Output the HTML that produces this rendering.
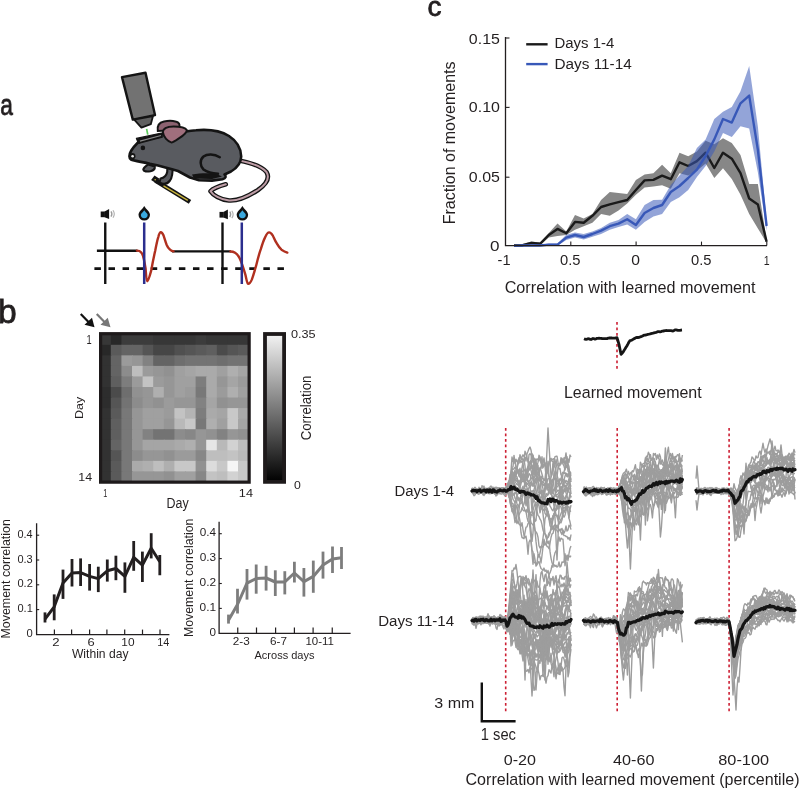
<!DOCTYPE html>
<html><head><meta charset="utf-8"><style>
html,body{margin:0;padding:0;background:#fff;}
svg{display:block;will-change:transform;}
text{font-family:"Liberation Sans",sans-serif;stroke:#231f20;stroke-width:0px;}
</style></head><body>
<svg width="800" height="789" viewBox="0 0 800 789">
<rect width="800" height="789" fill="#fff"/>
<text font-size="29.44" fill="#231f20" style="stroke-width:0.8px" transform="translate(0.29,114.90) scale(0.772,1)">a</text>
<text font-size="32.69" fill="#231f20" style="stroke-width:0.8px" transform="translate(-2.08,323.20) scale(1.026,1)">b</text>
<text font-size="28.52" fill="#231f20" style="stroke-width:0.8px" transform="translate(427.59,16.20) scale(0.975,1)">c</text>
<text font-size="11.88" fill="#231f20"  transform="translate(86.55,344.20) scale(0.783,1)">1</text>
<text font-size="11.74" fill="#231f20"  transform="translate(78.27,480.70) scale(1.060,1)">14</text>
<text font-size="11.22" fill="#231f20" transform="translate(82.84,419.00) rotate(-90) scale(1.111,1)">Day</text>
<text font-size="11.74" fill="#231f20"  transform="translate(103.25,497.00) scale(0.627,1)">1</text>
<text font-size="11.74" fill="#231f20"  transform="translate(238.84,497.00) scale(1.085,1)">14</text>
<text font-size="13.91" fill="#231f20"  transform="translate(166.60,507.60) scale(0.896,1)">Day</text>
<text font-size="10.57" fill="#231f20"  transform="translate(290.89,338.30) scale(1.202,1)">0.35</text>
<text font-size="10.00" fill="#231f20"  transform="translate(294.11,489.00) scale(1.229,1)">0</text>
<text font-size="14.34" fill="#231f20" transform="translate(310.90,440.36) rotate(-90) scale(0.924,1)">Correlation</text>
<text font-size="11.43" fill="#231f20"  transform="translate(17.46,537.75) scale(0.955,1)">0.4</text>
<text font-size="11.43" fill="#231f20"  transform="translate(17.46,562.60) scale(0.962,1)">0.3</text>
<text font-size="11.43" fill="#231f20"  transform="translate(17.46,587.45) scale(0.969,1)">0.2</text>
<text font-size="11.43" fill="#231f20"  transform="translate(17.46,612.30) scale(0.966,1)">0.1</text>
<text font-size="11.43" fill="#231f20"  transform="translate(26.45,637.15) scale(0.984,1)">0</text>
<text font-size="11.57" fill="#231f20"  transform="translate(52.14,645.90) scale(1.140,1)">2</text>
<text font-size="11.57" fill="#231f20"  transform="translate(87.45,645.90) scale(1.115,1)">6</text>
<text font-size="11.57" fill="#231f20"  transform="translate(121.31,645.90) scale(1.028,1)">10</text>
<text font-size="11.74" fill="#231f20"  transform="translate(157.19,645.90) scale(0.924,1)">14</text>
<text font-size="12.41" fill="#231f20"  transform="translate(71.94,658.00) scale(0.976,1)">Within day</text>
<text font-size="12.41" fill="#231f20" transform="translate(10.20,638.49) rotate(-90) scale(1.001,1)">Movement correlation</text>
<text font-size="11.43" fill="#231f20"  transform="translate(199.63,536.45) scale(1.027,1)">0.4</text>
<text font-size="11.43" fill="#231f20"  transform="translate(199.63,561.35) scale(1.035,1)">0.3</text>
<text font-size="11.43" fill="#231f20"  transform="translate(199.62,586.25) scale(1.043,1)">0.2</text>
<text font-size="11.43" fill="#231f20"  transform="translate(199.62,611.15) scale(1.039,1)">0.1</text>
<text font-size="11.43" fill="#231f20"  transform="translate(209.53,636.05) scale(1.021,1)">0</text>
<text font-size="10.86" fill="#231f20"  transform="translate(232.81,645.10) scale(1.081,1)">2-3</text>
<text font-size="10.86" fill="#231f20"  transform="translate(270.01,645.10) scale(1.082,1)">6-7</text>
<text font-size="10.86" fill="#231f20"  transform="translate(305.44,645.10) scale(1.058,1)">10-11</text>
<text font-size="11.31" fill="#231f20"  transform="translate(254.50,658.80) scale(0.976,1)">Across days</text>
<text font-size="12.41" fill="#231f20" transform="translate(193.00,637.09) rotate(-90) scale(0.995,1)">Movement correlation</text>
<text font-size="14.29" fill="#231f20"  transform="translate(468.86,43.70) scale(1.118,1)">0.15</text>
<text font-size="14.29" fill="#231f20"  transform="translate(468.86,112.40) scale(1.116,1)">0.10</text>
<text font-size="14.29" fill="#231f20"  transform="translate(468.86,182.20) scale(1.118,1)">0.05</text>
<text font-size="14.29" fill="#231f20"  transform="translate(490.12,251.00) scale(1.196,1)">0</text>
<text font-size="14.06" fill="#231f20"  transform="translate(497.54,264.90) scale(1.040,1)">-1</text>
<text font-size="13.86" fill="#231f20"  transform="translate(560.01,264.90) scale(1.063,1)">0.5</text>
<text font-size="13.86" fill="#231f20"  transform="translate(631.27,264.90) scale(1.128,1)">0</text>
<text font-size="13.86" fill="#231f20"  transform="translate(691.01,264.90) scale(1.063,1)">0.5</text>
<text font-size="13.62" fill="#231f20"  transform="translate(763.81,264.60) scale(0.776,1)">1</text>
<text font-size="16.14" fill="#231f20"  transform="translate(504.69,293.20) scale(1.003,1)">Correlation with learned movement</text>
<text font-size="15.59" fill="#231f20" transform="translate(455.00,224.28) rotate(-90) scale(1.027,1)">Fraction of movements</text>
<text font-size="14.93" fill="#231f20"  transform="translate(554.50,48.40) scale(1.002,1)">Days 1-4</text>
<text font-size="15.22" fill="#231f20"  transform="translate(554.47,68.50) scale(1.008,1)">Days 11-14</text>
<text font-size="15.59" fill="#231f20"  transform="translate(563.97,397.90) scale(1.026,1)">Learned movement</text>
<text font-size="15.07" fill="#231f20"  transform="translate(394.40,496.00) scale(0.992,1)">Days 1-4</text>
<text font-size="15.07" fill="#231f20"  transform="translate(378.19,626.00) scale(1.001,1)">Days 11-14</text>
<text font-size="13.71" fill="#231f20"  transform="translate(434.36,707.50) scale(1.172,1)">3 mm</text>
<text font-size="16.38" fill="#231f20"  transform="translate(480.80,739.80) scale(0.899,1)">1 sec</text>
<text font-size="15.43" fill="#231f20"  transform="translate(503.76,765.40) scale(1.044,1)">0-20</text>
<text font-size="15.43" fill="#231f20"  transform="translate(612.98,765.40) scale(1.050,1)">40-60</text>
<text font-size="15.43" fill="#231f20"  transform="translate(718.27,765.40) scale(1.057,1)">80-100</text>
<text font-size="16.41" fill="#231f20"  transform="translate(465.50,784.80) scale(0.980,1)">Correlation with learned movement (percentile)</text>
<rect x="100.20" y="334.25" width="11.60" height="11.55" fill="rgb(55,55,55)"/>
<rect x="110.80" y="334.25" width="11.60" height="11.55" fill="rgb(40,40,40)"/>
<rect x="121.40" y="334.25" width="11.60" height="11.55" fill="rgb(60,60,60)"/>
<rect x="132.00" y="334.25" width="11.60" height="11.55" fill="rgb(60,60,60)"/>
<rect x="142.60" y="334.25" width="11.60" height="11.55" fill="rgb(60,60,60)"/>
<rect x="153.20" y="334.25" width="11.60" height="11.55" fill="rgb(55,55,55)"/>
<rect x="163.80" y="334.25" width="11.60" height="11.55" fill="rgb(55,55,55)"/>
<rect x="174.40" y="334.25" width="11.60" height="11.55" fill="rgb(55,55,55)"/>
<rect x="185.00" y="334.25" width="11.60" height="11.55" fill="rgb(55,55,55)"/>
<rect x="195.60" y="334.25" width="11.60" height="11.55" fill="rgb(60,60,60)"/>
<rect x="206.20" y="334.25" width="11.60" height="11.55" fill="rgb(55,55,55)"/>
<rect x="216.80" y="334.25" width="11.60" height="11.55" fill="rgb(55,55,55)"/>
<rect x="227.40" y="334.25" width="11.60" height="11.55" fill="rgb(55,55,55)"/>
<rect x="238.00" y="334.25" width="11.60" height="11.55" fill="rgb(55,55,55)"/>
<rect x="100.20" y="344.80" width="11.60" height="11.55" fill="rgb(40,40,40)"/>
<rect x="110.80" y="344.80" width="11.60" height="11.55" fill="rgb(90,90,90)"/>
<rect x="121.40" y="344.80" width="11.60" height="11.55" fill="rgb(100,100,100)"/>
<rect x="132.00" y="344.80" width="11.60" height="11.55" fill="rgb(100,100,100)"/>
<rect x="142.60" y="344.80" width="11.60" height="11.55" fill="rgb(85,85,85)"/>
<rect x="153.20" y="344.80" width="11.60" height="11.55" fill="rgb(70,70,70)"/>
<rect x="163.80" y="344.80" width="11.60" height="11.55" fill="rgb(70,70,70)"/>
<rect x="174.40" y="344.80" width="11.60" height="11.55" fill="rgb(80,80,80)"/>
<rect x="185.00" y="344.80" width="11.60" height="11.55" fill="rgb(85,85,85)"/>
<rect x="195.60" y="344.80" width="11.60" height="11.55" fill="rgb(90,90,90)"/>
<rect x="206.20" y="344.80" width="11.60" height="11.55" fill="rgb(95,95,95)"/>
<rect x="216.80" y="344.80" width="11.60" height="11.55" fill="rgb(75,75,75)"/>
<rect x="227.40" y="344.80" width="11.60" height="11.55" fill="rgb(85,85,85)"/>
<rect x="238.00" y="344.80" width="11.60" height="11.55" fill="rgb(90,90,90)"/>
<rect x="100.20" y="355.35" width="11.60" height="11.55" fill="rgb(50,50,50)"/>
<rect x="110.80" y="355.35" width="11.60" height="11.55" fill="rgb(100,100,100)"/>
<rect x="121.40" y="355.35" width="11.60" height="11.55" fill="rgb(155,155,155)"/>
<rect x="132.00" y="355.35" width="11.60" height="11.55" fill="rgb(150,150,150)"/>
<rect x="142.60" y="355.35" width="11.60" height="11.55" fill="rgb(130,130,130)"/>
<rect x="153.20" y="355.35" width="11.60" height="11.55" fill="rgb(100,100,100)"/>
<rect x="163.80" y="355.35" width="11.60" height="11.55" fill="rgb(100,100,100)"/>
<rect x="174.40" y="355.35" width="11.60" height="11.55" fill="rgb(110,110,110)"/>
<rect x="185.00" y="355.35" width="11.60" height="11.55" fill="rgb(115,115,115)"/>
<rect x="195.60" y="355.35" width="11.60" height="11.55" fill="rgb(115,115,115)"/>
<rect x="206.20" y="355.35" width="11.60" height="11.55" fill="rgb(115,115,115)"/>
<rect x="216.80" y="355.35" width="11.60" height="11.55" fill="rgb(110,110,110)"/>
<rect x="227.40" y="355.35" width="11.60" height="11.55" fill="rgb(115,115,115)"/>
<rect x="238.00" y="355.35" width="11.60" height="11.55" fill="rgb(115,115,115)"/>
<rect x="100.20" y="365.90" width="11.60" height="11.55" fill="rgb(50,50,50)"/>
<rect x="110.80" y="365.90" width="11.60" height="11.55" fill="rgb(100,100,100)"/>
<rect x="121.40" y="365.90" width="11.60" height="11.55" fill="rgb(140,140,140)"/>
<rect x="132.00" y="365.90" width="11.60" height="11.55" fill="rgb(190,190,190)"/>
<rect x="142.60" y="365.90" width="11.60" height="11.55" fill="rgb(155,155,155)"/>
<rect x="153.20" y="365.90" width="11.60" height="11.55" fill="rgb(150,150,150)"/>
<rect x="163.80" y="365.90" width="11.60" height="11.55" fill="rgb(145,145,145)"/>
<rect x="174.40" y="365.90" width="11.60" height="11.55" fill="rgb(160,160,160)"/>
<rect x="185.00" y="365.90" width="11.60" height="11.55" fill="rgb(165,165,165)"/>
<rect x="195.60" y="365.90" width="11.60" height="11.55" fill="rgb(170,170,170)"/>
<rect x="206.20" y="365.90" width="11.60" height="11.55" fill="rgb(170,170,170)"/>
<rect x="216.80" y="365.90" width="11.60" height="11.55" fill="rgb(160,160,160)"/>
<rect x="227.40" y="365.90" width="11.60" height="11.55" fill="rgb(175,175,175)"/>
<rect x="238.00" y="365.90" width="11.60" height="11.55" fill="rgb(165,165,165)"/>
<rect x="100.20" y="376.45" width="11.60" height="11.55" fill="rgb(50,50,50)"/>
<rect x="110.80" y="376.45" width="11.60" height="11.55" fill="rgb(95,95,95)"/>
<rect x="121.40" y="376.45" width="11.60" height="11.55" fill="rgb(125,125,125)"/>
<rect x="132.00" y="376.45" width="11.60" height="11.55" fill="rgb(155,155,155)"/>
<rect x="142.60" y="376.45" width="11.60" height="11.55" fill="rgb(195,195,195)"/>
<rect x="153.20" y="376.45" width="11.60" height="11.55" fill="rgb(155,155,155)"/>
<rect x="163.80" y="376.45" width="11.60" height="11.55" fill="rgb(150,150,150)"/>
<rect x="174.40" y="376.45" width="11.60" height="11.55" fill="rgb(160,160,160)"/>
<rect x="185.00" y="376.45" width="11.60" height="11.55" fill="rgb(160,160,160)"/>
<rect x="195.60" y="376.45" width="11.60" height="11.55" fill="rgb(125,125,125)"/>
<rect x="206.20" y="376.45" width="11.60" height="11.55" fill="rgb(170,170,170)"/>
<rect x="216.80" y="376.45" width="11.60" height="11.55" fill="rgb(150,150,150)"/>
<rect x="227.40" y="376.45" width="11.60" height="11.55" fill="rgb(165,165,165)"/>
<rect x="238.00" y="376.45" width="11.60" height="11.55" fill="rgb(155,155,155)"/>
<rect x="100.20" y="387.00" width="11.60" height="11.55" fill="rgb(45,45,45)"/>
<rect x="110.80" y="387.00" width="11.60" height="11.55" fill="rgb(75,75,75)"/>
<rect x="121.40" y="387.00" width="11.60" height="11.55" fill="rgb(110,110,110)"/>
<rect x="132.00" y="387.00" width="11.60" height="11.55" fill="rgb(145,145,145)"/>
<rect x="142.60" y="387.00" width="11.60" height="11.55" fill="rgb(150,150,150)"/>
<rect x="153.20" y="387.00" width="11.60" height="11.55" fill="rgb(175,175,175)"/>
<rect x="163.80" y="387.00" width="11.60" height="11.55" fill="rgb(150,150,150)"/>
<rect x="174.40" y="387.00" width="11.60" height="11.55" fill="rgb(160,160,160)"/>
<rect x="185.00" y="387.00" width="11.60" height="11.55" fill="rgb(155,155,155)"/>
<rect x="195.60" y="387.00" width="11.60" height="11.55" fill="rgb(120,120,120)"/>
<rect x="206.20" y="387.00" width="11.60" height="11.55" fill="rgb(170,170,170)"/>
<rect x="216.80" y="387.00" width="11.60" height="11.55" fill="rgb(155,155,155)"/>
<rect x="227.40" y="387.00" width="11.60" height="11.55" fill="rgb(175,175,175)"/>
<rect x="238.00" y="387.00" width="11.60" height="11.55" fill="rgb(160,160,160)"/>
<rect x="100.20" y="397.55" width="11.60" height="11.55" fill="rgb(45,45,45)"/>
<rect x="110.80" y="397.55" width="11.60" height="11.55" fill="rgb(85,85,85)"/>
<rect x="121.40" y="397.55" width="11.60" height="11.55" fill="rgb(115,115,115)"/>
<rect x="132.00" y="397.55" width="11.60" height="11.55" fill="rgb(140,140,140)"/>
<rect x="142.60" y="397.55" width="11.60" height="11.55" fill="rgb(150,150,150)"/>
<rect x="153.20" y="397.55" width="11.60" height="11.55" fill="rgb(145,145,145)"/>
<rect x="163.80" y="397.55" width="11.60" height="11.55" fill="rgb(155,155,155)"/>
<rect x="174.40" y="397.55" width="11.60" height="11.55" fill="rgb(150,150,150)"/>
<rect x="185.00" y="397.55" width="11.60" height="11.55" fill="rgb(150,150,150)"/>
<rect x="195.60" y="397.55" width="11.60" height="11.55" fill="rgb(130,130,130)"/>
<rect x="206.20" y="397.55" width="11.60" height="11.55" fill="rgb(165,165,165)"/>
<rect x="216.80" y="397.55" width="11.60" height="11.55" fill="rgb(145,145,145)"/>
<rect x="227.40" y="397.55" width="11.60" height="11.55" fill="rgb(150,150,150)"/>
<rect x="238.00" y="397.55" width="11.60" height="11.55" fill="rgb(150,150,150)"/>
<rect x="100.20" y="408.10" width="11.60" height="11.55" fill="rgb(50,50,50)"/>
<rect x="110.80" y="408.10" width="11.60" height="11.55" fill="rgb(90,90,90)"/>
<rect x="121.40" y="408.10" width="11.60" height="11.55" fill="rgb(120,120,120)"/>
<rect x="132.00" y="408.10" width="11.60" height="11.55" fill="rgb(150,150,150)"/>
<rect x="142.60" y="408.10" width="11.60" height="11.55" fill="rgb(160,160,160)"/>
<rect x="153.20" y="408.10" width="11.60" height="11.55" fill="rgb(160,160,160)"/>
<rect x="163.80" y="408.10" width="11.60" height="11.55" fill="rgb(155,155,155)"/>
<rect x="174.40" y="408.10" width="11.60" height="11.55" fill="rgb(195,195,195)"/>
<rect x="185.00" y="408.10" width="11.60" height="11.55" fill="rgb(180,180,180)"/>
<rect x="195.60" y="408.10" width="11.60" height="11.55" fill="rgb(125,125,125)"/>
<rect x="206.20" y="408.10" width="11.60" height="11.55" fill="rgb(170,170,170)"/>
<rect x="216.80" y="408.10" width="11.60" height="11.55" fill="rgb(165,165,165)"/>
<rect x="227.40" y="408.10" width="11.60" height="11.55" fill="rgb(200,200,200)"/>
<rect x="238.00" y="408.10" width="11.60" height="11.55" fill="rgb(170,170,170)"/>
<rect x="100.20" y="418.65" width="11.60" height="11.55" fill="rgb(50,50,50)"/>
<rect x="110.80" y="418.65" width="11.60" height="11.55" fill="rgb(95,95,95)"/>
<rect x="121.40" y="418.65" width="11.60" height="11.55" fill="rgb(120,120,120)"/>
<rect x="132.00" y="418.65" width="11.60" height="11.55" fill="rgb(150,150,150)"/>
<rect x="142.60" y="418.65" width="11.60" height="11.55" fill="rgb(160,160,160)"/>
<rect x="153.20" y="418.65" width="11.60" height="11.55" fill="rgb(160,160,160)"/>
<rect x="163.80" y="418.65" width="11.60" height="11.55" fill="rgb(150,150,150)"/>
<rect x="174.40" y="418.65" width="11.60" height="11.55" fill="rgb(185,185,185)"/>
<rect x="185.00" y="418.65" width="11.60" height="11.55" fill="rgb(200,200,200)"/>
<rect x="195.60" y="418.65" width="11.60" height="11.55" fill="rgb(120,120,120)"/>
<rect x="206.20" y="418.65" width="11.60" height="11.55" fill="rgb(175,175,175)"/>
<rect x="216.80" y="418.65" width="11.60" height="11.55" fill="rgb(160,160,160)"/>
<rect x="227.40" y="418.65" width="11.60" height="11.55" fill="rgb(200,200,200)"/>
<rect x="238.00" y="418.65" width="11.60" height="11.55" fill="rgb(165,165,165)"/>
<rect x="100.20" y="429.20" width="11.60" height="11.55" fill="rgb(50,50,50)"/>
<rect x="110.80" y="429.20" width="11.60" height="11.55" fill="rgb(95,95,95)"/>
<rect x="121.40" y="429.20" width="11.60" height="11.55" fill="rgb(120,120,120)"/>
<rect x="132.00" y="429.20" width="11.60" height="11.55" fill="rgb(150,150,150)"/>
<rect x="142.60" y="429.20" width="11.60" height="11.55" fill="rgb(130,130,130)"/>
<rect x="153.20" y="429.20" width="11.60" height="11.55" fill="rgb(115,115,115)"/>
<rect x="163.80" y="429.20" width="11.60" height="11.55" fill="rgb(115,115,115)"/>
<rect x="174.40" y="429.20" width="11.60" height="11.55" fill="rgb(140,140,140)"/>
<rect x="185.00" y="429.20" width="11.60" height="11.55" fill="rgb(135,135,135)"/>
<rect x="195.60" y="429.20" width="11.60" height="11.55" fill="rgb(150,150,150)"/>
<rect x="206.20" y="429.20" width="11.60" height="11.55" fill="rgb(145,145,145)"/>
<rect x="216.80" y="429.20" width="11.60" height="11.55" fill="rgb(130,130,130)"/>
<rect x="227.40" y="429.20" width="11.60" height="11.55" fill="rgb(150,150,150)"/>
<rect x="238.00" y="429.20" width="11.60" height="11.55" fill="rgb(145,145,145)"/>
<rect x="100.20" y="439.75" width="11.60" height="11.55" fill="rgb(50,50,50)"/>
<rect x="110.80" y="439.75" width="11.60" height="11.55" fill="rgb(100,100,100)"/>
<rect x="121.40" y="439.75" width="11.60" height="11.55" fill="rgb(120,120,120)"/>
<rect x="132.00" y="439.75" width="11.60" height="11.55" fill="rgb(150,150,150)"/>
<rect x="142.60" y="439.75" width="11.60" height="11.55" fill="rgb(165,165,165)"/>
<rect x="153.20" y="439.75" width="11.60" height="11.55" fill="rgb(165,165,165)"/>
<rect x="163.80" y="439.75" width="11.60" height="11.55" fill="rgb(165,165,165)"/>
<rect x="174.40" y="439.75" width="11.60" height="11.55" fill="rgb(170,170,170)"/>
<rect x="185.00" y="439.75" width="11.60" height="11.55" fill="rgb(175,175,175)"/>
<rect x="195.60" y="439.75" width="11.60" height="11.55" fill="rgb(150,150,150)"/>
<rect x="206.20" y="439.75" width="11.60" height="11.55" fill="rgb(230,230,230)"/>
<rect x="216.80" y="439.75" width="11.60" height="11.55" fill="rgb(185,185,185)"/>
<rect x="227.40" y="439.75" width="11.60" height="11.55" fill="rgb(210,210,210)"/>
<rect x="238.00" y="439.75" width="11.60" height="11.55" fill="rgb(190,190,190)"/>
<rect x="100.20" y="450.30" width="11.60" height="11.55" fill="rgb(50,50,50)"/>
<rect x="110.80" y="450.30" width="11.60" height="11.55" fill="rgb(85,85,85)"/>
<rect x="121.40" y="450.30" width="11.60" height="11.55" fill="rgb(120,120,120)"/>
<rect x="132.00" y="450.30" width="11.60" height="11.55" fill="rgb(140,140,140)"/>
<rect x="142.60" y="450.30" width="11.60" height="11.55" fill="rgb(150,150,150)"/>
<rect x="153.20" y="450.30" width="11.60" height="11.55" fill="rgb(150,150,150)"/>
<rect x="163.80" y="450.30" width="11.60" height="11.55" fill="rgb(145,145,145)"/>
<rect x="174.40" y="450.30" width="11.60" height="11.55" fill="rgb(155,155,155)"/>
<rect x="185.00" y="450.30" width="11.60" height="11.55" fill="rgb(155,155,155)"/>
<rect x="195.60" y="450.30" width="11.60" height="11.55" fill="rgb(135,135,135)"/>
<rect x="206.20" y="450.30" width="11.60" height="11.55" fill="rgb(190,190,190)"/>
<rect x="216.80" y="450.30" width="11.60" height="11.55" fill="rgb(190,190,190)"/>
<rect x="227.40" y="450.30" width="11.60" height="11.55" fill="rgb(195,195,195)"/>
<rect x="238.00" y="450.30" width="11.60" height="11.55" fill="rgb(185,185,185)"/>
<rect x="100.20" y="460.85" width="11.60" height="11.55" fill="rgb(50,50,50)"/>
<rect x="110.80" y="460.85" width="11.60" height="11.55" fill="rgb(90,90,90)"/>
<rect x="121.40" y="460.85" width="11.60" height="11.55" fill="rgb(120,120,120)"/>
<rect x="132.00" y="460.85" width="11.60" height="11.55" fill="rgb(170,170,170)"/>
<rect x="142.60" y="460.85" width="11.60" height="11.55" fill="rgb(175,175,175)"/>
<rect x="153.20" y="460.85" width="11.60" height="11.55" fill="rgb(190,190,190)"/>
<rect x="163.80" y="460.85" width="11.60" height="11.55" fill="rgb(175,175,175)"/>
<rect x="174.40" y="460.85" width="11.60" height="11.55" fill="rgb(200,200,200)"/>
<rect x="185.00" y="460.85" width="11.60" height="11.55" fill="rgb(200,200,200)"/>
<rect x="195.60" y="460.85" width="11.60" height="11.55" fill="rgb(145,145,145)"/>
<rect x="206.20" y="460.85" width="11.60" height="11.55" fill="rgb(220,220,220)"/>
<rect x="216.80" y="460.85" width="11.60" height="11.55" fill="rgb(200,200,200)"/>
<rect x="227.40" y="460.85" width="11.60" height="11.55" fill="rgb(245,245,245)"/>
<rect x="238.00" y="460.85" width="11.60" height="11.55" fill="rgb(200,200,200)"/>
<rect x="100.20" y="471.40" width="11.60" height="11.55" fill="rgb(50,50,50)"/>
<rect x="110.80" y="471.40" width="11.60" height="11.55" fill="rgb(90,90,90)"/>
<rect x="121.40" y="471.40" width="11.60" height="11.55" fill="rgb(120,120,120)"/>
<rect x="132.00" y="471.40" width="11.60" height="11.55" fill="rgb(150,150,150)"/>
<rect x="142.60" y="471.40" width="11.60" height="11.55" fill="rgb(150,150,150)"/>
<rect x="153.20" y="471.40" width="11.60" height="11.55" fill="rgb(150,150,150)"/>
<rect x="163.80" y="471.40" width="11.60" height="11.55" fill="rgb(145,145,145)"/>
<rect x="174.40" y="471.40" width="11.60" height="11.55" fill="rgb(160,160,160)"/>
<rect x="185.00" y="471.40" width="11.60" height="11.55" fill="rgb(160,160,160)"/>
<rect x="195.60" y="471.40" width="11.60" height="11.55" fill="rgb(135,135,135)"/>
<rect x="206.20" y="471.40" width="11.60" height="11.55" fill="rgb(195,195,195)"/>
<rect x="216.80" y="471.40" width="11.60" height="11.55" fill="rgb(190,190,190)"/>
<rect x="227.40" y="471.40" width="11.60" height="11.55" fill="rgb(210,210,210)"/>
<rect x="238.00" y="471.40" width="11.60" height="11.55" fill="rgb(200,200,200)"/>
<rect x="100.6" y="333.7" width="148.55" height="148.45" fill="none" stroke="#1e1a1b" stroke-width="3.2"/>
<defs><linearGradient id="cb" x1="0" y1="0" x2="0" y2="1"><stop offset="0" stop-color="#f4f4f4"/><stop offset="1" stop-color="#000"/></linearGradient></defs>
<rect x="265" y="334" width="19.1" height="147.85" fill="url(#cb)" stroke="#1e1a1b" stroke-width="3.8"/>
<line x1="80.75" y1="314" x2="89" y2="322.5" stroke="#111" stroke-width="2.2"/>
<polygon points="94.5,327.25 84.5,324.75 92,317.75" fill="#111"/>
<line x1="96.75" y1="314" x2="105" y2="322.5" stroke="#777" stroke-width="2.2"/>
<polygon points="110.5,327.25 100.5,324.75 107.75,317.75" fill="#777"/>
<path d="M36.6,523.2 V634.6 H169.4" fill="none" stroke="#231f20" stroke-width="1.3"/>
<line x1="36.6" y1="535.2" x2="39.2" y2="535.2" stroke="#231f20" stroke-width="1.1"/>
<line x1="36.6" y1="560" x2="39.2" y2="560" stroke="#231f20" stroke-width="1.1"/>
<line x1="36.6" y1="584.8" x2="39.2" y2="584.8" stroke="#231f20" stroke-width="1.1"/>
<line x1="36.6" y1="609.6" x2="39.2" y2="609.6" stroke="#231f20" stroke-width="1.1"/>
<line x1="54.4" y1="634.6" x2="54.4" y2="629.6" stroke="#231f20" stroke-width="1.2"/>
<line x1="71.6" y1="634.6" x2="71.6" y2="629.6" stroke="#231f20" stroke-width="1.2"/>
<line x1="89.6" y1="634.6" x2="89.6" y2="629.6" stroke="#231f20" stroke-width="1.2"/>
<line x1="106.9" y1="634.6" x2="106.9" y2="629.6" stroke="#231f20" stroke-width="1.2"/>
<line x1="124.7" y1="634.6" x2="124.7" y2="629.6" stroke="#231f20" stroke-width="1.2"/>
<line x1="142.5" y1="634.6" x2="142.5" y2="629.6" stroke="#231f20" stroke-width="1.2"/>
<line x1="160" y1="634.6" x2="160" y2="629.6" stroke="#231f20" stroke-width="1.2"/>
<polyline points="45,619.1 54.2,606.8 63,583.1 72,573 80.6,572.6 89.6,576.4 98.3,578.6 107.3,570.8 115.9,568.5 124.9,576.4 133.7,557.3 142.4,565.1 151.2,548.3 159.8,561.75" fill="none" stroke="#231f20" stroke-width="3" stroke-linejoin="round"/>
<line x1="45" y1="622.5" x2="45" y2="612.4" stroke="#231f20" stroke-width="2.8"/>
<line x1="54.2" y1="620.3" x2="54.2" y2="594.4" stroke="#231f20" stroke-width="2.8"/>
<line x1="63" y1="598.9" x2="63" y2="569.6" stroke="#231f20" stroke-width="2.8"/>
<line x1="72" y1="586.5" x2="72" y2="559" stroke="#231f20" stroke-width="2.8"/>
<line x1="80.6" y1="586" x2="80.6" y2="558.4" stroke="#231f20" stroke-width="2.8"/>
<line x1="89.6" y1="590.6" x2="89.6" y2="564" stroke="#231f20" stroke-width="2.8"/>
<line x1="98.3" y1="592.1" x2="98.3" y2="566.7" stroke="#231f20" stroke-width="2.8"/>
<line x1="107.3" y1="581.6" x2="107.3" y2="559.5" stroke="#231f20" stroke-width="2.8"/>
<line x1="115.9" y1="580.2" x2="115.9" y2="555.7" stroke="#231f20" stroke-width="2.8"/>
<line x1="124.9" y1="592.8" x2="124.9" y2="562.4" stroke="#231f20" stroke-width="2.8"/>
<line x1="133.7" y1="570.8" x2="133.7" y2="541" stroke="#231f20" stroke-width="2.8"/>
<line x1="142.4" y1="582" x2="142.4" y2="551.6" stroke="#231f20" stroke-width="2.8"/>
<line x1="151.2" y1="558.4" x2="151.2" y2="533.2" stroke="#231f20" stroke-width="2.8"/>
<line x1="159.8" y1="575.25" x2="159.8" y2="555" stroke="#231f20" stroke-width="2.8"/>
<path d="M219.1,521.8 V633.4 H350.6" fill="none" stroke="#231f20" stroke-width="1.3"/>
<line x1="219.1" y1="533.7" x2="221.8" y2="533.7" stroke="#231f20" stroke-width="1.1"/>
<line x1="219.1" y1="558.6" x2="221.8" y2="558.6" stroke="#231f20" stroke-width="1.1"/>
<line x1="219.1" y1="583.5" x2="221.8" y2="583.5" stroke="#231f20" stroke-width="1.1"/>
<line x1="219.1" y1="608.4" x2="221.8" y2="608.4" stroke="#231f20" stroke-width="1.1"/>
<line x1="237.75" y1="633.4" x2="237.75" y2="627.5" stroke="#231f20" stroke-width="1.2"/>
<line x1="256.5" y1="633.4" x2="256.5" y2="627.5" stroke="#231f20" stroke-width="1.2"/>
<line x1="275.6" y1="633.4" x2="275.6" y2="627.5" stroke="#231f20" stroke-width="1.2"/>
<line x1="294.4" y1="633.4" x2="294.4" y2="627.5" stroke="#231f20" stroke-width="1.2"/>
<line x1="313.1" y1="633.4" x2="313.1" y2="627.5" stroke="#231f20" stroke-width="1.2"/>
<line x1="332.25" y1="633.4" x2="332.25" y2="627.5" stroke="#231f20" stroke-width="1.2"/>
<polyline points="228.5,620.3 237.5,604.5 247,583.1 256.2,578.6 266.1,578 275.3,582 284.8,582 294.4,573 303.9,581.6 313.3,576.4 323,565.1 332.5,559 341.5,557.7" fill="none" stroke="#7d7d7d" stroke-width="3" stroke-linejoin="round"/>
<line x1="228.5" y1="623.6" x2="228.5" y2="614.6" stroke="#7d7d7d" stroke-width="2.8"/>
<line x1="237.5" y1="613.5" x2="237.5" y2="588.75" stroke="#7d7d7d" stroke-width="2.8"/>
<line x1="247" y1="599.6" x2="247" y2="569" stroke="#7d7d7d" stroke-width="2.8"/>
<line x1="256.2" y1="593.7" x2="256.2" y2="564.5" stroke="#7d7d7d" stroke-width="2.8"/>
<line x1="266.1" y1="590.6" x2="266.1" y2="565.8" stroke="#7d7d7d" stroke-width="2.8"/>
<line x1="275.3" y1="596" x2="275.3" y2="570.3" stroke="#7d7d7d" stroke-width="2.8"/>
<line x1="284.8" y1="594.4" x2="284.8" y2="571.2" stroke="#7d7d7d" stroke-width="2.8"/>
<line x1="294.4" y1="582.5" x2="294.4" y2="561.75" stroke="#7d7d7d" stroke-width="2.8"/>
<line x1="303.9" y1="596.6" x2="303.9" y2="568" stroke="#7d7d7d" stroke-width="2.8"/>
<line x1="313.3" y1="592.8" x2="313.3" y2="560.6" stroke="#7d7d7d" stroke-width="2.8"/>
<line x1="323" y1="578.6" x2="323" y2="551.6" stroke="#7d7d7d" stroke-width="2.8"/>
<line x1="332.5" y1="573" x2="332.5" y2="546.5" stroke="#7d7d7d" stroke-width="2.8"/>
<line x1="341.5" y1="569" x2="341.5" y2="547" stroke="#7d7d7d" stroke-width="2.8"/>
<polygon points="514.0,244.5 522.7,244.0 531.4,241.5 540.1,242.5 548.8,233.0 557.5,223.6 566.3,231.5 575.0,214.9 583.7,218.4 592.4,214.0 601.1,200.0 609.8,192.0 618.5,193.0 627.2,193.9 635.9,180.0 644.6,174.4 653.4,173.2 662.1,164.7 670.8,173.2 679.5,152.7 688.2,156.3 696.9,151.5 705.6,140.7 714.3,144.3 723.0,138.2 731.8,143.0 740.5,155.0 749.2,183.9 757.9,183.9 766.6,240.5 766.6,242.9 757.9,228.4 749.2,214.0 740.5,194.7 731.8,179.1 723.0,168.3 714.3,177.9 705.6,163.5 696.9,170.8 688.2,175.6 679.5,173.2 670.8,188.8 662.1,185.2 653.4,186.4 644.6,187.6 635.9,194.8 627.2,203.5 618.5,210.5 609.8,215.8 601.1,214.0 592.4,222.8 583.7,226.2 575.0,229.8 566.3,235.0 557.5,235.9 548.8,237.6 540.1,245.0 531.4,244.5 522.7,246.2 514.0,246.2" fill="#878787"/>
<polyline points="514.0,245.5 522.7,245.2 531.4,242.9 540.1,243.8 548.8,235.0 557.5,228.9 566.3,233.3 575.0,221.9 583.7,222.8 592.4,215.8 601.1,207.0 609.8,204.4 618.5,202.1 627.2,200.0 635.9,190.0 644.6,180.4 653.4,179.9 662.1,175.6 670.8,179.2 679.5,162.3 688.2,166.0 696.9,161.1 705.6,152.7 714.3,168.0 723.0,152.7 731.8,158.7 740.5,173.2 749.2,198.5 757.9,204.5 766.6,241.8" fill="none" stroke="#1a1a1a" stroke-width="2.4" stroke-linejoin="round"/>
<polygon points="514.0,245.0 522.7,244.8 531.4,244.8 540.1,244.8 548.8,243.5 557.5,243.5 566.3,234.7 575.0,232.4 583.7,234.0 592.4,231.5 601.1,228.0 609.8,222.8 618.5,220.0 627.2,214.0 635.9,219.2 644.6,205.0 653.4,200.0 662.1,199.7 670.8,185.0 679.5,175.6 688.2,166.0 696.9,148.0 705.6,139.4 714.3,119.0 723.0,111.7 731.8,107.0 740.5,91.3 749.2,66.0 757.9,126.7 766.6,221.0 766.6,231.0 757.9,172.4 749.2,128.6 740.5,126.2 731.8,137.0 723.0,133.0 714.3,151.4 705.6,165.9 696.9,177.0 688.2,190.0 679.5,197.2 670.8,202.0 662.1,214.0 653.4,216.5 644.6,222.0 635.9,229.8 627.2,224.5 618.5,227.0 609.8,229.8 601.1,234.1 592.4,236.8 583.7,239.4 575.0,237.6 566.3,239.9 557.5,245.8 548.8,245.8 540.1,246.3 531.4,246.3 522.7,246.3 514.0,246.5" fill="#3a5ab8" fill-opacity="0.55"/>
<polyline points="514.0,245.9 522.7,245.5 531.4,245.5 540.1,245.5 548.8,244.6 557.5,244.6 566.3,237.6 575.0,235.0 583.7,237.0 592.4,234.0 601.1,230.6 609.8,226.2 618.5,223.6 627.2,219.2 635.9,225.0 644.6,213.0 653.4,208.0 662.1,205.0 670.8,192.0 679.5,186.0 688.2,178.0 696.9,169.6 705.6,156.0 714.3,139.4 723.0,119.0 731.8,122.6 740.5,103.3 749.2,95.6 757.9,150.0 766.6,226.0" fill="none" stroke="#3858b8" stroke-width="2.4" stroke-linejoin="round"/>
<path d="M505.5,37 V245.6 H767" fill="none" stroke="#231f20" stroke-width="1.3"/>
<line x1="505.5" y1="38" x2="509.5" y2="38" stroke="#231f20" stroke-width="1.1"/>
<line x1="505.5" y1="107.4" x2="509.5" y2="107.4" stroke="#231f20" stroke-width="1.1"/>
<line x1="505.5" y1="177.2" x2="509.5" y2="177.2" stroke="#231f20" stroke-width="1.1"/>
<line x1="570.8" y1="245.6" x2="570.8" y2="241.6" stroke="#231f20" stroke-width="1.1"/>
<line x1="636.1" y1="245.6" x2="636.1" y2="241.6" stroke="#231f20" stroke-width="1.1"/>
<line x1="701.5" y1="245.6" x2="701.5" y2="241.6" stroke="#231f20" stroke-width="1.1"/>
<line x1="766.8" y1="245.6" x2="766.8" y2="241.6" stroke="#231f20" stroke-width="1.1"/>
<line x1="526.2" y1="44.3" x2="547.6" y2="44.3" stroke="#1a1a1a" stroke-width="2.4"/>
<line x1="526.2" y1="64.1" x2="547.6" y2="64.1" stroke="#3858b8" stroke-width="2.4"/>
<line x1="94.4" y1="268.6" x2="284.5" y2="268.6" stroke="#111" stroke-width="2.8" stroke-dasharray="6.5 7.58"/>
<line x1="105.25" y1="222.5" x2="105.25" y2="284" stroke="#111" stroke-width="2.4"/>
<line x1="222.5" y1="222.5" x2="222.5" y2="284" stroke="#111" stroke-width="2.4"/>
<line x1="96.9" y1="250.7" x2="137.5" y2="250.7" stroke="#111" stroke-width="2.4"/>
<line x1="172" y1="251.4" x2="231" y2="251.4" stroke="#111" stroke-width="2.4"/>
<path d="M136.9,250.6 C139,250.6 140.5,251.5 141.25,252.5 C142.8,254.5 143.5,257 143.75,258.75 C144.5,262 145,265 145.6,268.75 C146,273 146.3,281.2 147.2,281.2 C148.5,281.2 150,275 151.4,269.8 C152.5,263 154,256 155.2,250.8 C156.3,245 157.3,240 158.3,237.1 C159,234 160,232.2 160.9,232.2 C162,232.2 162.8,233.8 163.6,235.6 C164.6,238.5 165.5,242 166.6,244.7 C167.6,247 168.6,248.5 169.7,249.3 C171,250.4 172.2,251.2 173.5,251.2" fill="none" stroke="#b0301f" stroke-width="2.4" stroke-linecap="round"/>
<path d="M230.5,251.5 C234,251.5 237.5,254 239.5,258 C242,263 244,270 245.3,274.4 C246.3,278 247,283.9 248.2,283.9 C249.5,283.9 251,281.5 251.9,279.4 C253.5,275 254.5,271 256,266.2 C257.5,260 259,254 260.9,248.9 C262.5,243.5 264,239.5 265.1,237.4 C266.5,234 267.5,232.4 269.2,232.4 C270.8,232.4 271.8,234 272.9,235.7 C274,238 275,241 276.6,243.1 C278,245.5 279.5,248 281.5,249.7 C283.5,251 285.5,252 287.3,252.6" fill="none" stroke="#b0301f" stroke-width="2.4" stroke-linecap="round"/>
<line x1="144.2" y1="222.5" x2="144.2" y2="284" stroke="#2b2e8e" stroke-width="2.5"/>
<line x1="241.8" y1="222.5" x2="241.8" y2="284" stroke="#2b2e8e" stroke-width="2.5"/>
<rect x="100.7" y="211.5" width="4.2" height="5.7" fill="#111"/>
<polygon points="104.60000000000001,211.5 109.10000000000001,209.1 109.10000000000001,218.9 104.60000000000001,217.2" fill="#111"/>
<path d="M111.0,211.29999999999998 Q112.8,214.0 111.0,216.7" fill="none" stroke="#9a9a9a" stroke-width="1.3"/>
<path d="M113.0,210.29999999999998 Q115.60000000000001,214.0 113.0,217.7" fill="none" stroke="#b0b0b0" stroke-width="1.1"/>
<rect x="219.5" y="211.9" width="4.2" height="5.7" fill="#111"/>
<polygon points="223.4,211.9 227.9,209.5 227.9,219.3 223.4,217.6" fill="#111"/>
<path d="M229.8,211.7 Q231.6,214.4 229.8,217.1" fill="none" stroke="#9a9a9a" stroke-width="1.3"/>
<path d="M231.8,210.7 Q234.4,214.4 231.8,218.1" fill="none" stroke="#b0b0b0" stroke-width="1.1"/>
<path d="M144.25,206.0 C145.75,209.0 150.0,211.5 150.0,214.85 A5.75,5.75 0 0 1 138.5,214.85 C138.5,211.5 142.75,209.0 144.25,206.0 Z" fill="#111"/>
<path d="M144.25,210.3 C145.25,212.2 147.65,213.4 147.65,214.85 A3.4,3.4 0 0 1 140.85,214.85 C140.85,213.4 143.25,212.2 144.25,210.3 Z" fill="#3aa9df"/>
<path d="M242.4,206.0 C243.9,209.0 248.15,211.5 248.15,214.85 A5.75,5.75 0 0 1 236.65,214.85 C236.65,211.5 240.9,209.0 242.4,206.0 Z" fill="#111"/>
<path d="M242.4,210.3 C243.4,212.2 245.8,213.4 245.8,214.85 A3.4,3.4 0 0 1 239.0,214.85 C239.0,213.4 241.4,212.2 242.4,210.3 Z" fill="#3aa9df"/>
<polygon points="122,77.1 145.5,72.7 155,115.1 132.8,119.6" fill="#727272" stroke="#141414" stroke-width="2.4" stroke-linejoin="round"/>
<polygon points="134.2,119.6 153,116.1 150.8,124.2 141.4,127.6" fill="#606060" stroke="#141414" stroke-width="1.8" stroke-linejoin="round"/>
<line x1="146.6" y1="128.8" x2="147.8" y2="134.6" stroke="#5ccc5c" stroke-width="1.7"/>
<path d="M239,160.4 C250,162.5 261,166 266.5,172 C270,178 266,184.5 258,190 C248,196.5 238,201.2 229,200.5 C220,199.5 213,195 210.5,191.2 C213,188.5 219,186.2 225.8,184.3" fill="none" stroke="#141414" stroke-width="4.6" stroke-linecap="round" stroke-linejoin="round"/>
<path d="M239,160.4 C250,162.5 261,166 266.5,172 C270,178 266,184.5 258,190 C248,196.5 238,201.2 229,200.5 C220,199.5 213,195 210.5,191.2 C213,188.5 219,186.2 225.8,184.3" fill="none" stroke="#bd9ca5" stroke-width="2.0" stroke-linecap="round" stroke-linejoin="round"/>
<path d="M157.8,131 C157,126 159,122.5 164,121.5 C170,120.3 177,120.8 179,123.5 C180.5,126 179,129 176,130 Z" fill="#8c6270" stroke="#141414" stroke-width="2"/>
<line x1="155.5" y1="180.6" x2="190" y2="201.9" stroke="#141414" stroke-width="4.6"/>
<line x1="163.5" y1="185.9" x2="187.8" y2="200.4" stroke="#c9b53c" stroke-width="1.3"/>
<polygon points="151.1,179.9 154.5,175.4 159.5,178.8 156.5,183.5" fill="#141414"/>
<circle cx="155.2" cy="179.7" r="0.8" fill="#c9b53c"/>
<path d="M167.6,163.5 L167.2,172 C166.5,175.5 164,177.8 160.5,178.6 L159.5,182.5 C163.5,184.8 167.5,183.8 170,180.5 C172.5,177 172.8,172 172.6,166.5 Z" fill="#595b60" stroke="#141414" stroke-width="2.1" stroke-linejoin="round"/>
<path d="M148,164.5 C146,166 143.5,167.5 143.3,169.6 C143.5,171.6 147,171.8 150.5,171.2 C153.5,170.5 155,168.5 154.8,166.5 Z" fill="#595b60" stroke="#141414" stroke-width="2.1" stroke-linejoin="round"/>
<path d="M129.4,156.2 C129.3,152.5 133,147.5 137.5,143 L150,137.5 L163,134 C175,133.4 188,130.8 196,130.3 C208,129.2 220,130.5 229,136 C236,140.5 241,148 241.2,156.5 C241,163.5 237,168 231,171.5 L224.5,174.5 C226.5,176 226,178.5 222.5,179.3 L212,180.6 L199,180.2 L190,177.5 L178,171 C170,168.5 160,166 150,163.8 C143,162 134,161 131,159.5 C129.8,158.5 129.4,157.4 129.4,156.2 Z" fill="#595b60" stroke="#141414" stroke-width="2.6" stroke-linejoin="round"/>
<path d="M192,174.5 C200,173 210,173 216,173.8 L222,176.5 L212,179 L194,178.5 Z" fill="#141414"/>
<path d="M219.8,157.2 C214,153.5 207,153.8 203.5,156.5 C199.5,160 200,166 203.5,169.5 C207.5,172.5 213,173.5 218,173.7" fill="none" stroke="#141414" stroke-width="2.5" stroke-linecap="round"/>
<path d="M162.8,132 C163,128 167,126.5 173.7,126.4 C179,126.4 185,127 186.8,130 C187,133 182,136.5 178.5,138.6 C175,141 172,142.8 171.2,142.4 C168,141.5 163.5,137.5 162.8,132 Z" fill="#a06f7d" stroke="#141414" stroke-width="2"/>
<polygon points="136.4,138.4 161.5,133 162.3,137.2 138.3,143.3" fill="#141414" stroke="#141414" stroke-width="1.2" stroke-linejoin="round"/>
<line x1="140" y1="141.2" x2="161" y2="135.5" stroke="#8a8a8a" stroke-width="1.2"/>
<circle cx="142.9" cy="147.9" r="2.3" fill="#141414"/>
<circle cx="132.4" cy="156.2" r="3.1" fill="#141414"/>
<circle cx="132.6" cy="156.3" r="1.3" fill="#eee"/>
<line x1="505.7" y1="428" x2="505.7" y2="711.5" stroke="#cc1f33" stroke-width="1.6" stroke-dasharray="2.7 2.8"/>
<line x1="617.2" y1="428" x2="617.2" y2="711.5" stroke="#cc1f33" stroke-width="1.6" stroke-dasharray="2.7 2.8"/>
<line x1="729.1" y1="428" x2="729.1" y2="711.5" stroke="#cc1f33" stroke-width="1.6" stroke-dasharray="2.7 2.8"/>
<line x1="617" y1="322" x2="617" y2="370" stroke="#cc1f33" stroke-width="1.6" stroke-dasharray="2.7 2.8"/>
<polyline points="584.0,338.8 585.0,339.2 586.0,339.4 587.0,339.1 588.0,338.7 589.0,338.8 590.0,339.3 591.0,339.5 592.0,339.0 593.0,338.5 594.0,338.7 595.0,339.1 596.0,338.8 597.0,338.4 598.0,338.3 599.0,338.2 600.0,338.3 601.0,338.4 602.0,338.5 603.0,338.7 604.0,338.6 605.0,338.6 606.0,338.7 607.0,338.6 608.0,338.2 609.0,338.0 610.0,338.0 611.0,338.0 612.0,338.0 613.0,338.2 614.0,338.2 615.0,338.1 616.0,337.8 617.0,337.7 618.0,341.0 619.0,344.4 620.0,349.3 621.0,354.3 622.0,353.5 623.0,352.2 624.0,350.6 625.0,348.9 626.0,347.3 627.0,345.7 628.0,343.9 629.0,342.0 630.0,340.6 631.0,340.4 632.0,340.0 633.0,339.4 634.0,338.8 635.0,338.2 636.0,337.6 637.0,337.4 638.0,337.5 639.0,337.4 640.0,337.0 641.0,336.6 642.0,336.2 643.0,335.7 644.0,335.2 645.0,335.1 646.0,335.0 647.0,334.7 648.0,334.3 649.0,334.2 650.0,334.0 651.0,333.6 652.0,333.4 653.0,333.2 654.0,332.9 655.0,332.7 656.0,332.5 657.0,332.0 658.0,331.6 659.0,331.7 660.0,331.9 661.0,331.6 662.0,331.2 663.0,331.0 664.0,331.0 665.0,330.7 666.0,330.5 667.0,330.6 668.0,330.6 669.0,330.6 670.0,330.7 671.0,330.7 672.0,330.9 673.0,331.0 674.0,330.5 675.0,329.9 676.0,329.8 677.0,330.1 678.0,330.4 679.0,330.4 680.0,330.3 681.0,330.1 682.0,330.0" fill="none" stroke="#151515" stroke-width="2.8" stroke-linejoin="round"/>
<g fill="none" stroke="#9d9d9d" stroke-width="1.4" stroke-linejoin="round"><polyline points="472.0,487.9 473.0,491.1 474.0,493.9 475.0,490.3 476.0,491.7 477.0,490.5 478.0,491.1 479.0,491.1 480.0,491.8 481.0,492.0 482.0,490.5 483.0,489.8 484.0,490.3 485.0,491.5 486.0,493.0 487.0,491.8 488.0,492.5 489.0,493.4 490.0,492.2 491.0,492.8 492.0,491.9 493.0,491.3 494.0,493.0 495.0,492.9 496.0,492.3 497.0,490.3 498.0,489.6 499.0,490.3 500.0,490.9 501.0,491.8 502.0,489.7 503.0,487.7 504.0,489.7 505.0,490.0 506.0,490.5 507.0,486.4 508.0,483.5 509.0,484.6 510.0,483.5 511.0,472.4 512.0,467.4 513.0,466.9 514.0,455.4 515.0,463.3 516.0,459.2 517.0,461.8 518.0,462.6 519.0,457.8 520.0,462.8 521.0,460.1 522.0,458.1 523.0,460.2 524.0,459.0 525.0,466.1 526.0,478.2 527.0,480.0 528.0,471.8 529.0,464.4 530.0,462.7 531.0,459.7 532.0,453.8 533.0,455.7 534.0,459.8 535.0,458.8 536.0,461.3 537.0,467.0 538.0,470.7 539.0,470.9 540.0,478.2 541.0,490.0 542.0,492.4 543.0,501.5 544.0,497.2 545.0,499.4 546.0,493.4 547.0,494.5 548.0,494.9 549.0,488.1 550.0,492.8 551.0,490.2 552.0,480.3 553.0,481.3 554.0,478.6 555.0,477.9 556.0,491.3 557.0,478.3 558.0,467.4 559.0,465.3 560.0,465.5 561.0,457.7 562.0,460.0 563.0,463.0 564.0,459.4 565.0,465.0 566.0,460.9 567.0,456.6 568.0,463.8 569.0,466.8 570.0,477.5 571.0,479.7"/><polyline points="472.0,491.5 473.0,490.7 474.0,490.8 475.0,491.4 476.0,491.9 477.0,491.5 478.0,492.0 479.0,491.2 480.0,490.5 481.0,489.9 482.0,490.9 483.0,494.8 484.0,494.6 485.0,493.6 486.0,492.0 487.0,492.6 488.0,493.5 489.0,492.9 490.0,491.8 491.0,490.0 492.0,491.7 493.0,489.4 494.0,490.0 495.0,490.1 496.0,488.4 497.0,487.5 498.0,488.3 499.0,489.8 500.0,490.1 501.0,492.7 502.0,491.3 503.0,492.6 504.0,491.8 505.0,490.4 506.0,490.4 507.0,491.7 508.0,490.9 509.0,493.8 510.0,500.3 511.0,503.8 512.0,508.1 513.0,508.7 514.0,512.4 515.0,517.1 516.0,519.0 517.0,515.5 518.0,507.6 519.0,505.3 520.0,503.8 521.0,503.1 522.0,502.0 523.0,506.6 524.0,507.3 525.0,510.6 526.0,511.5 527.0,517.4 528.0,521.3 529.0,522.9 530.0,521.1 531.0,515.4 532.0,514.7 533.0,515.4 534.0,519.7 535.0,530.5 536.0,541.4 537.0,549.6 538.0,553.7 539.0,557.3 540.0,553.0 541.0,548.3 542.0,544.6 543.0,538.0 544.0,530.6 545.0,518.7 546.0,516.3 547.0,514.0 548.0,511.6 549.0,518.4 550.0,521.7 551.0,522.3 552.0,521.9 553.0,519.1 554.0,516.9 555.0,511.8 556.0,509.0 557.0,507.0 558.0,500.6 559.0,502.9 560.0,496.3 561.0,487.2 562.0,494.5 563.0,504.9 564.0,505.2 565.0,504.5 566.0,502.4 567.0,500.2 568.0,511.1 569.0,518.4 570.0,521.8 571.0,526.7"/><polyline points="472.0,491.2 473.0,493.3 474.0,491.3 475.0,488.6 476.0,488.6 477.0,490.0 478.0,489.4 479.0,489.9 480.0,490.2 481.0,490.0 482.0,491.2 483.0,492.6 484.0,494.0 485.0,493.9 486.0,493.2 487.0,492.0 488.0,488.5 489.0,488.4 490.0,488.9 491.0,490.5 492.0,487.9 493.0,487.1 494.0,489.4 495.0,491.3 496.0,495.1 497.0,495.2 498.0,493.3 499.0,489.6 500.0,489.1 501.0,491.9 502.0,491.9 503.0,490.7 504.0,487.9 505.0,490.3 506.0,490.2 507.0,488.0 508.0,488.5 509.0,486.1 510.0,486.0 511.0,486.5 512.0,477.0 513.0,481.1 514.0,480.2 515.0,474.1 516.0,472.4 517.0,468.6 518.0,464.4 519.0,462.7 520.0,454.7 521.0,458.2 522.0,456.9 523.0,454.8 524.0,456.5 525.0,457.3 526.0,461.0 527.0,453.7 528.0,451.3 529.0,448.7 530.0,447.0 531.0,449.9 532.0,456.0 533.0,457.6 534.0,466.5 535.0,471.6 536.0,475.9 537.0,477.3 538.0,481.7 539.0,490.3 540.0,498.9 541.0,497.5 542.0,496.8 543.0,500.6 544.0,494.4 545.0,492.0 546.0,469.5 547.0,449.8 548.0,428.0 549.0,445.4 550.0,461.3 551.0,476.6 552.0,474.3 553.0,464.0 554.0,467.3 555.0,465.3 556.0,459.5 557.0,463.9 558.0,465.5 559.0,469.0 560.0,468.5 561.0,474.9 562.0,476.1 563.0,483.4 564.0,484.6 565.0,487.4 566.0,485.3 567.0,490.2 568.0,487.2 569.0,485.6 570.0,477.3 571.0,474.9"/><polyline points="472.0,489.5 473.0,488.6 474.0,490.4 475.0,493.1 476.0,493.0 477.0,491.8 478.0,488.9 479.0,488.5 480.0,490.0 481.0,490.6 482.0,493.0 483.0,492.1 484.0,491.6 485.0,490.5 486.0,490.3 487.0,490.8 488.0,491.9 489.0,493.5 490.0,493.7 491.0,491.9 492.0,490.9 493.0,490.3 494.0,493.3 495.0,493.6 496.0,491.7 497.0,488.3 498.0,488.3 499.0,488.0 500.0,489.3 501.0,489.5 502.0,488.8 503.0,488.4 504.0,488.3 505.0,489.7 506.0,490.2 507.0,491.5 508.0,487.1 509.0,484.9 510.0,481.4 511.0,475.3 512.0,472.9 513.0,481.9 514.0,478.7 515.0,475.7 516.0,472.3 517.0,471.7 518.0,471.6 519.0,471.8 520.0,470.6 521.0,474.8 522.0,467.3 523.0,461.8 524.0,475.0 525.0,478.2 526.0,476.6 527.0,471.7 528.0,470.1 529.0,462.3 530.0,465.1 531.0,461.2 532.0,462.6 533.0,455.3 534.0,459.4 535.0,464.1 536.0,465.2 537.0,468.3 538.0,465.1 539.0,475.6 540.0,479.9 541.0,476.1 542.0,478.1 543.0,479.0 544.0,480.7 545.0,478.5 546.0,469.6 547.0,473.4 548.0,467.9 549.0,462.1 550.0,462.0 551.0,459.0 552.0,460.2 553.0,458.8 554.0,459.0 555.0,466.2 556.0,471.1 557.0,475.2 558.0,478.6 559.0,485.9 560.0,490.5 561.0,486.6 562.0,487.9 563.0,483.5 564.0,484.9 565.0,486.2 566.0,485.3 567.0,485.7 568.0,482.9 569.0,481.0 570.0,484.7 571.0,494.0"/><polyline points="472.0,489.0 473.0,490.6 474.0,492.2 475.0,491.3 476.0,491.1 477.0,490.2 478.0,489.6 479.0,490.2 480.0,489.6 481.0,490.0 482.0,490.5 483.0,491.2 484.0,492.5 485.0,491.8 486.0,491.3 487.0,489.8 488.0,490.1 489.0,492.6 490.0,491.9 491.0,491.3 492.0,490.7 493.0,489.9 494.0,488.2 495.0,487.4 496.0,489.3 497.0,490.7 498.0,490.7 499.0,487.8 500.0,488.3 501.0,491.4 502.0,492.2 503.0,489.9 504.0,490.1 505.0,490.9 506.0,490.1 507.0,488.5 508.0,490.1 509.0,492.5 510.0,496.0 511.0,492.3 512.0,496.7 513.0,495.0 514.0,495.1 515.0,492.3 516.0,493.4 517.0,495.7 518.0,493.9 519.0,492.4 520.0,487.8 521.0,483.3 522.0,481.3 523.0,481.6 524.0,480.9 525.0,475.4 526.0,474.6 527.0,478.0 528.0,481.7 529.0,482.9 530.0,486.0 531.0,485.8 532.0,480.4 533.0,473.0 534.0,465.8 535.0,470.8 536.0,474.1 537.0,478.0 538.0,482.2 539.0,484.0 540.0,490.7 541.0,492.6 542.0,496.4 543.0,494.9 544.0,499.1 545.0,497.9 546.0,496.6 547.0,495.8 548.0,494.6 549.0,491.5 550.0,492.0 551.0,490.3 552.0,489.8 553.0,490.8 554.0,488.9 555.0,488.9 556.0,492.8 557.0,491.6 558.0,489.9 559.0,491.1 560.0,496.1 561.0,500.2 562.0,504.0 563.0,509.4 564.0,507.2 565.0,508.4 566.0,505.3 567.0,506.8 568.0,507.1 569.0,506.7 570.0,511.3 571.0,510.8"/><polyline points="472.0,491.0 473.0,491.2 474.0,490.4 475.0,489.5 476.0,490.3 477.0,490.4 478.0,490.2 479.0,492.6 480.0,491.8 481.0,492.8 482.0,490.9 483.0,489.0 484.0,490.8 485.0,492.7 486.0,493.1 487.0,492.2 488.0,491.6 489.0,492.1 490.0,491.0 491.0,491.9 492.0,491.5 493.0,490.2 494.0,490.8 495.0,491.1 496.0,493.0 497.0,491.2 498.0,491.1 499.0,493.9 500.0,493.4 501.0,494.1 502.0,494.0 503.0,493.4 504.0,493.1 505.0,491.2 506.0,490.0 507.0,490.4 508.0,491.2 509.0,491.6 510.0,497.4 511.0,504.1 512.0,511.6 513.0,511.7 514.0,514.2 515.0,502.3 516.0,516.3 517.0,522.2 518.0,521.4 519.0,524.0 520.0,524.9 521.0,526.1 522.0,522.6 523.0,529.5 524.0,535.3 525.0,537.7 526.0,536.1 527.0,542.5 528.0,554.2 529.0,542.2 530.0,540.0 531.0,541.5 532.0,549.9 533.0,552.1 534.0,562.5 535.0,562.7 536.0,563.1 537.0,563.7 538.0,554.6 539.0,555.7 540.0,557.0 541.0,563.0 542.0,555.5 543.0,547.0 544.0,539.2 545.0,544.0 546.0,543.7 547.0,546.5 548.0,546.8 549.0,548.7 550.0,543.5 551.0,537.5 552.0,533.9 553.0,533.3 554.0,529.5 555.0,527.6 556.0,525.2 557.0,526.5 558.0,528.3 559.0,530.5 560.0,529.5 561.0,532.7 562.0,534.6 563.0,530.0 564.0,533.2 565.0,531.0 566.0,526.0 567.0,531.1 568.0,530.1 569.0,525.2 570.0,526.2 571.0,529.6"/><polyline points="472.0,490.0 473.0,489.7 474.0,490.8 475.0,492.0 476.0,492.4 477.0,491.7 478.0,494.1 479.0,494.2 480.0,492.7 481.0,491.2 482.0,491.5 483.0,492.2 484.0,491.3 485.0,488.6 486.0,488.5 487.0,489.1 488.0,488.6 489.0,490.6 490.0,491.4 491.0,490.2 492.0,492.2 493.0,493.0 494.0,492.9 495.0,492.8 496.0,496.1 497.0,492.7 498.0,490.6 499.0,489.7 500.0,489.5 501.0,490.8 502.0,489.9 503.0,490.6 504.0,490.9 505.0,490.6 506.0,491.2 507.0,490.5 508.0,486.6 509.0,484.1 510.0,480.1 511.0,481.8 512.0,477.0 513.0,480.7 514.0,478.8 515.0,476.0 516.0,476.9 517.0,469.2 518.0,471.3 519.0,473.1 520.0,473.1 521.0,475.8 522.0,472.2 523.0,470.6 524.0,469.5 525.0,471.2 526.0,472.8 527.0,474.9 528.0,471.3 529.0,470.2 530.0,469.3 531.0,467.4 532.0,466.3 533.0,476.0 534.0,484.1 535.0,483.4 536.0,480.6 537.0,485.1 538.0,492.3 539.0,492.7 540.0,491.4 541.0,493.8 542.0,493.0 543.0,492.9 544.0,492.3 545.0,488.6 546.0,484.6 547.0,489.8 548.0,485.5 549.0,484.2 550.0,482.7 551.0,477.6 552.0,473.9 553.0,464.9 554.0,460.8 555.0,456.6 556.0,456.3 557.0,456.1 558.0,462.2 559.0,464.5 560.0,463.9 561.0,460.3 562.0,458.3 563.0,462.1 564.0,457.8 565.0,459.0 566.0,452.9 567.0,462.4 568.0,467.1 569.0,470.5 570.0,472.0 571.0,473.5"/><polyline points="472.0,489.1 473.0,489.2 474.0,489.8 475.0,489.7 476.0,489.5 477.0,490.9 478.0,491.1 479.0,491.6 480.0,492.3 481.0,491.1 482.0,485.7 483.0,486.4 484.0,487.9 485.0,489.1 486.0,490.7 487.0,490.6 488.0,491.5 489.0,493.4 490.0,491.2 491.0,490.8 492.0,491.4 493.0,492.3 494.0,492.4 495.0,493.9 496.0,493.6 497.0,492.0 498.0,489.6 499.0,488.6 500.0,489.0 501.0,491.0 502.0,492.2 503.0,492.3 504.0,492.9 505.0,493.7 506.0,493.6 507.0,491.5 508.0,489.7 509.0,487.4 510.0,488.6 511.0,489.9 512.0,488.9 513.0,487.2 514.0,487.8 515.0,488.4 516.0,486.8 517.0,488.1 518.0,490.5 519.0,492.6 520.0,492.5 521.0,492.3 522.0,490.2 523.0,489.4 524.0,493.9 525.0,500.7 526.0,496.6 527.0,492.3 528.0,491.5 529.0,491.8 530.0,491.1 531.0,490.7 532.0,492.5 533.0,490.4 534.0,490.4 535.0,493.2 536.0,496.3 537.0,498.7 538.0,501.5 539.0,500.2 540.0,500.8 541.0,502.7 542.0,502.4 543.0,505.3 544.0,506.7 545.0,513.4 546.0,514.7 547.0,515.9 548.0,515.6 549.0,518.7 550.0,518.6 551.0,518.9 552.0,518.7 553.0,516.3 554.0,514.5 555.0,515.2 556.0,515.3 557.0,514.9 558.0,517.8 559.0,519.9 560.0,516.0 561.0,513.4 562.0,511.5 563.0,505.1 564.0,505.3 565.0,503.9 566.0,500.0 567.0,501.0 568.0,500.8 569.0,501.0 570.0,502.3 571.0,502.1"/><polyline points="472.0,491.3 473.0,491.8 474.0,492.0 475.0,490.0 476.0,490.4 477.0,489.9 478.0,491.4 479.0,490.3 480.0,489.0 481.0,487.9 482.0,489.1 483.0,489.6 484.0,490.6 485.0,491.4 486.0,490.9 487.0,490.4 488.0,489.8 489.0,489.2 490.0,488.2 491.0,489.4 492.0,489.2 493.0,488.2 494.0,488.7 495.0,490.1 496.0,490.2 497.0,490.1 498.0,490.5 499.0,493.1 500.0,492.8 501.0,491.5 502.0,490.9 503.0,491.4 504.0,491.6 505.0,492.0 506.0,492.4 507.0,493.4 508.0,493.6 509.0,497.3 510.0,496.8 511.0,503.7 512.0,503.2 513.0,503.6 514.0,508.8 515.0,505.4 516.0,506.3 517.0,506.3 518.0,512.4 519.0,516.2 520.0,521.5 521.0,532.7 522.0,537.5 523.0,538.0 524.0,538.7 525.0,532.4 526.0,527.2 527.0,526.9 528.0,523.5 529.0,522.9 530.0,521.6 531.0,530.4 532.0,541.4 533.0,532.8 534.0,515.7 535.0,521.5 536.0,520.5 537.0,508.3 538.0,502.8 539.0,495.1 540.0,498.8 541.0,498.6 542.0,504.6 543.0,513.8 544.0,522.7 545.0,533.9 546.0,537.6 547.0,540.9 548.0,543.5 549.0,541.0 550.0,551.4 551.0,558.1 552.0,562.7 553.0,564.6 554.0,564.7 555.0,566.5 556.0,565.3 557.0,567.1 558.0,566.2 559.0,561.9 560.0,567.0 561.0,566.2 562.0,562.0 563.0,562.3 564.0,561.7 565.0,553.8 566.0,559.7 567.0,555.9 568.0,560.5 569.0,553.5 570.0,548.4 571.0,546.0"/><polyline points="472.0,489.6 473.0,491.3 474.0,491.5 475.0,490.4 476.0,492.7 477.0,492.2 478.0,492.1 479.0,490.8 480.0,490.3 481.0,491.2 482.0,489.8 483.0,489.2 484.0,490.2 485.0,489.8 486.0,488.3 487.0,489.8 488.0,490.6 489.0,488.9 490.0,490.8 491.0,490.9 492.0,488.8 493.0,491.4 494.0,491.9 495.0,491.6 496.0,487.1 497.0,490.5 498.0,491.1 499.0,493.1 500.0,493.2 501.0,488.9 502.0,490.0 503.0,491.6 504.0,491.8 505.0,489.3 506.0,487.6 507.0,488.4 508.0,493.4 509.0,494.9 510.0,502.8 511.0,506.0 512.0,508.9 513.0,512.5 514.0,515.5 515.0,522.6 516.0,519.8 517.0,523.5 518.0,521.5 519.0,510.5 520.0,500.7 521.0,496.7 522.0,488.3 523.0,486.2 524.0,495.0 525.0,490.6 526.0,492.2 527.0,497.4 528.0,506.4 529.0,520.1 530.0,528.5 531.0,538.6 532.0,553.3 533.0,564.3 534.0,553.8 535.0,559.3 536.0,566.1 537.0,564.8 538.0,562.8 539.0,561.4 540.0,565.5 541.0,568.5 542.0,569.2 543.0,570.5 544.0,568.1 545.0,571.3 546.0,570.1 547.0,573.0 548.0,570.4 549.0,574.8 550.0,572.7 551.0,570.0 552.0,565.3 553.0,567.1 554.0,556.9 555.0,552.9 556.0,551.0 557.0,549.7 558.0,541.2 559.0,537.0 560.0,541.2 561.0,538.1 562.0,539.0 563.0,539.2 564.0,552.1 565.0,565.7 566.0,560.2 567.0,555.3 568.0,555.5 569.0,556.1 570.0,557.1 571.0,555.7"/><polyline points="472.0,490.8 473.0,491.5 474.0,488.5 475.0,487.3 476.0,488.8 477.0,489.2 478.0,489.2 479.0,488.8 480.0,489.6 481.0,489.1 482.0,490.3 483.0,493.1 484.0,495.6 485.0,492.1 486.0,489.0 487.0,489.0 488.0,489.1 489.0,489.9 490.0,492.1 491.0,491.2 492.0,490.4 493.0,490.6 494.0,489.4 495.0,490.0 496.0,489.6 497.0,489.8 498.0,491.2 499.0,492.4 500.0,492.3 501.0,490.4 502.0,489.8 503.0,490.5 504.0,491.8 505.0,492.5 506.0,491.3 507.0,487.6 508.0,484.6 509.0,482.2 510.0,479.3 511.0,477.2 512.0,476.8 513.0,477.5 514.0,477.3 515.0,478.8 516.0,481.3 517.0,480.0 518.0,483.4 519.0,485.0 520.0,482.6 521.0,477.7 522.0,476.5 523.0,479.8 524.0,481.3 525.0,483.1 526.0,482.2 527.0,483.7 528.0,484.1 529.0,480.5 530.0,481.1 531.0,475.6 532.0,472.9 533.0,472.9 534.0,473.7 535.0,468.8 536.0,469.3 537.0,473.1 538.0,475.7 539.0,474.6 540.0,477.6 541.0,477.8 542.0,482.7 543.0,481.2 544.0,483.3 545.0,484.3 546.0,484.6 547.0,485.4 548.0,487.2 549.0,487.0 550.0,493.7 551.0,493.8 552.0,493.5 553.0,492.3 554.0,494.4 555.0,496.5 556.0,494.7 557.0,495.0 558.0,494.0 559.0,492.4 560.0,496.3 561.0,496.7 562.0,500.3 563.0,495.5 564.0,497.3 565.0,498.9 566.0,498.4 567.0,493.6 568.0,492.3 569.0,489.8 570.0,487.5 571.0,488.8"/><polyline points="472.0,488.5 473.0,488.6 474.0,489.8 475.0,491.9 476.0,493.4 477.0,492.9 478.0,491.9 479.0,490.9 480.0,491.3 481.0,492.8 482.0,492.3 483.0,490.9 484.0,490.7 485.0,491.6 486.0,490.7 487.0,490.1 488.0,488.9 489.0,489.6 490.0,489.3 491.0,489.2 492.0,491.1 493.0,492.2 494.0,491.7 495.0,491.3 496.0,491.2 497.0,491.1 498.0,489.5 499.0,489.2 500.0,489.8 501.0,490.5 502.0,491.3 503.0,492.8 504.0,492.0 505.0,490.0 506.0,489.0 507.0,490.0 508.0,489.5 509.0,487.6 510.0,484.6 511.0,487.2 512.0,488.2 513.0,487.8 514.0,490.6 515.0,489.9 516.0,490.3 517.0,488.0 518.0,488.5 519.0,488.8 520.0,490.5 521.0,491.9 522.0,489.8 523.0,492.9 524.0,493.1 525.0,496.8 526.0,497.8 527.0,497.1 528.0,500.0 529.0,497.9 530.0,496.1 531.0,496.2 532.0,498.4 533.0,502.2 534.0,500.3 535.0,502.2 536.0,506.8 537.0,511.1 538.0,515.5 539.0,516.5 540.0,519.2 541.0,520.7 542.0,524.6 543.0,530.1 544.0,533.1 545.0,533.7 546.0,535.0 547.0,538.0 548.0,537.7 549.0,535.6 550.0,533.5 551.0,527.4 552.0,519.9 553.0,516.3 554.0,514.1 555.0,510.7 556.0,510.2 557.0,508.1 558.0,508.7 559.0,505.8 560.0,499.7 561.0,497.6 562.0,493.3 563.0,488.2 564.0,479.8 565.0,476.2 566.0,473.4 567.0,473.4 568.0,477.0 569.0,473.4 570.0,477.6 571.0,477.3"/><polyline points="472.0,491.1 473.0,490.3 474.0,490.9 475.0,488.0 476.0,488.3 477.0,490.8 478.0,492.8 479.0,491.8 480.0,490.8 481.0,490.5 482.0,489.8 483.0,490.2 484.0,491.3 485.0,491.1 486.0,491.1 487.0,490.7 488.0,491.6 489.0,490.8 490.0,492.5 491.0,492.6 492.0,490.6 493.0,490.0 494.0,491.1 495.0,491.1 496.0,491.1 497.0,491.4 498.0,490.8 499.0,491.5 500.0,491.7 501.0,492.3 502.0,493.0 503.0,492.1 504.0,492.2 505.0,491.9 506.0,491.5 507.0,489.7 508.0,486.5 509.0,481.9 510.0,480.3 511.0,477.4 512.0,468.2 513.0,469.6 514.0,468.5 515.0,467.3 516.0,469.2 517.0,466.2 518.0,473.4 519.0,473.2 520.0,476.0 521.0,476.2 522.0,474.4 523.0,475.9 524.0,479.0 525.0,481.6 526.0,484.2 527.0,487.5 528.0,490.3 529.0,487.4 530.0,487.6 531.0,484.6 532.0,484.4 533.0,485.7 534.0,482.5 535.0,478.7 536.0,478.3 537.0,477.2 538.0,478.2 539.0,481.1 540.0,480.3 541.0,480.1 542.0,485.5 543.0,488.5 544.0,495.3 545.0,499.6 546.0,504.2 547.0,514.0 548.0,515.4 549.0,519.1 550.0,525.7 551.0,527.5 552.0,526.0 553.0,518.6 554.0,514.4 555.0,512.6 556.0,510.1 557.0,509.1 558.0,507.0 559.0,508.7 560.0,502.5 561.0,504.5 562.0,497.1 563.0,493.7 564.0,489.7 565.0,492.1 566.0,487.9 567.0,491.5 568.0,489.3 569.0,491.6 570.0,493.2 571.0,493.6"/><polyline points="472.0,490.8 473.0,491.5 474.0,492.2 475.0,492.6 476.0,491.7 477.0,490.7 478.0,491.7 479.0,491.2 480.0,490.3 481.0,489.1 482.0,489.0 483.0,488.0 484.0,486.2 485.0,490.3 486.0,492.0 487.0,490.8 488.0,489.7 489.0,490.1 490.0,490.9 491.0,493.7 492.0,493.4 493.0,492.3 494.0,492.1 495.0,490.9 496.0,490.5 497.0,490.9 498.0,491.3 499.0,490.1 500.0,489.3 501.0,488.0 502.0,488.0 503.0,489.5 504.0,489.3 505.0,488.8 506.0,489.7 507.0,491.0 508.0,489.9 509.0,487.7 510.0,487.7 511.0,483.1 512.0,481.0 513.0,482.9 514.0,482.2 515.0,487.0 516.0,490.2 517.0,495.1 518.0,497.6 519.0,498.3 520.0,500.6 521.0,494.7 522.0,496.0 523.0,493.8 524.0,491.4 525.0,490.7 526.0,488.6 527.0,490.7 528.0,490.0 529.0,493.0 530.0,491.9 531.0,496.0 532.0,496.5 533.0,495.1 534.0,495.8 535.0,493.9 536.0,492.9 537.0,495.7 538.0,496.3 539.0,494.3 540.0,493.3 541.0,493.0 542.0,490.1 543.0,492.4 544.0,491.9 545.0,488.2 546.0,486.0 547.0,481.9 548.0,478.7 549.0,478.1 550.0,478.4 551.0,480.8 552.0,480.6 553.0,479.1 554.0,486.6 555.0,491.4 556.0,495.8 557.0,497.1 558.0,496.8 559.0,495.1 560.0,495.0 561.0,491.7 562.0,488.8 563.0,484.3 564.0,483.3 565.0,482.7 566.0,480.3 567.0,481.7 568.0,481.7 569.0,478.8 570.0,473.7 571.0,482.0"/><polyline points="472.0,488.5 473.0,490.6 474.0,490.5 475.0,491.2 476.0,491.4 477.0,491.3 478.0,492.0 479.0,491.9 480.0,489.0 481.0,489.3 482.0,488.9 483.0,489.3 484.0,490.2 485.0,492.6 486.0,492.4 487.0,491.3 488.0,492.5 489.0,490.7 490.0,491.6 491.0,491.2 492.0,492.2 493.0,491.9 494.0,492.5 495.0,494.2 496.0,493.1 497.0,492.0 498.0,491.1 499.0,491.7 500.0,493.3 501.0,490.3 502.0,489.2 503.0,489.6 504.0,488.4 505.0,490.8 506.0,490.4 507.0,487.8 508.0,487.1 509.0,488.6 510.0,481.1 511.0,470.8 512.0,457.0 513.0,461.6 514.0,461.2 515.0,461.3 516.0,467.8 517.0,472.4 518.0,469.5 519.0,472.0 520.0,468.3 521.0,475.9 522.0,480.5 523.0,475.7 524.0,480.7 525.0,485.6 526.0,472.4 527.0,468.8 528.0,466.4 529.0,466.4 530.0,461.4 531.0,461.5 532.0,466.5 533.0,472.0 534.0,472.7 535.0,476.1 536.0,475.7 537.0,477.6 538.0,476.3 539.0,474.3 540.0,469.1 541.0,466.9 542.0,463.0 543.0,464.1 544.0,466.2 545.0,462.7 546.0,466.7 547.0,467.4 548.0,468.8 549.0,465.1 550.0,459.0 551.0,458.3 552.0,461.4 553.0,461.8 554.0,472.9 555.0,476.6 556.0,480.9 557.0,483.2 558.0,484.4 559.0,485.0 560.0,480.2 561.0,479.5 562.0,473.7 563.0,472.2 564.0,473.6 565.0,472.6 566.0,475.3 567.0,476.5 568.0,475.6 569.0,473.4 570.0,472.3 571.0,474.7"/><polyline points="472.0,493.5 473.0,492.1 474.0,489.9 475.0,490.4 476.0,488.8 477.0,490.4 478.0,491.3 479.0,487.3 480.0,489.3 481.0,491.2 482.0,492.5 483.0,493.4 484.0,492.6 485.0,492.6 486.0,490.7 487.0,488.5 488.0,488.6 489.0,488.2 490.0,489.0 491.0,490.7 492.0,489.7 493.0,490.8 494.0,489.2 495.0,488.8 496.0,487.4 497.0,487.8 498.0,488.1 499.0,489.5 500.0,489.1 501.0,490.1 502.0,489.5 503.0,490.6 504.0,491.2 505.0,491.8 506.0,490.6 507.0,488.2 508.0,484.4 509.0,482.4 510.0,474.5 511.0,480.0 512.0,495.9 513.0,486.0 514.0,473.4 515.0,470.0 516.0,476.8 517.0,476.8 518.0,481.7 519.0,487.3 520.0,492.2 521.0,491.9 522.0,493.9 523.0,490.9 524.0,488.2 525.0,481.8 526.0,471.6 527.0,475.7 528.0,466.0 529.0,454.8 530.0,453.6 531.0,455.2 532.0,460.2 533.0,459.8 534.0,464.0 535.0,462.0 536.0,472.2 537.0,466.2 538.0,462.2 539.0,455.3 540.0,456.8 541.0,463.0 542.0,456.8 543.0,467.8 544.0,464.7 545.0,465.0 546.0,466.6 547.0,472.6 548.0,472.7 549.0,476.6 550.0,477.5 551.0,485.6 552.0,490.3 553.0,482.8 554.0,473.6 555.0,473.3 556.0,467.8 557.0,463.7 558.0,464.9 559.0,466.0 560.0,463.7 561.0,464.0 562.0,460.7 563.0,464.1 564.0,466.0 565.0,470.1 566.0,465.1 567.0,467.7 568.0,459.0 569.0,462.4 570.0,455.0 571.0,457.0"/><polyline points="472.0,489.6 473.0,488.7 474.0,489.8 475.0,491.1 476.0,491.2 477.0,489.5 478.0,489.6 479.0,490.6 480.0,490.9 481.0,489.9 482.0,491.1 483.0,491.9 484.0,490.0 485.0,488.4 486.0,489.2 487.0,489.6 488.0,489.5 489.0,488.2 490.0,488.3 491.0,489.2 492.0,490.6 493.0,490.3 494.0,491.7 495.0,493.4 496.0,493.2 497.0,492.7 498.0,493.2 499.0,492.0 500.0,490.4 501.0,489.4 502.0,488.0 503.0,488.1 504.0,489.6 505.0,490.2 506.0,489.8 507.0,491.1 508.0,490.1 509.0,491.0 510.0,489.8 511.0,489.8 512.0,490.5 513.0,493.7 514.0,494.2 515.0,498.1 516.0,500.0 517.0,503.8 518.0,505.8 519.0,505.5 520.0,501.3 521.0,498.6 522.0,499.4 523.0,491.8 524.0,488.9 525.0,486.5 526.0,485.4 527.0,483.5 528.0,484.6 529.0,486.0 530.0,487.0 531.0,496.5 532.0,511.8 533.0,501.1 534.0,490.3 535.0,484.5 536.0,490.9 537.0,494.6 538.0,494.5 539.0,497.2 540.0,499.2 541.0,496.9 542.0,496.6 543.0,495.3 544.0,494.5 545.0,487.6 546.0,486.2 547.0,486.2 548.0,484.9 549.0,484.0 550.0,487.7 551.0,488.0 552.0,493.0 553.0,491.8 554.0,489.6 555.0,488.3 556.0,489.4 557.0,486.9 558.0,485.6 559.0,485.3 560.0,487.0 561.0,487.7 562.0,491.3 563.0,493.6 564.0,489.9 565.0,488.0 566.0,492.7 567.0,496.1 568.0,498.2 569.0,500.7 570.0,503.0 571.0,503.2"/><polyline points="472.0,488.5 473.0,489.2 474.0,489.7 475.0,489.1 476.0,489.6 477.0,490.3 478.0,490.5 479.0,491.0 480.0,491.5 481.0,491.2 482.0,490.3 483.0,489.4 484.0,489.9 485.0,490.7 486.0,492.1 487.0,492.0 488.0,492.1 489.0,492.2 490.0,490.5 491.0,488.8 492.0,487.5 493.0,487.8 494.0,489.4 495.0,490.2 496.0,490.7 497.0,490.0 498.0,491.3 499.0,491.2 500.0,489.8 501.0,490.1 502.0,491.0 503.0,492.6 504.0,494.6 505.0,495.9 506.0,494.4 507.0,491.4 508.0,489.9 509.0,487.4 510.0,485.7 511.0,484.0 512.0,482.4 513.0,483.5 514.0,485.2 515.0,484.7 516.0,488.2 517.0,491.1 518.0,490.3 519.0,490.0 520.0,491.6 521.0,491.1 522.0,491.7 523.0,489.5 524.0,493.2 525.0,491.9 526.0,500.0 527.0,504.0 528.0,509.2 529.0,511.3 530.0,512.7 531.0,512.2 532.0,512.1 533.0,510.6 534.0,506.7 535.0,504.0 536.0,502.3 537.0,502.6 538.0,501.5 539.0,502.3 540.0,501.0 541.0,504.3 542.0,507.3 543.0,510.5 544.0,509.4 545.0,510.2 546.0,508.7 547.0,510.5 548.0,511.7 549.0,515.1 550.0,519.5 551.0,524.2 552.0,527.9 553.0,526.1 554.0,529.0 555.0,529.8 556.0,527.9 557.0,526.6 558.0,525.3 559.0,522.5 560.0,521.6 561.0,519.1 562.0,518.4 563.0,509.9 564.0,512.1 565.0,510.1 566.0,507.5 567.0,506.4 568.0,511.5 569.0,518.0 570.0,509.5 571.0,505.1"/><polyline points="472.0,488.2 473.0,490.9 474.0,491.5 475.0,491.8 476.0,492.2 477.0,493.2 478.0,492.7 479.0,493.5 480.0,491.3 481.0,490.8 482.0,489.7 483.0,490.4 484.0,490.1 485.0,491.3 486.0,490.9 487.0,491.5 488.0,491.9 489.0,491.5 490.0,491.8 491.0,491.1 492.0,491.8 493.0,491.5 494.0,491.6 495.0,492.1 496.0,490.6 497.0,490.1 498.0,491.5 499.0,490.1 500.0,489.8 501.0,489.9 502.0,490.0 503.0,488.9 504.0,488.4 505.0,489.6 506.0,490.1 507.0,489.8 508.0,486.4 509.0,485.7 510.0,482.2 511.0,482.8 512.0,470.6 513.0,472.5 514.0,473.5 515.0,473.4 516.0,472.1 517.0,472.0 518.0,472.7 519.0,476.3 520.0,477.1 521.0,478.6 522.0,474.4 523.0,475.5 524.0,477.7 525.0,477.0 526.0,476.9 527.0,473.2 528.0,470.4 529.0,467.0 530.0,469.7 531.0,470.1 532.0,475.1 533.0,474.7 534.0,472.5 535.0,471.1 536.0,472.9 537.0,474.8 538.0,471.0 539.0,471.3 540.0,467.4 541.0,470.6 542.0,474.3 543.0,477.9 544.0,480.3 545.0,479.1 546.0,483.6 547.0,469.5 548.0,461.1 549.0,475.7 550.0,486.6 551.0,494.4 552.0,495.6 553.0,501.1 554.0,505.9 555.0,509.3 556.0,514.7 557.0,516.7 558.0,520.0 559.0,524.1 560.0,522.2 561.0,522.8 562.0,519.8 563.0,513.8 564.0,512.2 565.0,509.8 566.0,510.1 567.0,505.5 568.0,504.5 569.0,503.7 570.0,495.3 571.0,497.2"/><polyline points="472.0,491.9 473.0,491.1 474.0,491.8 475.0,491.2 476.0,490.7 477.0,491.0 478.0,492.5 479.0,492.0 480.0,490.7 481.0,488.8 482.0,488.2 483.0,488.7 484.0,491.4 485.0,490.7 486.0,490.5 487.0,488.4 488.0,489.1 489.0,488.5 490.0,487.0 491.0,486.0 492.0,488.4 493.0,489.9 494.0,491.2 495.0,492.4 496.0,492.8 497.0,490.8 498.0,489.3 499.0,489.7 500.0,490.2 501.0,488.4 502.0,487.9 503.0,489.6 504.0,489.6 505.0,488.6 506.0,488.6 507.0,490.4 508.0,490.5 509.0,490.0 510.0,490.4 511.0,492.6 512.0,494.5 513.0,499.4 514.0,500.6 515.0,502.7 516.0,499.9 517.0,495.1 518.0,500.9 519.0,498.2 520.0,498.5 521.0,501.2 522.0,499.3 523.0,506.7 524.0,504.0 525.0,499.2 526.0,505.7 527.0,500.0 528.0,488.7 529.0,507.9 530.0,517.4 531.0,522.7 532.0,523.9 533.0,525.0 534.0,525.2 535.0,530.3 536.0,532.0 537.0,533.5 538.0,537.2 539.0,545.8 540.0,548.0 541.0,546.5 542.0,546.7 543.0,547.1 544.0,544.1 545.0,545.1 546.0,543.3 547.0,538.8 548.0,536.3 549.0,533.0 550.0,532.4 551.0,529.9 552.0,528.0 553.0,529.6 554.0,525.7 555.0,524.7 556.0,529.4 557.0,530.5 558.0,532.1 559.0,530.4 560.0,529.1 561.0,530.1 562.0,528.4 563.0,533.3 564.0,535.6 565.0,535.6 566.0,536.5 567.0,536.4 568.0,539.0 569.0,537.5 570.0,540.3 571.0,534.5"/><polyline points="472.0,490.1 473.0,491.3 474.0,492.6 475.0,492.5 476.0,492.9 477.0,491.4 478.0,490.9 479.0,489.5 480.0,489.9 481.0,491.1 482.0,492.3 483.0,491.6 484.0,489.8 485.0,490.6 486.0,491.5 487.0,492.7 488.0,491.7 489.0,491.8 490.0,492.1 491.0,492.6 492.0,492.5 493.0,492.5 494.0,492.4 495.0,490.5 496.0,489.7 497.0,489.6 498.0,491.6 499.0,492.4 500.0,491.6 501.0,490.1 502.0,490.3 503.0,491.2 504.0,489.8 505.0,488.5 506.0,486.6 507.0,487.8 508.0,489.2 509.0,488.3 510.0,485.1 511.0,479.5 512.0,476.3 513.0,473.7 514.0,473.9 515.0,477.7 516.0,478.4 517.0,479.0 518.0,482.1 519.0,480.3 520.0,483.2 521.0,479.4 522.0,475.8 523.0,480.0 524.0,478.4 525.0,476.2 526.0,478.0 527.0,480.9 528.0,481.3 529.0,482.5 530.0,484.2 531.0,481.9 532.0,482.7 533.0,486.3 534.0,484.8 535.0,486.4 536.0,490.4 537.0,495.2 538.0,495.4 539.0,500.0 540.0,502.3 541.0,509.3 542.0,507.7 543.0,504.6 544.0,506.4 545.0,501.3 546.0,501.2 547.0,502.3 548.0,505.1 549.0,501.3 550.0,506.1 551.0,507.7 552.0,509.8 553.0,510.9 554.0,507.6 555.0,506.1 556.0,500.1 557.0,500.0 558.0,497.4 559.0,496.9 560.0,497.4 561.0,504.5 562.0,505.6 563.0,499.9 564.0,498.0 565.0,499.4 566.0,495.4 567.0,494.7 568.0,489.4 569.0,487.0 570.0,481.6 571.0,481.4"/><polyline points="472.0,489.5 473.0,488.8 474.0,489.2 475.0,490.1 476.0,491.7 477.0,492.1 478.0,492.9 479.0,491.8 480.0,491.5 481.0,491.9 482.0,492.4 483.0,490.4 484.0,489.9 485.0,488.8 486.0,489.4 487.0,491.0 488.0,491.6 489.0,491.9 490.0,491.8 491.0,491.7 492.0,489.5 493.0,490.3 494.0,492.2 495.0,494.0 496.0,491.2 497.0,490.7 498.0,491.0 499.0,490.6 500.0,489.3 501.0,490.9 502.0,491.8 503.0,491.5 504.0,491.0 505.0,489.6 506.0,488.4 507.0,489.2 508.0,491.8 509.0,494.0 510.0,493.4 511.0,497.2 512.0,506.4 513.0,506.4 514.0,505.5 515.0,508.1 516.0,504.9 517.0,508.3 518.0,512.5 519.0,515.2 520.0,512.4 521.0,511.5 522.0,507.4 523.0,510.3 524.0,511.0 525.0,510.2 526.0,511.9 527.0,509.3 528.0,512.4 529.0,513.0 530.0,512.8 531.0,515.4 532.0,513.9 533.0,511.7 534.0,515.8 535.0,510.3 536.0,506.9 537.0,503.4 538.0,503.5 539.0,505.9 540.0,512.8 541.0,508.4 542.0,503.4 543.0,504.4 544.0,503.9 545.0,506.4 546.0,508.0 547.0,508.0 548.0,511.5 549.0,516.8 550.0,521.6 551.0,519.8 552.0,519.1 553.0,516.1 554.0,514.1 555.0,512.3 556.0,508.7 557.0,505.2 558.0,506.7 559.0,505.8 560.0,506.3 561.0,507.0 562.0,511.2 563.0,514.4 564.0,517.2 565.0,515.2 566.0,511.1 567.0,506.5 568.0,498.5 569.0,498.1 570.0,493.1 571.0,497.7"/><polyline points="472.0,487.7 473.0,490.3 474.0,488.5 475.0,489.9 476.0,492.2 477.0,492.5 478.0,492.5 479.0,493.4 480.0,493.2 481.0,490.6 482.0,490.4 483.0,491.1 484.0,491.0 485.0,488.6 486.0,489.0 487.0,489.8 488.0,489.5 489.0,490.4 490.0,491.5 491.0,490.9 492.0,492.0 493.0,493.4 494.0,491.6 495.0,489.5 496.0,490.6 497.0,492.1 498.0,491.3 499.0,488.5 500.0,488.3 501.0,489.5 502.0,489.4 503.0,489.8 504.0,491.1 505.0,491.6 506.0,490.5 507.0,486.3 508.0,482.9 509.0,480.8 510.0,482.1 511.0,478.7 512.0,484.1 513.0,477.7 514.0,473.5 515.0,473.8 516.0,472.6 517.0,466.5 518.0,460.1 519.0,459.4 520.0,460.0 521.0,461.1 522.0,462.6 523.0,460.6 524.0,460.9 525.0,451.3 526.0,453.8 527.0,457.3 528.0,462.0 529.0,463.2 530.0,465.3 531.0,468.6 532.0,465.2 533.0,469.7 534.0,462.2 535.0,467.0 536.0,460.5 537.0,458.8 538.0,459.6 539.0,460.9 540.0,457.8 541.0,461.8 542.0,468.4 543.0,463.4 544.0,457.9 545.0,465.7 546.0,476.2 547.0,483.8 548.0,490.3 549.0,490.0 550.0,489.4 551.0,487.1 552.0,497.3 553.0,497.0 554.0,496.0 555.0,518.0 556.0,538.3 557.0,560.0 558.0,537.7 559.0,506.0 560.0,483.6 561.0,484.0 562.0,480.5 563.0,473.9 564.0,472.2 565.0,467.6 566.0,460.8 567.0,462.8 568.0,471.0 569.0,472.5 570.0,479.5 571.0,478.4"/><polyline points="472.0,491.7 473.0,493.6 474.0,495.8 475.0,495.0 476.0,492.8 477.0,491.6 478.0,490.3 479.0,489.4 480.0,489.7 481.0,491.1 482.0,490.9 483.0,490.9 484.0,492.5 485.0,493.3 486.0,492.2 487.0,490.1 488.0,490.4 489.0,490.7 490.0,491.0 491.0,491.7 492.0,491.2 493.0,491.1 494.0,490.7 495.0,491.0 496.0,490.7 497.0,489.0 498.0,490.4 499.0,490.3 500.0,490.2 501.0,491.3 502.0,491.9 503.0,493.4 504.0,493.2 505.0,493.8 506.0,491.9 507.0,490.4 508.0,488.5 509.0,485.7 510.0,483.1 511.0,479.8 512.0,474.0 513.0,477.4 514.0,478.3 515.0,482.1 516.0,483.1 517.0,484.5 518.0,485.0 519.0,484.3 520.0,488.6 521.0,480.1 522.0,479.4 523.0,473.3 524.0,475.6 525.0,474.2 526.0,474.8 527.0,474.2 528.0,477.8 529.0,473.6 530.0,474.6 531.0,477.9 532.0,478.6 533.0,478.1 534.0,476.1 535.0,478.1 536.0,481.0 537.0,478.4 538.0,479.8 539.0,477.0 540.0,480.0 541.0,482.0 542.0,482.9 543.0,485.8 544.0,484.0 545.0,486.4 546.0,485.5 547.0,486.9 548.0,483.8 549.0,486.3 550.0,482.7 551.0,482.0 552.0,479.7 553.0,482.7 554.0,477.4 555.0,471.9 556.0,477.4 557.0,481.9 558.0,480.2 559.0,481.0 560.0,478.5 561.0,480.3 562.0,479.4 563.0,479.3 564.0,479.9 565.0,481.9 566.0,483.0 567.0,484.1 568.0,484.3 569.0,480.0 570.0,483.4 571.0,486.8"/></g>
<polyline points="472.0,491.0 473.0,490.3 474.0,490.6 475.0,490.6 476.0,490.5 477.0,491.8 478.0,490.6 479.0,490.5 480.0,489.9 481.0,491.8 482.0,491.0 483.0,490.7 484.0,490.1 485.0,490.5 486.0,491.9 487.0,490.1 488.0,490.0 489.0,491.7 490.0,490.0 491.0,491.2 492.0,492.1 493.0,489.8 494.0,490.0 495.0,491.6 496.0,491.6 497.0,492.1 498.0,490.9 499.0,490.8 500.0,489.9 501.0,490.5 502.0,490.7 503.0,490.9 504.0,490.1 505.0,490.5 506.0,491.3 507.0,491.1 508.0,489.9 509.0,489.6 510.0,489.5 511.0,486.6 512.0,488.8 513.0,487.8 514.0,487.1 515.0,488.9 516.0,489.6 517.0,489.1 518.0,490.8 519.0,491.0 520.0,492.4 521.0,491.2 522.0,491.6 523.0,491.7 524.0,491.6 525.0,492.9 526.0,494.5 527.0,492.9 528.0,493.1 529.0,494.1 530.0,493.8 531.0,495.0 532.0,494.8 533.0,494.9 534.0,495.2 535.0,496.5 536.0,498.4 537.0,496.8 538.0,500.4 539.0,500.2 540.0,501.8 541.0,502.3 542.0,503.0 543.0,502.8 544.0,503.1 545.0,503.8 546.0,503.1 547.0,503.7 548.0,499.5 549.0,500.8 550.0,498.9 551.0,501.7 552.0,499.3 553.0,499.1 554.0,500.9 555.0,501.3 556.0,500.3 557.0,501.0 558.0,501.7 559.0,503.2 560.0,501.9 561.0,502.4 562.0,503.1 563.0,502.5 564.0,502.1 565.0,502.3 566.0,503.2 567.0,502.2 568.0,502.9 569.0,501.4 570.0,501.9 571.0,501.6" fill="none" stroke="#151515" stroke-width="3.2" stroke-linejoin="round" stroke-linecap="round"/>
<g fill="none" stroke="#9d9d9d" stroke-width="1.4" stroke-linejoin="round"><polyline points="583.4,491.0 584.4,492.6 585.4,492.5 586.4,491.7 587.4,490.2 588.4,490.6 589.4,492.0 590.4,491.5 591.4,491.6 592.4,491.3 593.4,492.6 594.4,492.4 595.4,491.7 596.4,491.6 597.4,492.8 598.4,491.8 599.4,491.6 600.4,491.4 601.4,491.7 602.4,490.6 603.4,490.9 604.4,489.4 605.4,490.6 606.4,489.1 607.4,488.4 608.4,489.2 609.4,488.7 610.4,488.9 611.4,488.1 612.4,488.8 613.4,491.3 614.4,492.3 615.4,492.0 616.4,491.4 617.4,491.0 618.4,488.7 619.4,488.0 620.4,483.1 621.4,483.0 622.4,483.8 623.4,481.6 624.4,485.2 625.4,482.1 626.4,486.7 627.4,488.6 628.4,486.0 629.4,487.6 630.4,489.6 631.4,496.0 632.4,493.3 633.4,493.1 634.4,496.1 635.4,492.2 636.4,491.6 637.4,489.5 638.4,483.7 639.4,474.5 640.4,462.1 641.4,464.6 642.4,467.1 643.4,465.4 644.4,468.8 645.4,469.6 646.4,469.3 647.4,466.5 648.4,467.4 649.4,471.7 650.4,470.8 651.4,470.4 652.4,471.0 653.4,472.5 654.4,474.3 655.4,476.2 656.4,476.4 657.4,476.3 658.4,471.8 659.4,474.2 660.4,474.8 661.4,474.1 662.4,476.2 663.4,470.4 664.4,470.8 665.4,471.2 666.4,473.0 667.4,473.0 668.4,472.0 669.4,474.0 670.4,468.4 671.4,464.4 672.4,461.8 673.4,461.3 674.4,459.2 675.4,461.9 676.4,462.2 677.4,463.9 678.4,466.8 679.4,468.2 680.4,473.6 681.4,482.2 682.4,476.6"/><polyline points="583.4,489.0 584.4,491.6 585.4,492.7 586.4,492.0 587.4,491.5 588.4,490.7 589.4,492.8 590.4,492.3 591.4,490.9 592.4,490.6 593.4,490.5 594.4,490.9 595.4,493.0 596.4,493.7 597.4,493.2 598.4,492.0 599.4,491.0 600.4,491.8 601.4,491.8 602.4,491.8 603.4,490.4 604.4,490.4 605.4,492.1 606.4,492.6 607.4,491.1 608.4,490.8 609.4,490.6 610.4,492.0 611.4,490.5 612.4,490.4 613.4,491.8 614.4,491.5 615.4,490.5 616.4,491.0 617.4,491.3 618.4,489.2 619.4,488.7 620.4,489.7 621.4,486.9 622.4,488.8 623.4,493.6 624.4,493.0 625.4,495.3 626.4,496.0 627.4,495.9 628.4,495.7 629.4,498.1 630.4,497.9 631.4,497.1 632.4,494.1 633.4,492.5 634.4,489.3 635.4,486.0 636.4,484.2 637.4,482.2 638.4,481.2 639.4,480.2 640.4,479.2 641.4,482.0 642.4,480.0 643.4,481.0 644.4,478.6 645.4,480.2 646.4,481.0 647.4,481.3 648.4,481.5 649.4,485.0 650.4,484.8 651.4,484.5 652.4,482.7 653.4,483.4 654.4,483.2 655.4,485.0 656.4,485.4 657.4,485.7 658.4,485.0 659.4,486.5 660.4,488.1 661.4,492.1 662.4,497.1 663.4,490.5 664.4,487.4 665.4,485.2 666.4,484.7 667.4,485.4 668.4,481.7 669.4,481.8 670.4,478.7 671.4,476.6 672.4,473.8 673.4,474.8 674.4,477.6 675.4,474.5 676.4,475.1 677.4,474.8 678.4,473.8 679.4,471.5 680.4,473.4 681.4,470.9 682.4,470.9"/><polyline points="583.4,492.7 584.4,494.7 585.4,494.5 586.4,492.9 587.4,490.8 588.4,489.0 589.4,490.0 590.4,494.8 591.4,494.9 592.4,490.5 593.4,488.9 594.4,487.5 595.4,488.8 596.4,488.8 597.4,488.9 598.4,489.3 599.4,490.2 600.4,489.9 601.4,487.3 602.4,488.9 603.4,490.1 604.4,490.5 605.4,489.1 606.4,488.6 607.4,489.0 608.4,489.2 609.4,491.0 610.4,492.4 611.4,491.4 612.4,492.5 613.4,493.1 614.4,493.8 615.4,494.5 616.4,493.7 617.4,491.0 618.4,488.3 619.4,486.4 620.4,484.4 621.4,480.6 622.4,482.3 623.4,480.2 624.4,474.7 625.4,473.1 626.4,478.6 627.4,477.2 628.4,476.7 629.4,481.7 630.4,483.0 631.4,477.2 632.4,476.7 633.4,476.0 634.4,475.8 635.4,478.0 636.4,474.5 637.4,473.7 638.4,470.8 639.4,473.1 640.4,471.6 641.4,474.4 642.4,478.0 643.4,477.9 644.4,476.1 645.4,471.0 646.4,472.7 647.4,479.1 648.4,476.3 649.4,471.7 650.4,469.3 651.4,467.2 652.4,465.1 653.4,453.5 654.4,455.0 655.4,453.5 656.4,459.5 657.4,454.9 658.4,458.7 659.4,454.0 660.4,456.8 661.4,463.9 662.4,464.3 663.4,465.8 664.4,465.2 665.4,460.8 666.4,462.2 667.4,463.3 668.4,459.3 669.4,456.0 670.4,453.5 671.4,458.4 672.4,453.4 673.4,458.6 674.4,459.2 675.4,462.7 676.4,461.5 677.4,466.6 678.4,477.4 679.4,494.5 680.4,483.2 681.4,471.9 682.4,470.6"/><polyline points="583.4,491.8 584.4,491.7 585.4,491.9 586.4,491.4 587.4,489.4 588.4,488.0 589.4,487.9 590.4,487.6 591.4,489.8 592.4,491.7 593.4,492.2 594.4,490.2 595.4,489.6 596.4,487.5 597.4,488.1 598.4,488.6 599.4,490.8 600.4,490.6 601.4,490.9 602.4,492.5 603.4,490.9 604.4,489.3 605.4,489.3 606.4,491.1 607.4,489.4 608.4,490.4 609.4,490.9 610.4,493.3 611.4,492.5 612.4,491.0 613.4,490.3 614.4,488.9 615.4,490.1 616.4,491.1 617.4,491.8 618.4,491.0 619.4,492.1 620.4,494.0 621.4,496.6 622.4,502.2 623.4,506.8 624.4,510.1 625.4,514.2 626.4,515.0 627.4,512.1 628.4,514.8 629.4,519.7 630.4,519.5 631.4,515.6 632.4,515.3 633.4,509.9 634.4,510.4 635.4,510.3 636.4,507.2 637.4,503.1 638.4,498.2 639.4,496.9 640.4,499.8 641.4,499.5 642.4,502.8 643.4,501.2 644.4,499.8 645.4,498.4 646.4,494.1 647.4,493.6 648.4,490.9 649.4,488.5 650.4,491.7 651.4,493.2 652.4,490.7 653.4,491.5 654.4,496.5 655.4,497.7 656.4,493.9 657.4,493.2 658.4,492.8 659.4,492.6 660.4,492.3 661.4,489.4 662.4,490.1 663.4,488.7 664.4,485.3 665.4,486.8 666.4,486.3 667.4,489.0 668.4,487.1 669.4,490.8 670.4,498.1 671.4,502.9 672.4,494.8 673.4,488.3 674.4,490.5 675.4,488.8 676.4,489.9 677.4,487.0 678.4,489.5 679.4,486.0 680.4,488.5 681.4,485.1 682.4,485.8"/><polyline points="583.4,493.0 584.4,493.0 585.4,492.1 586.4,491.7 587.4,491.4 588.4,491.2 589.4,491.9 590.4,492.5 591.4,493.4 592.4,492.2 593.4,491.0 594.4,491.0 595.4,492.8 596.4,493.3 597.4,492.4 598.4,491.2 599.4,489.9 600.4,490.7 601.4,491.3 602.4,492.0 603.4,492.1 604.4,491.8 605.4,491.4 606.4,492.0 607.4,491.3 608.4,490.5 609.4,489.5 610.4,489.9 611.4,490.4 612.4,492.1 613.4,492.8 614.4,491.4 615.4,488.8 616.4,488.6 617.4,490.3 618.4,490.8 619.4,491.2 620.4,487.6 621.4,486.0 622.4,488.2 623.4,491.0 624.4,491.9 625.4,496.8 626.4,495.8 627.4,499.8 628.4,523.1 629.4,546.5 630.4,569.0 631.4,547.3 632.4,525.6 633.4,504.6 634.4,505.4 635.4,504.8 636.4,506.7 637.4,505.5 638.4,504.4 639.4,501.3 640.4,502.5 641.4,497.7 642.4,494.3 643.4,493.4 644.4,491.7 645.4,492.9 646.4,491.2 647.4,491.7 648.4,494.9 649.4,484.1 650.4,468.1 651.4,484.0 652.4,491.1 653.4,493.3 654.4,491.3 655.4,490.6 656.4,489.2 657.4,495.7 658.4,505.4 659.4,495.9 660.4,497.0 661.4,509.4 662.4,494.5 663.4,488.0 664.4,496.4 665.4,510.5 666.4,495.3 667.4,484.7 668.4,484.9 669.4,483.5 670.4,484.5 671.4,491.0 672.4,485.7 673.4,483.1 674.4,480.9 675.4,479.8 676.4,476.8 677.4,475.7 678.4,477.2 679.4,477.2 680.4,476.9 681.4,476.1 682.4,475.1"/><polyline points="583.4,491.2 584.4,491.6 585.4,491.1 586.4,489.6 587.4,489.5 588.4,488.9 589.4,488.5 590.4,489.3 591.4,488.7 592.4,486.9 593.4,486.4 594.4,488.4 595.4,489.0 596.4,489.8 597.4,491.5 598.4,492.2 599.4,491.6 600.4,489.5 601.4,489.9 602.4,490.3 603.4,490.7 604.4,491.1 605.4,493.0 606.4,492.0 607.4,490.2 608.4,489.2 609.4,488.3 610.4,487.5 611.4,489.0 612.4,490.3 613.4,491.2 614.4,490.9 615.4,491.5 616.4,491.3 617.4,490.2 618.4,487.9 619.4,487.0 620.4,484.0 621.4,479.8 622.4,481.5 623.4,480.9 624.4,478.2 625.4,487.1 626.4,485.2 627.4,486.6 628.4,489.3 629.4,490.9 630.4,492.8 631.4,491.6 632.4,493.5 633.4,490.4 634.4,489.3 635.4,490.2 636.4,484.5 637.4,481.9 638.4,481.7 639.4,480.4 640.4,477.3 641.4,479.2 642.4,476.6 643.4,478.8 644.4,476.9 645.4,470.2 646.4,476.8 647.4,471.7 648.4,473.6 649.4,472.2 650.4,469.7 651.4,469.4 652.4,470.5 653.4,469.0 654.4,468.6 655.4,477.5 656.4,490.0 657.4,482.3 658.4,478.0 659.4,480.9 660.4,483.9 661.4,486.1 662.4,489.1 663.4,478.4 664.4,467.6 665.4,467.9 666.4,465.2 667.4,464.0 668.4,465.1 669.4,467.4 670.4,464.2 671.4,467.0 672.4,468.2 673.4,474.7 674.4,475.8 675.4,479.4 676.4,473.9 677.4,478.2 678.4,477.2 679.4,475.9 680.4,474.1 681.4,475.8 682.4,477.0"/><polyline points="583.4,492.8 584.4,494.1 585.4,495.9 586.4,492.3 587.4,491.8 588.4,492.2 589.4,491.8 590.4,492.6 591.4,493.8 592.4,493.3 593.4,493.4 594.4,492.5 595.4,491.8 596.4,489.8 597.4,489.4 598.4,490.8 599.4,491.6 600.4,491.8 601.4,490.0 602.4,488.3 603.4,489.6 604.4,490.8 605.4,489.8 606.4,488.9 607.4,490.5 608.4,491.7 609.4,491.6 610.4,489.4 611.4,488.0 612.4,489.4 613.4,489.8 614.4,489.6 615.4,490.3 616.4,491.7 617.4,492.7 618.4,491.6 619.4,493.0 620.4,493.1 621.4,491.6 622.4,496.6 623.4,501.6 624.4,505.5 625.4,508.3 626.4,520.7 627.4,527.1 628.4,519.6 629.4,516.0 630.4,518.1 631.4,513.5 632.4,514.9 633.4,511.9 634.4,511.1 635.4,509.7 636.4,506.3 637.4,504.1 638.4,501.4 639.4,504.2 640.4,498.8 641.4,496.3 642.4,498.1 643.4,497.4 644.4,495.2 645.4,497.6 646.4,497.0 647.4,499.4 648.4,498.3 649.4,498.1 650.4,496.4 651.4,494.8 652.4,493.9 653.4,491.9 654.4,488.7 655.4,487.3 656.4,487.4 657.4,486.8 658.4,485.7 659.4,483.4 660.4,482.3 661.4,482.9 662.4,483.0 663.4,482.4 664.4,479.8 665.4,481.5 666.4,481.0 667.4,481.2 668.4,480.6 669.4,479.0 670.4,478.0 671.4,479.3 672.4,479.6 673.4,477.6 674.4,480.6 675.4,482.5 676.4,481.2 677.4,481.6 678.4,480.7 679.4,484.8 680.4,484.7 681.4,484.9 682.4,482.4"/><polyline points="583.4,491.5 584.4,491.5 585.4,491.6 586.4,490.7 587.4,490.5 588.4,490.4 589.4,491.8 590.4,490.6 591.4,490.7 592.4,491.2 593.4,492.1 594.4,491.7 595.4,492.2 596.4,491.7 597.4,491.8 598.4,492.0 599.4,490.7 600.4,492.0 601.4,494.5 602.4,494.2 603.4,492.8 604.4,492.8 605.4,492.4 606.4,491.1 607.4,491.0 608.4,491.6 609.4,492.9 610.4,493.5 611.4,492.2 612.4,491.3 613.4,491.1 614.4,491.9 615.4,491.9 616.4,492.7 617.4,492.0 618.4,491.5 619.4,492.7 620.4,492.5 621.4,490.6 622.4,495.2 623.4,503.7 624.4,508.5 625.4,513.9 626.4,519.3 627.4,519.6 628.4,529.9 629.4,547.1 630.4,532.6 631.4,524.8 632.4,522.5 633.4,526.0 634.4,522.8 635.4,523.4 636.4,519.5 637.4,516.9 638.4,517.3 639.4,515.0 640.4,511.3 641.4,507.5 642.4,502.4 643.4,503.8 644.4,496.5 645.4,498.9 646.4,496.7 647.4,495.7 648.4,505.9 649.4,492.7 650.4,489.4 651.4,489.8 652.4,487.9 653.4,488.0 654.4,491.0 655.4,492.7 656.4,495.2 657.4,496.2 658.4,498.6 659.4,493.9 660.4,492.8 661.4,494.0 662.4,493.5 663.4,491.8 664.4,492.5 665.4,492.8 666.4,493.4 667.4,494.4 668.4,490.1 669.4,489.1 670.4,488.4 671.4,487.9 672.4,486.3 673.4,488.7 674.4,488.7 675.4,490.5 676.4,490.8 677.4,492.0 678.4,493.1 679.4,492.0 680.4,494.0 681.4,489.6 682.4,486.8"/><polyline points="583.4,491.7 584.4,491.9 585.4,491.4 586.4,492.7 587.4,491.2 588.4,489.4 589.4,491.0 590.4,491.5 591.4,490.7 592.4,489.9 593.4,490.4 594.4,491.6 595.4,493.6 596.4,494.3 597.4,494.8 598.4,492.0 599.4,489.8 600.4,490.2 601.4,490.9 602.4,490.3 603.4,490.0 604.4,490.0 605.4,490.0 606.4,490.9 607.4,491.0 608.4,492.3 609.4,491.3 610.4,495.1 611.4,490.7 612.4,489.3 613.4,490.3 614.4,489.8 615.4,488.7 616.4,488.2 617.4,489.0 618.4,487.8 619.4,487.1 620.4,484.3 621.4,479.6 622.4,478.2 623.4,475.5 624.4,478.6 625.4,483.7 626.4,488.7 627.4,485.6 628.4,488.9 629.4,489.7 630.4,489.0 631.4,492.8 632.4,494.4 633.4,492.4 634.4,485.2 635.4,483.7 636.4,477.6 637.4,477.5 638.4,471.8 639.4,471.9 640.4,470.2 641.4,468.3 642.4,474.3 643.4,480.3 644.4,466.3 645.4,462.1 646.4,456.2 647.4,456.8 648.4,452.2 649.4,454.5 650.4,458.7 651.4,460.2 652.4,458.0 653.4,459.7 654.4,460.8 655.4,461.9 656.4,469.5 657.4,465.8 658.4,465.6 659.4,459.0 660.4,464.0 661.4,461.3 662.4,460.0 663.4,464.8 664.4,462.0 665.4,468.6 666.4,464.9 667.4,472.7 668.4,474.4 669.4,474.8 670.4,479.0 671.4,481.3 672.4,480.5 673.4,474.5 674.4,475.4 675.4,475.1 676.4,474.2 677.4,470.4 678.4,469.0 679.4,462.9 680.4,463.8 681.4,465.6 682.4,472.7"/><polyline points="583.4,489.9 584.4,490.6 585.4,491.9 586.4,491.5 587.4,490.1 588.4,488.7 589.4,487.8 590.4,489.7 591.4,490.8 592.4,490.4 593.4,489.7 594.4,490.9 595.4,491.1 596.4,490.4 597.4,491.0 598.4,490.6 599.4,490.6 600.4,490.4 601.4,491.8 602.4,493.1 603.4,491.5 604.4,490.1 605.4,490.2 606.4,489.7 607.4,488.3 608.4,489.3 609.4,489.7 610.4,489.7 611.4,491.4 612.4,491.2 613.4,491.5 614.4,491.8 615.4,492.9 616.4,492.9 617.4,491.8 618.4,490.6 619.4,489.5 620.4,488.2 621.4,485.8 622.4,486.2 623.4,488.6 624.4,490.3 625.4,490.0 626.4,492.7 627.4,491.8 628.4,492.0 629.4,497.5 630.4,499.1 631.4,497.6 632.4,495.4 633.4,494.4 634.4,494.0 635.4,497.7 636.4,505.1 637.4,518.1 638.4,505.4 639.4,496.3 640.4,497.8 641.4,498.4 642.4,493.0 643.4,493.0 644.4,493.5 645.4,491.2 646.4,489.7 647.4,487.6 648.4,487.2 649.4,484.4 650.4,482.1 651.4,481.6 652.4,482.5 653.4,482.7 654.4,486.2 655.4,484.1 656.4,483.5 657.4,483.1 658.4,481.0 659.4,479.0 660.4,476.5 661.4,476.4 662.4,472.3 663.4,468.8 664.4,470.8 665.4,472.3 666.4,475.4 667.4,476.6 668.4,475.7 669.4,474.2 670.4,472.7 671.4,469.9 672.4,470.2 673.4,469.3 674.4,467.7 675.4,465.8 676.4,468.6 677.4,466.2 678.4,468.8 679.4,469.7 680.4,472.0 681.4,469.4 682.4,468.9"/><polyline points="583.4,487.4 584.4,487.0 585.4,488.2 586.4,489.7 587.4,491.6 588.4,490.6 589.4,489.1 590.4,489.0 591.4,489.4 592.4,490.4 593.4,492.4 594.4,492.6 595.4,491.1 596.4,492.1 597.4,492.1 598.4,490.8 599.4,490.0 600.4,489.6 601.4,488.6 602.4,488.1 603.4,489.2 604.4,490.1 605.4,493.6 606.4,495.1 607.4,493.5 608.4,489.5 609.4,489.0 610.4,489.6 611.4,491.1 612.4,492.4 613.4,492.9 614.4,493.2 615.4,492.1 616.4,491.9 617.4,491.3 618.4,491.1 619.4,491.6 620.4,485.6 621.4,482.1 622.4,477.0 623.4,479.4 624.4,478.8 625.4,480.2 626.4,486.8 627.4,483.2 628.4,489.0 629.4,489.5 630.4,490.0 631.4,491.8 632.4,493.8 633.4,491.8 634.4,492.7 635.4,494.1 636.4,492.5 637.4,489.9 638.4,488.5 639.4,486.1 640.4,485.8 641.4,480.5 642.4,479.2 643.4,481.1 644.4,482.8 645.4,485.2 646.4,485.6 647.4,482.9 648.4,481.1 649.4,479.7 650.4,477.6 651.4,483.6 652.4,493.8 653.4,479.7 654.4,476.7 655.4,472.6 656.4,474.3 657.4,474.6 658.4,473.2 659.4,471.5 660.4,471.4 661.4,471.0 662.4,471.3 663.4,471.1 664.4,465.3 665.4,447.9 666.4,465.5 667.4,477.3 668.4,480.3 669.4,479.7 670.4,476.8 671.4,478.1 672.4,476.3 673.4,470.8 674.4,469.5 675.4,465.7 676.4,466.2 677.4,464.9 678.4,470.2 679.4,474.7 680.4,479.2 681.4,481.2 682.4,475.2"/><polyline points="583.4,491.8 584.4,491.8 585.4,490.7 586.4,491.2 587.4,491.1 588.4,490.6 589.4,489.5 590.4,489.3 591.4,490.0 592.4,490.3 593.4,489.6 594.4,489.8 595.4,489.5 596.4,491.1 597.4,492.4 598.4,490.4 599.4,489.8 600.4,489.7 601.4,489.5 602.4,490.7 603.4,492.7 604.4,493.3 605.4,491.3 606.4,490.3 607.4,489.9 608.4,489.4 609.4,490.4 610.4,493.8 611.4,494.1 612.4,493.1 613.4,491.4 614.4,489.7 615.4,491.0 616.4,491.2 617.4,491.7 618.4,492.3 619.4,493.5 620.4,490.8 621.4,488.7 622.4,493.0 623.4,506.3 624.4,522.6 625.4,506.7 626.4,497.5 627.4,499.3 628.4,499.7 629.4,501.5 630.4,504.8 631.4,507.8 632.4,507.5 633.4,507.1 634.4,507.7 635.4,507.9 636.4,507.2 637.4,519.2 638.4,524.8 639.4,515.7 640.4,503.6 641.4,501.3 642.4,503.5 643.4,501.1 644.4,497.7 645.4,496.6 646.4,494.4 647.4,495.5 648.4,492.3 649.4,496.3 650.4,493.4 651.4,491.2 652.4,488.3 653.4,486.6 654.4,485.8 655.4,487.4 656.4,489.8 657.4,490.6 658.4,490.7 659.4,488.1 660.4,486.8 661.4,488.5 662.4,487.9 663.4,497.0 664.4,512.9 665.4,498.6 666.4,488.7 667.4,489.8 668.4,489.9 669.4,490.2 670.4,495.2 671.4,496.4 672.4,493.6 673.4,493.4 674.4,502.6 675.4,517.8 676.4,498.4 677.4,484.5 678.4,487.5 679.4,490.9 680.4,488.0 681.4,489.4 682.4,487.3"/><polyline points="583.4,491.1 584.4,492.3 585.4,494.3 586.4,495.7 587.4,494.4 588.4,493.0 589.4,490.9 590.4,490.3 591.4,490.2 592.4,490.0 593.4,491.0 594.4,490.5 595.4,490.0 596.4,489.4 597.4,489.2 598.4,491.0 599.4,491.5 600.4,491.4 601.4,491.8 602.4,487.9 603.4,488.1 604.4,488.3 605.4,491.1 606.4,492.0 607.4,491.3 608.4,492.1 609.4,492.3 610.4,491.6 611.4,491.1 612.4,492.0 613.4,490.6 614.4,488.5 615.4,488.7 616.4,491.2 617.4,491.4 618.4,492.5 619.4,494.7 620.4,495.5 621.4,500.0 622.4,504.2 623.4,510.7 624.4,516.3 625.4,516.4 626.4,516.5 627.4,524.1 628.4,520.0 629.4,524.8 630.4,522.6 631.4,527.1 632.4,522.8 633.4,524.2 634.4,521.8 635.4,523.3 636.4,524.8 637.4,522.1 638.4,519.8 639.4,516.4 640.4,516.4 641.4,511.7 642.4,514.1 643.4,514.6 644.4,514.8 645.4,512.1 646.4,512.7 647.4,507.9 648.4,509.9 649.4,505.3 650.4,504.5 651.4,509.2 652.4,517.9 653.4,506.3 654.4,504.9 655.4,501.4 656.4,502.2 657.4,504.6 658.4,498.2 659.4,503.2 660.4,496.4 661.4,494.1 662.4,493.7 663.4,493.3 664.4,497.7 665.4,498.8 666.4,493.1 667.4,496.5 668.4,498.7 669.4,492.1 670.4,492.8 671.4,498.5 672.4,496.1 673.4,492.3 674.4,493.6 675.4,491.4 676.4,489.7 677.4,488.9 678.4,488.1 679.4,487.3 680.4,484.9 681.4,489.1 682.4,485.7"/><polyline points="583.4,493.4 584.4,492.5 585.4,490.3 586.4,490.1 587.4,490.4 588.4,491.1 589.4,491.3 590.4,489.8 591.4,490.0 592.4,490.0 593.4,490.7 594.4,491.0 595.4,490.0 596.4,490.5 597.4,491.0 598.4,491.0 599.4,491.7 600.4,490.9 601.4,492.0 602.4,489.8 603.4,488.0 604.4,487.4 605.4,491.2 606.4,493.5 607.4,494.7 608.4,493.4 609.4,491.1 610.4,488.7 611.4,489.0 612.4,491.8 613.4,490.6 614.4,490.3 615.4,489.0 616.4,488.9 617.4,490.2 618.4,489.0 619.4,486.1 620.4,483.9 621.4,481.9 622.4,483.0 623.4,484.1 624.4,485.4 625.4,484.7 626.4,485.9 627.4,494.3 628.4,493.7 629.4,492.0 630.4,488.6 631.4,488.1 632.4,486.0 633.4,476.8 634.4,478.9 635.4,483.9 636.4,480.9 637.4,481.5 638.4,485.9 639.4,482.2 640.4,477.3 641.4,477.2 642.4,474.3 643.4,473.8 644.4,498.0 645.4,525.0 646.4,496.2 647.4,469.2 648.4,467.9 649.4,472.9 650.4,476.1 651.4,471.9 652.4,473.0 653.4,470.2 654.4,469.2 655.4,465.5 656.4,465.1 657.4,465.2 658.4,469.3 659.4,469.3 660.4,470.2 661.4,471.2 662.4,469.3 663.4,471.3 664.4,473.7 665.4,470.9 666.4,471.6 667.4,477.4 668.4,476.3 669.4,476.8 670.4,470.4 671.4,471.8 672.4,463.6 673.4,470.5 674.4,467.0 675.4,465.4 676.4,466.4 677.4,471.1 678.4,469.7 679.4,467.8 680.4,458.1 681.4,460.9 682.4,455.0"/><polyline points="583.4,491.3 584.4,489.6 585.4,488.0 586.4,487.1 587.4,488.5 588.4,490.9 589.4,491.8 590.4,491.0 591.4,492.4 592.4,493.7 593.4,494.6 594.4,495.4 595.4,494.0 596.4,492.7 597.4,491.9 598.4,493.0 599.4,492.9 600.4,492.8 601.4,492.7 602.4,493.0 603.4,490.6 604.4,490.2 605.4,489.6 606.4,490.8 607.4,490.6 608.4,491.1 609.4,490.8 610.4,491.2 611.4,490.4 612.4,494.2 613.4,493.3 614.4,493.0 615.4,489.5 616.4,488.5 617.4,489.9 618.4,491.0 619.4,493.3 620.4,494.1 621.4,499.3 622.4,509.2 623.4,516.2 624.4,519.1 625.4,523.9 626.4,522.5 627.4,524.8 628.4,526.6 629.4,526.3 630.4,523.8 631.4,524.5 632.4,524.1 633.4,524.6 634.4,522.7 635.4,521.1 636.4,519.9 637.4,521.8 638.4,519.5 639.4,518.8 640.4,515.3 641.4,514.4 642.4,507.6 643.4,515.0 644.4,514.2 645.4,505.1 646.4,502.8 647.4,500.5 648.4,501.5 649.4,500.9 650.4,499.1 651.4,497.4 652.4,495.0 653.4,493.7 654.4,493.5 655.4,500.5 656.4,501.2 657.4,505.4 658.4,507.8 659.4,503.2 660.4,504.0 661.4,499.5 662.4,501.8 663.4,499.9 664.4,497.6 665.4,498.6 666.4,503.3 667.4,500.5 668.4,496.4 669.4,498.0 670.4,497.0 671.4,498.3 672.4,495.2 673.4,495.8 674.4,498.7 675.4,496.9 676.4,497.0 677.4,497.4 678.4,496.6 679.4,491.7 680.4,495.4 681.4,493.1 682.4,494.8"/><polyline points="583.4,488.9 584.4,488.4 585.4,490.4 586.4,492.2 587.4,489.7 588.4,488.7 589.4,488.7 590.4,488.8 591.4,490.2 592.4,491.4 593.4,490.1 594.4,489.4 595.4,489.8 596.4,490.4 597.4,488.6 598.4,487.9 599.4,491.0 600.4,492.0 601.4,493.5 602.4,492.4 603.4,491.8 604.4,491.7 605.4,490.5 606.4,490.6 607.4,490.8 608.4,493.3 609.4,490.8 610.4,490.5 611.4,488.9 612.4,488.8 613.4,488.9 614.4,489.2 615.4,491.5 616.4,491.2 617.4,493.4 618.4,489.3 619.4,487.5 620.4,487.5 621.4,486.5 622.4,485.3 623.4,483.9 624.4,484.4 625.4,480.9 626.4,474.8 627.4,474.8 628.4,471.3 629.4,475.1 630.4,473.0 631.4,472.1 632.4,476.4 633.4,476.0 634.4,474.3 635.4,479.9 636.4,486.3 637.4,493.6 638.4,502.0 639.4,519.4 640.4,540.0 641.4,517.4 642.4,494.0 643.4,471.8 644.4,467.1 645.4,466.2 646.4,464.0 647.4,460.9 648.4,461.0 649.4,456.9 650.4,454.7 651.4,459.7 652.4,459.1 653.4,458.0 654.4,458.7 655.4,464.9 656.4,469.3 657.4,477.7 658.4,480.7 659.4,487.1 660.4,482.2 661.4,476.9 662.4,481.7 663.4,486.0 664.4,483.0 665.4,482.2 666.4,483.4 667.4,481.7 668.4,485.9 669.4,489.1 670.4,484.6 671.4,476.1 672.4,467.6 673.4,468.4 674.4,460.6 675.4,456.4 676.4,456.9 677.4,454.7 678.4,455.0 679.4,456.5 680.4,463.3 681.4,465.7 682.4,465.4"/><polyline points="583.4,488.6 584.4,487.6 585.4,489.2 586.4,491.8 587.4,491.0 588.4,489.5 589.4,489.2 590.4,491.2 591.4,493.9 592.4,496.5 593.4,495.5 594.4,495.5 595.4,494.3 596.4,494.0 597.4,493.3 598.4,494.4 599.4,493.6 600.4,492.2 601.4,490.8 602.4,490.9 603.4,491.2 604.4,489.8 605.4,488.9 606.4,488.9 607.4,490.4 608.4,493.0 609.4,491.7 610.4,492.2 611.4,493.3 612.4,494.3 613.4,493.6 614.4,491.1 615.4,488.8 616.4,489.0 617.4,489.4 618.4,490.2 619.4,486.1 620.4,483.5 621.4,479.7 622.4,475.5 623.4,473.3 624.4,472.4 625.4,471.7 626.4,469.1 627.4,473.9 628.4,478.5 629.4,478.8 630.4,481.4 631.4,473.8 632.4,470.6 633.4,471.8 634.4,468.4 635.4,464.7 636.4,472.2 637.4,479.3 638.4,478.1 639.4,485.1 640.4,476.7 641.4,482.1 642.4,485.0 643.4,501.0 644.4,512.1 645.4,484.6 646.4,471.2 647.4,463.5 648.4,463.5 649.4,464.1 650.4,474.3 651.4,467.5 652.4,467.6 653.4,461.6 654.4,464.7 655.4,471.0 656.4,471.7 657.4,472.0 658.4,473.3 659.4,474.7 660.4,479.6 661.4,471.2 662.4,469.9 663.4,467.0 664.4,467.3 665.4,464.5 666.4,459.3 667.4,452.1 668.4,447.2 669.4,456.9 670.4,459.5 671.4,458.6 672.4,455.7 673.4,458.9 674.4,458.1 675.4,458.0 676.4,460.9 677.4,461.5 678.4,461.7 679.4,453.8 680.4,463.5 681.4,459.0 682.4,461.6"/><polyline points="583.4,490.6 584.4,489.8 585.4,489.9 586.4,489.2 587.4,491.1 588.4,489.6 589.4,490.5 590.4,489.4 591.4,489.7 592.4,491.8 593.4,492.0 594.4,491.2 595.4,491.2 596.4,492.3 597.4,491.3 598.4,491.1 599.4,489.1 600.4,487.4 601.4,487.7 602.4,488.8 603.4,491.1 604.4,491.8 605.4,490.2 606.4,488.8 607.4,490.0 608.4,492.5 609.4,492.2 610.4,491.6 611.4,492.7 612.4,492.4 613.4,492.1 614.4,491.4 615.4,491.3 616.4,489.8 617.4,489.1 618.4,489.7 619.4,494.4 620.4,493.2 621.4,495.7 622.4,500.2 623.4,506.0 624.4,506.3 625.4,523.1 626.4,536.2 627.4,548.0 628.4,537.5 629.4,527.2 630.4,517.8 631.4,514.7 632.4,510.5 633.4,510.8 634.4,511.0 635.4,505.2 636.4,503.8 637.4,497.0 638.4,490.7 639.4,490.0 640.4,487.5 641.4,486.2 642.4,485.4 643.4,487.3 644.4,491.1 645.4,493.4 646.4,503.3 647.4,520.8 648.4,514.2 649.4,496.6 650.4,497.8 651.4,496.9 652.4,502.6 653.4,509.0 654.4,502.8 655.4,498.5 656.4,499.0 657.4,497.4 658.4,493.3 659.4,493.1 660.4,491.0 661.4,491.6 662.4,487.6 663.4,484.2 664.4,482.7 665.4,478.1 666.4,480.2 667.4,481.0 668.4,481.0 669.4,483.8 670.4,486.5 671.4,488.6 672.4,485.7 673.4,487.5 674.4,488.2 675.4,490.8 676.4,489.9 677.4,494.0 678.4,495.7 679.4,493.8 680.4,489.8 681.4,493.4 682.4,491.8"/><polyline points="583.4,488.0 584.4,490.1 585.4,493.0 586.4,493.3 587.4,491.4 588.4,492.9 589.4,492.1 590.4,491.0 591.4,491.1 592.4,490.5 593.4,490.1 594.4,492.1 595.4,491.7 596.4,491.0 597.4,490.7 598.4,491.4 599.4,490.0 600.4,490.7 601.4,490.5 602.4,489.1 603.4,491.3 604.4,491.4 605.4,491.8 606.4,489.5 607.4,490.1 608.4,490.5 609.4,490.7 610.4,490.5 611.4,492.0 612.4,492.1 613.4,491.6 614.4,490.5 615.4,488.5 616.4,490.3 617.4,492.5 618.4,492.8 619.4,487.4 620.4,483.3 621.4,481.2 622.4,480.8 623.4,484.1 624.4,481.9 625.4,478.7 626.4,481.7 627.4,483.1 628.4,481.1 629.4,482.1 630.4,484.2 631.4,481.6 632.4,484.8 633.4,482.6 634.4,483.2 635.4,482.3 636.4,475.6 637.4,469.0 638.4,470.4 639.4,469.6 640.4,472.8 641.4,468.1 642.4,464.5 643.4,463.4 644.4,463.8 645.4,457.8 646.4,460.6 647.4,458.1 648.4,461.4 649.4,462.8 650.4,460.5 651.4,469.5 652.4,490.9 653.4,477.1 654.4,469.7 655.4,474.5 656.4,475.7 657.4,471.7 658.4,466.4 659.4,472.3 660.4,479.4 661.4,478.0 662.4,474.1 663.4,472.4 664.4,473.0 665.4,473.6 666.4,470.1 667.4,465.4 668.4,469.4 669.4,475.5 670.4,472.7 671.4,473.4 672.4,476.6 673.4,477.2 674.4,480.3 675.4,481.4 676.4,481.8 677.4,481.3 678.4,480.8 679.4,477.6 680.4,475.3 681.4,476.1 682.4,478.6"/><polyline points="583.4,491.8 584.4,491.1 585.4,489.6 586.4,489.5 587.4,489.5 588.4,490.0 589.4,489.8 590.4,490.8 591.4,490.6 592.4,490.2 593.4,489.7 594.4,489.9 595.4,489.4 596.4,491.0 597.4,490.5 598.4,489.5 599.4,492.2 600.4,492.7 601.4,491.8 602.4,491.1 603.4,491.4 604.4,489.9 605.4,489.8 606.4,490.9 607.4,493.2 608.4,494.3 609.4,494.0 610.4,491.4 611.4,489.9 612.4,490.5 613.4,490.5 614.4,490.9 615.4,491.3 616.4,491.9 617.4,494.1 618.4,492.7 619.4,492.5 620.4,490.6 621.4,490.0 622.4,491.8 623.4,497.3 624.4,498.3 625.4,500.3 626.4,501.1 627.4,500.6 628.4,501.0 629.4,501.0 630.4,501.7 631.4,505.2 632.4,504.6 633.4,504.4 634.4,502.6 635.4,503.1 636.4,498.0 637.4,496.8 638.4,495.3 639.4,492.2 640.4,488.7 641.4,486.5 642.4,483.8 643.4,485.3 644.4,485.8 645.4,486.7 646.4,488.6 647.4,494.6 648.4,506.0 649.4,496.1 650.4,490.1 651.4,490.2 652.4,491.6 653.4,487.5 654.4,487.4 655.4,483.3 656.4,483.2 657.4,481.5 658.4,498.9 659.4,517.1 660.4,537.0 661.4,527.7 662.4,512.0 663.4,480.5 664.4,474.6 665.4,474.3 666.4,472.8 667.4,472.3 668.4,473.2 669.4,474.3 670.4,474.7 671.4,474.1 672.4,474.4 673.4,475.7 674.4,477.5 675.4,472.9 676.4,464.5 677.4,472.1 678.4,478.8 679.4,482.4 680.4,488.7 681.4,485.2 682.4,484.0"/><polyline points="583.4,494.1 584.4,491.6 585.4,491.5 586.4,491.7 587.4,491.8 588.4,494.2 589.4,493.5 590.4,491.5 591.4,490.5 592.4,490.4 593.4,491.6 594.4,491.1 595.4,491.3 596.4,491.4 597.4,493.2 598.4,492.5 599.4,491.9 600.4,491.2 601.4,489.9 602.4,491.1 603.4,490.2 604.4,490.4 605.4,490.3 606.4,491.1 607.4,490.3 608.4,490.1 609.4,490.8 610.4,490.4 611.4,489.8 612.4,490.6 613.4,491.2 614.4,490.2 615.4,490.1 616.4,488.9 617.4,490.1 618.4,488.2 619.4,486.7 620.4,484.2 621.4,481.0 622.4,483.3 623.4,482.7 624.4,487.2 625.4,490.1 626.4,490.0 627.4,489.5 628.4,492.3 629.4,495.7 630.4,496.0 631.4,497.0 632.4,499.1 633.4,515.6 634.4,530.0 635.4,513.5 636.4,496.1 637.4,498.8 638.4,486.0 639.4,472.7 640.4,471.0 641.4,471.6 642.4,472.1 643.4,470.8 644.4,475.5 645.4,482.4 646.4,487.1 647.4,486.1 648.4,487.9 649.4,492.0 650.4,493.8 651.4,490.6 652.4,489.7 653.4,488.1 654.4,480.7 655.4,483.7 656.4,481.5 657.4,479.2 658.4,475.7 659.4,478.3 660.4,480.9 661.4,480.3 662.4,477.8 663.4,477.7 664.4,476.2 665.4,476.7 666.4,473.5 667.4,470.5 668.4,467.8 669.4,466.4 670.4,463.1 671.4,463.3 672.4,465.2 673.4,470.2 674.4,476.8 675.4,476.5 676.4,473.6 677.4,475.3 678.4,476.6 679.4,475.5 680.4,474.9 681.4,478.8 682.4,481.6"/><polyline points="583.4,489.4 584.4,491.6 585.4,492.5 586.4,491.6 587.4,492.0 588.4,492.1 589.4,492.5 590.4,491.1 591.4,489.3 592.4,490.0 593.4,491.6 594.4,492.8 595.4,493.6 596.4,493.2 597.4,493.7 598.4,492.8 599.4,491.8 600.4,491.3 601.4,491.5 602.4,491.7 603.4,492.7 604.4,492.5 605.4,490.2 606.4,490.6 607.4,490.4 608.4,490.5 609.4,490.0 610.4,489.0 611.4,488.8 612.4,488.5 613.4,487.8 614.4,488.1 615.4,489.7 616.4,490.5 617.4,490.9 618.4,491.1 619.4,490.5 620.4,490.2 621.4,490.4 622.4,494.8 623.4,497.9 624.4,502.3 625.4,505.0 626.4,504.2 627.4,505.1 628.4,508.4 629.4,508.3 630.4,509.2 631.4,514.7 632.4,506.1 633.4,501.5 634.4,502.7 635.4,502.6 636.4,501.3 637.4,500.6 638.4,496.4 639.4,495.6 640.4,493.2 641.4,493.7 642.4,496.5 643.4,502.7 644.4,493.1 645.4,486.1 646.4,483.1 647.4,481.9 648.4,480.0 649.4,480.1 650.4,477.8 651.4,480.3 652.4,478.8 653.4,478.7 654.4,475.8 655.4,476.2 656.4,476.7 657.4,474.9 658.4,475.5 659.4,477.5 660.4,477.0 661.4,475.0 662.4,476.0 663.4,477.9 664.4,478.6 665.4,477.8 666.4,480.0 667.4,480.7 668.4,482.2 669.4,480.3 670.4,481.5 671.4,481.5 672.4,482.3 673.4,484.4 674.4,483.2 675.4,483.0 676.4,484.3 677.4,483.3 678.4,481.9 679.4,481.8 680.4,480.0 681.4,479.2 682.4,478.7"/><polyline points="583.4,489.1 584.4,490.8 585.4,491.6 586.4,492.7 587.4,492.6 588.4,491.3 589.4,491.5 590.4,490.8 591.4,489.9 592.4,489.2 593.4,489.2 594.4,489.0 595.4,489.6 596.4,490.8 597.4,490.0 598.4,491.7 599.4,491.3 600.4,492.4 601.4,492.2 602.4,492.5 603.4,490.9 604.4,492.2 605.4,492.9 606.4,491.7 607.4,489.7 608.4,489.0 609.4,488.1 610.4,489.5 611.4,490.3 612.4,490.0 613.4,489.8 614.4,490.3 615.4,489.9 616.4,490.3 617.4,491.2 618.4,489.6 619.4,485.0 620.4,485.4 621.4,485.8 622.4,488.0 623.4,488.1 624.4,492.8 625.4,494.2 626.4,491.9 627.4,489.6 628.4,487.4 629.4,483.9 630.4,485.9 631.4,487.1 632.4,492.0 633.4,488.1 634.4,489.2 635.4,491.5 636.4,493.3 637.4,492.6 638.4,488.2 639.4,485.9 640.4,485.6 641.4,485.6 642.4,481.5 643.4,477.8 644.4,475.0 645.4,474.3 646.4,470.0 647.4,473.5 648.4,469.2 649.4,465.1 650.4,464.4 651.4,466.8 652.4,467.6 653.4,470.4 654.4,476.4 655.4,478.4 656.4,482.8 657.4,483.5 658.4,483.1 659.4,484.1 660.4,485.3 661.4,487.4 662.4,484.3 663.4,483.5 664.4,485.9 665.4,483.5 666.4,479.8 667.4,483.0 668.4,481.2 669.4,481.8 670.4,481.8 671.4,478.0 672.4,479.6 673.4,477.6 674.4,480.7 675.4,482.3 676.4,478.6 677.4,480.0 678.4,474.1 679.4,468.5 680.4,465.8 681.4,466.3 682.4,466.5"/><polyline points="583.4,489.7 584.4,490.6 585.4,490.7 586.4,490.3 587.4,491.3 588.4,491.9 589.4,491.2 590.4,490.4 591.4,490.8 592.4,490.7 593.4,492.9 594.4,492.5 595.4,492.1 596.4,491.7 597.4,492.2 598.4,493.1 599.4,491.1 600.4,491.5 601.4,492.9 602.4,493.9 603.4,493.9 604.4,491.8 605.4,490.2 606.4,489.3 607.4,488.3 608.4,487.9 609.4,489.2 610.4,491.3 611.4,491.7 612.4,491.5 613.4,492.5 614.4,493.3 615.4,492.9 616.4,490.7 617.4,490.7 618.4,489.0 619.4,488.6 620.4,487.5 621.4,488.3 622.4,489.4 623.4,489.7 624.4,491.1 625.4,487.8 626.4,486.6 627.4,485.9 628.4,486.0 629.4,484.5 630.4,486.6 631.4,490.8 632.4,489.7 633.4,492.7 634.4,490.4 635.4,488.7 636.4,489.2 637.4,492.5 638.4,493.9 639.4,491.9 640.4,493.3 641.4,496.1 642.4,490.7 643.4,489.2 644.4,484.3 645.4,483.9 646.4,479.0 647.4,477.6 648.4,473.9 649.4,475.8 650.4,476.7 651.4,474.5 652.4,472.9 653.4,476.4 654.4,479.0 655.4,479.9 656.4,476.9 657.4,475.0 658.4,475.6 659.4,475.2 660.4,474.0 661.4,469.8 662.4,470.8 663.4,472.2 664.4,469.4 665.4,468.7 666.4,472.5 667.4,469.0 668.4,468.2 669.4,463.3 670.4,459.5 671.4,462.0 672.4,458.5 673.4,457.3 674.4,456.9 675.4,459.4 676.4,460.6 677.4,465.8 678.4,465.3 679.4,467.9 680.4,470.9 681.4,472.1 682.4,474.6"/></g>
<polyline points="583.4,491.8 584.4,490.9 585.4,489.6 586.4,490.0 587.4,491.0 588.4,491.8 589.4,492.1 590.4,491.0 591.4,491.0 592.4,490.7 593.4,490.2 594.4,489.4 595.4,490.9 596.4,489.9 597.4,491.4 598.4,491.5 599.4,490.5 600.4,490.1 601.4,490.8 602.4,491.6 603.4,491.0 604.4,490.8 605.4,491.1 606.4,489.9 607.4,491.0 608.4,491.4 609.4,489.7 610.4,490.7 611.4,490.8 612.4,491.3 613.4,491.4 614.4,490.7 615.4,491.0 616.4,491.8 617.4,490.4 618.4,491.1 619.4,489.2 620.4,489.0 621.4,487.6 622.4,491.0 623.4,491.2 624.4,493.6 625.4,497.8 626.4,496.9 627.4,499.8 628.4,498.6 629.4,499.9 630.4,502.5 631.4,504.3 632.4,501.3 633.4,501.5 634.4,501.3 635.4,500.3 636.4,499.9 637.4,498.2 638.4,496.3 639.4,494.0 640.4,494.5 641.4,493.2 642.4,490.6 643.4,492.3 644.4,491.3 645.4,489.8 646.4,488.2 647.4,487.9 648.4,487.1 649.4,486.1 650.4,486.5 651.4,486.7 652.4,485.3 653.4,483.7 654.4,485.1 655.4,483.6 656.4,482.5 657.4,484.5 658.4,483.5 659.4,481.9 660.4,483.4 661.4,482.0 662.4,482.6 663.4,482.7 664.4,481.9 665.4,483.7 666.4,481.5 667.4,482.9 668.4,481.6 669.4,482.1 670.4,481.1 671.4,481.1 672.4,481.1 673.4,481.3 674.4,481.8 675.4,481.1 676.4,480.2 677.4,481.2 678.4,482.0 679.4,482.3 680.4,478.8 681.4,481.6 682.4,479.5" fill="none" stroke="#151515" stroke-width="3.2" stroke-linejoin="round" stroke-linecap="round"/>
<g fill="none" stroke="#9d9d9d" stroke-width="1.4" stroke-linejoin="round"><polyline points="696.0,491.6 697.0,493.9 698.0,493.3 699.0,494.3 700.0,492.6 701.0,492.4 702.0,490.6 703.0,490.2 704.0,489.5 705.0,491.7 706.0,492.5 707.0,492.0 708.0,491.7 709.0,490.7 710.0,492.8 711.0,491.4 712.0,490.1 713.0,490.2 714.0,490.5 715.0,488.2 716.0,488.8 717.0,489.0 718.0,490.5 719.0,491.3 720.0,490.8 721.0,491.3 722.0,492.3 723.0,493.7 724.0,493.1 725.0,491.6 726.0,490.6 727.0,490.1 728.0,492.4 729.0,490.8 730.0,490.2 731.0,489.5 732.0,489.6 733.0,490.3 734.0,483.6 735.0,488.2 736.0,489.9 737.0,491.7 738.0,492.8 739.0,488.1 740.0,481.9 741.0,481.1 742.0,487.1 743.0,486.3 744.0,483.0 745.0,478.7 746.0,478.5 747.0,473.4 748.0,467.0 749.0,464.6 750.0,467.4 751.0,467.6 752.0,468.8 753.0,464.7 754.0,468.8 755.0,464.9 756.0,466.8 757.0,464.4 758.0,461.9 759.0,461.8 760.0,462.5 761.0,460.2 762.0,462.0 763.0,458.6 764.0,455.8 765.0,457.0 766.0,460.8 767.0,462.5 768.0,460.6 769.0,461.9 770.0,463.5 771.0,453.3 772.0,441.0 773.0,450.2 774.0,454.3 775.0,453.8 776.0,453.5 777.0,454.9 778.0,450.9 779.0,452.5 780.0,451.0 781.0,453.6 782.0,454.9 783.0,464.0 784.0,456.9 785.0,457.8 786.0,460.6 787.0,462.0 788.0,466.0 789.0,469.6 790.0,462.9 791.0,458.4 792.0,460.9 793.0,453.7 794.0,458.0 795.0,458.7"/><polyline points="696.0,491.6 697.0,492.9 698.0,493.0 699.0,492.4 700.0,492.0 701.0,492.8 702.0,491.7 703.0,492.1 704.0,491.0 705.0,491.1 706.0,491.3 707.0,490.4 708.0,489.5 709.0,489.7 710.0,489.9 711.0,488.6 712.0,489.6 713.0,489.9 714.0,492.0 715.0,492.7 716.0,492.7 717.0,491.0 718.0,492.5 719.0,492.4 720.0,491.4 721.0,490.4 722.0,492.0 723.0,493.0 724.0,491.8 725.0,490.3 726.0,490.2 727.0,489.8 728.0,489.9 729.0,490.5 730.0,494.4 731.0,492.8 732.0,491.9 733.0,492.7 734.0,493.9 735.0,494.2 736.0,494.9 737.0,492.0 738.0,488.7 739.0,486.8 740.0,486.3 741.0,488.8 742.0,487.2 743.0,487.7 744.0,487.0 745.0,484.5 746.0,482.2 747.0,477.4 748.0,475.3 749.0,472.3 750.0,470.3 751.0,470.3 752.0,471.2 753.0,468.8 754.0,468.3 755.0,466.6 756.0,465.9 757.0,468.6 758.0,469.8 759.0,469.4 760.0,470.7 761.0,468.8 762.0,470.3 763.0,471.0 764.0,470.4 765.0,468.9 766.0,475.8 767.0,475.0 768.0,469.7 769.0,470.7 770.0,467.9 771.0,466.0 772.0,468.0 773.0,466.8 774.0,462.1 775.0,462.6 776.0,463.9 777.0,460.5 778.0,459.1 779.0,459.3 780.0,464.9 781.0,474.9 782.0,463.8 783.0,458.2 784.0,460.7 785.0,461.6 786.0,462.5 787.0,463.1 788.0,460.6 789.0,458.3 790.0,457.1 791.0,455.9 792.0,452.9 793.0,456.2 794.0,460.3 795.0,461.5"/><polyline points="696.0,489.2 697.0,489.7 698.0,490.1 699.0,491.0 700.0,491.3 701.0,491.7 702.0,491.3 703.0,490.0 704.0,490.8 705.0,492.3 706.0,492.0 707.0,492.1 708.0,490.4 709.0,489.3 710.0,489.3 711.0,491.2 712.0,491.5 713.0,491.0 714.0,489.9 715.0,489.0 716.0,489.3 717.0,489.0 718.0,491.0 719.0,490.4 720.0,490.5 721.0,489.0 722.0,488.6 723.0,489.9 724.0,492.1 725.0,492.0 726.0,490.6 727.0,492.0 728.0,493.2 729.0,495.3 730.0,492.8 731.0,491.3 732.0,491.5 733.0,491.8 734.0,494.6 735.0,494.5 736.0,494.8 737.0,493.3 738.0,493.4 739.0,489.3 740.0,479.2 741.0,475.7 742.0,478.7 743.0,483.0 744.0,482.5 745.0,481.0 746.0,481.7 747.0,482.8 748.0,476.3 749.0,478.0 750.0,477.7 751.0,478.2 752.0,477.2 753.0,476.8 754.0,471.8 755.0,468.6 756.0,463.3 757.0,465.7 758.0,462.0 759.0,462.5 760.0,462.0 761.0,458.7 762.0,459.5 763.0,459.9 764.0,461.9 765.0,463.0 766.0,465.6 767.0,463.1 768.0,462.5 769.0,459.9 770.0,465.7 771.0,460.4 772.0,461.5 773.0,458.9 774.0,457.4 775.0,453.1 776.0,454.5 777.0,455.6 778.0,457.8 779.0,457.5 780.0,453.6 781.0,444.9 782.0,454.6 783.0,457.2 784.0,464.0 785.0,457.4 786.0,455.9 787.0,457.6 788.0,458.0 789.0,459.7 790.0,460.3 791.0,457.6 792.0,457.8 793.0,458.5 794.0,460.4 795.0,460.5"/><polyline points="696.0,490.0 697.0,489.8 698.0,490.4 699.0,489.4 700.0,489.0 701.0,488.5 702.0,489.7 703.0,490.4 704.0,490.2 705.0,488.9 706.0,489.2 707.0,490.2 708.0,491.9 709.0,492.5 710.0,491.8 711.0,490.6 712.0,490.5 713.0,489.2 714.0,489.9 715.0,491.5 716.0,490.3 717.0,490.6 718.0,491.5 719.0,490.3 720.0,490.9 721.0,490.1 722.0,488.2 723.0,489.4 724.0,489.7 725.0,489.3 726.0,488.2 727.0,488.1 728.0,489.1 729.0,489.1 730.0,490.3 731.0,494.7 732.0,496.6 733.0,501.7 734.0,504.6 735.0,510.7 736.0,515.3 737.0,518.8 738.0,519.0 739.0,520.9 740.0,515.3 741.0,509.1 742.0,508.2 743.0,503.7 744.0,494.9 745.0,488.1 746.0,483.6 747.0,480.3 748.0,479.5 749.0,481.1 750.0,482.9 751.0,486.1 752.0,492.4 753.0,494.2 754.0,493.8 755.0,488.9 756.0,484.9 757.0,484.6 758.0,484.0 759.0,481.8 760.0,484.0 761.0,478.7 762.0,474.7 763.0,468.3 764.0,463.8 765.0,460.2 766.0,454.8 767.0,449.9 768.0,445.8 769.0,442.5 770.0,439.0 771.0,442.7 772.0,446.5 773.0,450.7 774.0,454.2 775.0,459.3 776.0,462.9 777.0,463.1 778.0,469.2 779.0,472.9 780.0,479.8 781.0,485.1 782.0,481.5 783.0,482.1 784.0,480.7 785.0,479.3 786.0,480.2 787.0,480.5 788.0,484.7 789.0,483.9 790.0,486.7 791.0,489.9 792.0,493.1 793.0,493.7 794.0,494.8 795.0,492.1"/><polyline points="696.0,492.3 697.0,490.8 698.0,489.6 699.0,489.7 700.0,490.5 701.0,490.4 702.0,491.0 703.0,490.0 704.0,491.4 705.0,492.4 706.0,491.8 707.0,491.2 708.0,492.9 709.0,493.8 710.0,491.9 711.0,490.3 712.0,491.2 713.0,491.7 714.0,492.7 715.0,493.3 716.0,493.3 717.0,492.7 718.0,492.8 719.0,493.1 720.0,492.5 721.0,490.3 722.0,488.6 723.0,490.5 724.0,491.3 725.0,491.7 726.0,491.8 727.0,492.4 728.0,493.7 729.0,492.9 730.0,491.6 731.0,492.2 732.0,494.0 733.0,495.7 734.0,496.1 735.0,499.5 736.0,501.6 737.0,511.7 738.0,525.0 739.0,518.2 740.0,502.4 741.0,491.3 742.0,492.0 743.0,492.6 744.0,487.4 745.0,484.3 746.0,485.7 747.0,483.5 748.0,482.7 749.0,480.7 750.0,480.8 751.0,482.7 752.0,480.5 753.0,479.5 754.0,478.0 755.0,476.7 756.0,476.4 757.0,474.1 758.0,473.0 759.0,470.8 760.0,471.0 761.0,468.0 762.0,471.1 763.0,469.2 764.0,470.0 765.0,472.3 766.0,471.1 767.0,470.3 768.0,471.5 769.0,472.2 770.0,473.4 771.0,475.9 772.0,471.3 773.0,474.9 774.0,474.8 775.0,472.3 776.0,473.8 777.0,473.3 778.0,470.5 779.0,470.3 780.0,472.9 781.0,473.4 782.0,473.5 783.0,473.9 784.0,475.7 785.0,478.1 786.0,480.7 787.0,481.9 788.0,480.7 789.0,479.3 790.0,480.5 791.0,480.7 792.0,480.6 793.0,481.1 794.0,478.5 795.0,477.7"/><polyline points="696.0,494.7 697.0,494.1 698.0,492.8 699.0,493.1 700.0,493.3 701.0,492.4 702.0,492.8 703.0,494.9 704.0,492.9 705.0,489.8 706.0,488.0 707.0,489.7 708.0,490.6 709.0,491.8 710.0,490.9 711.0,491.6 712.0,492.2 713.0,493.3 714.0,491.9 715.0,491.1 716.0,492.2 717.0,493.1 718.0,493.2 719.0,492.1 720.0,491.0 721.0,490.7 722.0,489.8 723.0,489.3 724.0,489.9 725.0,490.9 726.0,490.7 727.0,491.3 728.0,491.3 729.0,491.7 730.0,492.5 731.0,492.7 732.0,493.1 733.0,495.4 734.0,495.8 735.0,494.4 736.0,498.3 737.0,495.1 738.0,491.9 739.0,485.3 740.0,483.6 741.0,481.9 742.0,477.8 743.0,473.0 744.0,475.1 745.0,475.5 746.0,471.7 747.0,471.4 748.0,473.8 749.0,467.8 750.0,466.1 751.0,465.4 752.0,467.1 753.0,466.9 754.0,469.1 755.0,465.6 756.0,467.5 757.0,468.9 758.0,467.5 759.0,465.0 760.0,465.1 761.0,464.9 762.0,466.0 763.0,464.5 764.0,468.0 765.0,465.3 766.0,465.4 767.0,461.9 768.0,464.2 769.0,462.7 770.0,460.6 771.0,456.2 772.0,458.5 773.0,457.0 774.0,455.1 775.0,460.6 776.0,457.4 777.0,460.7 778.0,463.0 779.0,465.3 780.0,464.3 781.0,465.5 782.0,469.9 783.0,472.8 784.0,470.1 785.0,470.3 786.0,466.5 787.0,467.6 788.0,468.2 789.0,465.2 790.0,466.4 791.0,460.6 792.0,463.7 793.0,467.2 794.0,460.4 795.0,461.2"/><polyline points="696.0,490.6 697.0,492.7 698.0,491.7 699.0,490.6 700.0,489.4 701.0,490.3 702.0,492.0 703.0,492.0 704.0,491.1 705.0,490.0 706.0,491.1 707.0,492.1 708.0,491.1 709.0,490.8 710.0,492.0 711.0,492.2 712.0,492.0 713.0,491.7 714.0,491.0 715.0,489.2 716.0,489.1 717.0,490.5 718.0,491.4 719.0,492.2 720.0,492.3 721.0,490.9 722.0,490.3 723.0,491.6 724.0,491.8 725.0,490.4 726.0,489.8 727.0,491.1 728.0,491.5 729.0,491.1 730.0,492.3 731.0,494.0 732.0,493.0 733.0,492.5 734.0,494.3 735.0,493.0 736.0,495.4 737.0,497.5 738.0,493.5 739.0,490.2 740.0,489.0 741.0,490.3 742.0,489.9 743.0,489.2 744.0,487.7 745.0,487.4 746.0,483.4 747.0,482.0 748.0,477.1 749.0,478.1 750.0,471.9 751.0,472.9 752.0,475.4 753.0,477.6 754.0,481.1 755.0,482.4 756.0,484.0 757.0,486.4 758.0,483.7 759.0,484.5 760.0,484.4 761.0,485.2 762.0,484.3 763.0,482.0 764.0,480.9 765.0,480.9 766.0,480.7 767.0,478.4 768.0,477.5 769.0,476.1 770.0,474.5 771.0,477.9 772.0,475.7 773.0,476.1 774.0,472.8 775.0,472.4 776.0,468.8 777.0,466.2 778.0,458.1 779.0,460.8 780.0,463.8 781.0,462.6 782.0,467.0 783.0,463.7 784.0,465.6 785.0,461.7 786.0,464.1 787.0,462.3 788.0,463.8 789.0,463.2 790.0,464.6 791.0,462.7 792.0,462.8 793.0,462.8 794.0,462.7 795.0,462.1"/><polyline points="696.0,478.6 697.0,466.0 698.0,478.5 699.0,489.7 700.0,489.7 701.0,489.2 702.0,488.9 703.0,489.7 704.0,492.6 705.0,490.4 706.0,489.5 707.0,490.6 708.0,490.6 709.0,490.4 710.0,491.9 711.0,491.3 712.0,492.5 713.0,493.5 714.0,492.6 715.0,490.2 716.0,490.7 717.0,490.9 718.0,491.8 719.0,491.3 720.0,491.3 721.0,489.8 722.0,489.4 723.0,489.5 724.0,492.8 725.0,492.2 726.0,492.9 727.0,490.7 728.0,489.3 729.0,488.5 730.0,494.7 731.0,497.9 732.0,500.2 733.0,504.2 734.0,515.5 735.0,530.8 736.0,527.1 737.0,524.7 738.0,534.4 739.0,537.3 740.0,537.2 741.0,530.3 742.0,525.0 743.0,521.5 744.0,519.4 745.0,513.2 746.0,514.0 747.0,516.7 748.0,515.3 749.0,513.5 750.0,506.0 751.0,507.4 752.0,505.9 753.0,502.6 754.0,505.8 755.0,520.5 756.0,509.2 757.0,504.1 758.0,497.7 759.0,497.5 760.0,506.7 761.0,513.0 762.0,505.6 763.0,500.0 764.0,501.0 765.0,504.7 766.0,497.9 767.0,503.2 768.0,501.9 769.0,503.7 770.0,498.4 771.0,498.2 772.0,498.1 773.0,495.2 774.0,496.5 775.0,493.5 776.0,493.7 777.0,493.9 778.0,495.3 779.0,495.0 780.0,493.9 781.0,494.6 782.0,497.2 783.0,494.0 784.0,492.4 785.0,496.2 786.0,491.1 787.0,479.1 788.0,479.4 789.0,478.7 790.0,477.7 791.0,481.7 792.0,481.4 793.0,485.0 794.0,487.5 795.0,499.5"/><polyline points="696.0,490.1 697.0,491.2 698.0,491.4 699.0,491.6 700.0,490.9 701.0,490.7 702.0,490.4 703.0,491.0 704.0,490.7 705.0,490.7 706.0,490.5 707.0,489.4 708.0,490.3 709.0,490.6 710.0,490.5 711.0,489.8 712.0,489.8 713.0,489.3 714.0,491.4 715.0,493.2 716.0,492.8 717.0,493.2 718.0,490.5 719.0,490.2 720.0,492.0 721.0,492.9 722.0,492.1 723.0,490.6 724.0,488.9 725.0,488.9 726.0,490.2 727.0,491.4 728.0,492.2 729.0,491.8 730.0,491.3 731.0,490.4 732.0,492.4 733.0,494.5 734.0,498.2 735.0,500.9 736.0,504.1 737.0,503.4 738.0,501.2 739.0,502.9 740.0,495.2 741.0,490.2 742.0,489.6 743.0,487.4 744.0,488.8 745.0,484.4 746.0,482.1 747.0,481.5 748.0,479.6 749.0,480.4 750.0,477.3 751.0,476.6 752.0,475.9 753.0,474.1 754.0,475.5 755.0,474.0 756.0,476.1 757.0,475.5 758.0,476.1 759.0,475.9 760.0,480.2 761.0,481.9 762.0,482.8 763.0,484.0 764.0,485.6 765.0,487.1 766.0,489.8 767.0,489.5 768.0,488.8 769.0,488.0 770.0,487.5 771.0,487.1 772.0,485.6 773.0,486.5 774.0,486.9 775.0,487.0 776.0,486.0 777.0,484.2 778.0,482.4 779.0,480.2 780.0,478.7 781.0,478.1 782.0,475.6 783.0,475.2 784.0,480.2 785.0,479.6 786.0,481.3 787.0,482.9 788.0,483.5 789.0,485.2 790.0,483.7 791.0,482.0 792.0,485.8 793.0,481.7 794.0,481.2 795.0,480.1"/><polyline points="696.0,489.7 697.0,489.5 698.0,490.6 699.0,490.9 700.0,491.0 701.0,492.8 702.0,493.6 703.0,492.3 704.0,491.8 705.0,491.2 706.0,490.9 707.0,488.3 708.0,488.0 709.0,489.4 710.0,489.9 711.0,491.3 712.0,492.7 713.0,493.4 714.0,492.5 715.0,490.3 716.0,487.5 717.0,488.1 718.0,488.6 719.0,489.6 720.0,490.4 721.0,489.8 722.0,488.9 723.0,490.0 724.0,491.4 725.0,493.1 726.0,493.5 727.0,492.0 728.0,490.8 729.0,490.1 730.0,490.7 731.0,493.6 732.0,498.4 733.0,501.2 734.0,505.8 735.0,509.8 736.0,513.6 737.0,514.8 738.0,507.9 739.0,507.1 740.0,501.6 741.0,495.7 742.0,494.8 743.0,487.9 744.0,486.2 745.0,484.1 746.0,484.6 747.0,480.2 748.0,481.5 749.0,480.2 750.0,473.7 751.0,470.4 752.0,469.2 753.0,468.9 754.0,467.2 755.0,465.9 756.0,468.1 757.0,466.4 758.0,466.0 759.0,465.9 760.0,466.6 761.0,461.5 762.0,464.3 763.0,466.8 764.0,462.6 765.0,462.6 766.0,460.5 767.0,462.0 768.0,462.6 769.0,463.0 770.0,461.9 771.0,462.0 772.0,461.3 773.0,457.9 774.0,457.9 775.0,460.3 776.0,461.2 777.0,458.1 778.0,458.9 779.0,457.8 780.0,459.6 781.0,455.5 782.0,460.7 783.0,460.4 784.0,458.2 785.0,458.0 786.0,460.8 787.0,458.7 788.0,454.9 789.0,456.3 790.0,459.9 791.0,461.2 792.0,467.5 793.0,466.9 794.0,465.8 795.0,467.4"/><polyline points="696.0,491.8 697.0,490.6 698.0,489.6 699.0,489.3 700.0,490.3 701.0,491.2 702.0,491.5 703.0,491.2 704.0,491.7 705.0,492.3 706.0,491.3 707.0,491.2 708.0,491.8 709.0,493.1 710.0,491.2 711.0,489.4 712.0,489.6 713.0,490.1 714.0,489.5 715.0,489.5 716.0,489.3 717.0,489.4 718.0,489.8 719.0,489.5 720.0,490.1 721.0,491.6 722.0,491.4 723.0,489.9 724.0,488.2 725.0,489.3 726.0,490.3 727.0,490.9 728.0,490.7 729.0,491.5 730.0,493.7 731.0,495.3 732.0,497.1 733.0,497.8 734.0,498.9 735.0,500.4 736.0,502.8 737.0,500.3 738.0,498.7 739.0,498.6 740.0,495.6 741.0,492.9 742.0,491.8 743.0,489.9 744.0,487.8 745.0,478.3 746.0,463.2 747.0,474.1 748.0,480.3 749.0,475.8 750.0,476.5 751.0,475.3 752.0,474.9 753.0,474.6 754.0,472.4 755.0,468.2 756.0,470.6 757.0,470.2 758.0,472.1 759.0,472.1 760.0,472.3 761.0,472.7 762.0,473.4 763.0,473.7 764.0,471.7 765.0,472.1 766.0,471.1 767.0,470.6 768.0,470.2 769.0,470.1 770.0,471.6 771.0,471.5 772.0,472.3 773.0,473.9 774.0,475.1 775.0,476.1 776.0,474.3 777.0,474.7 778.0,473.9 779.0,474.0 780.0,474.6 781.0,475.0 782.0,473.8 783.0,471.5 784.0,470.3 785.0,468.6 786.0,468.4 787.0,467.2 788.0,466.6 789.0,466.9 790.0,467.5 791.0,466.5 792.0,464.4 793.0,463.5 794.0,464.8 795.0,465.6"/><polyline points="696.0,491.7 697.0,491.1 698.0,492.6 699.0,493.5 700.0,493.1 701.0,491.8 702.0,490.9 703.0,489.5 704.0,490.1 705.0,489.9 706.0,490.6 707.0,492.4 708.0,492.5 709.0,492.2 710.0,493.1 711.0,492.7 712.0,491.4 713.0,489.6 714.0,491.3 715.0,491.7 716.0,492.1 717.0,490.8 718.0,490.4 719.0,491.0 720.0,491.1 721.0,491.8 722.0,492.6 723.0,492.1 724.0,490.4 725.0,489.1 726.0,489.2 727.0,489.6 728.0,491.8 729.0,491.3 730.0,491.4 731.0,492.2 732.0,496.4 733.0,499.2 734.0,507.3 735.0,511.9 736.0,517.4 737.0,520.7 738.0,522.9 739.0,522.7 740.0,523.2 741.0,522.4 742.0,519.1 743.0,519.2 744.0,511.7 745.0,508.2 746.0,503.7 747.0,497.4 748.0,491.1 749.0,491.5 750.0,491.6 751.0,491.4 752.0,493.5 753.0,495.8 754.0,498.7 755.0,498.2 756.0,497.7 757.0,499.4 758.0,495.2 759.0,491.1 760.0,493.3 761.0,489.6 762.0,485.5 763.0,487.7 764.0,480.5 765.0,477.4 766.0,469.4 767.0,469.6 768.0,467.2 769.0,467.5 770.0,469.7 771.0,464.9 772.0,461.8 773.0,459.6 774.0,450.5 775.0,467.7 776.0,477.5 777.0,476.6 778.0,481.4 779.0,482.9 780.0,480.0 781.0,482.4 782.0,484.8 783.0,485.9 784.0,485.7 785.0,486.8 786.0,483.5 787.0,486.3 788.0,488.8 789.0,487.4 790.0,486.6 791.0,488.8 792.0,489.6 793.0,488.1 794.0,487.0 795.0,488.2"/><polyline points="696.0,488.6 697.0,488.7 698.0,489.9 699.0,489.3 700.0,489.1 701.0,489.8 702.0,490.5 703.0,491.5 704.0,490.8 705.0,489.6 706.0,489.6 707.0,490.1 708.0,491.8 709.0,493.5 710.0,494.6 711.0,495.5 712.0,493.4 713.0,491.1 714.0,489.6 715.0,489.6 716.0,490.4 717.0,488.8 718.0,488.7 719.0,491.0 720.0,493.3 721.0,493.2 722.0,492.7 723.0,492.3 724.0,491.1 725.0,490.6 726.0,491.4 727.0,490.5 728.0,488.4 729.0,489.5 730.0,493.1 731.0,493.6 732.0,492.2 733.0,493.1 734.0,491.6 735.0,494.3 736.0,494.5 737.0,495.3 738.0,490.0 739.0,491.2 740.0,491.4 741.0,489.9 742.0,488.7 743.0,485.1 744.0,483.7 745.0,481.0 746.0,481.4 747.0,484.4 748.0,481.4 749.0,473.6 750.0,473.4 751.0,472.9 752.0,470.0 753.0,472.1 754.0,472.9 755.0,473.1 756.0,477.3 757.0,472.2 758.0,471.4 759.0,470.5 760.0,469.0 761.0,468.6 762.0,467.1 763.0,465.9 764.0,466.5 765.0,466.8 766.0,464.4 767.0,463.4 768.0,463.2 769.0,460.9 770.0,461.8 771.0,459.6 772.0,461.6 773.0,459.8 774.0,460.2 775.0,460.7 776.0,461.7 777.0,461.5 778.0,461.3 779.0,460.7 780.0,460.3 781.0,460.8 782.0,462.2 783.0,461.7 784.0,465.3 785.0,462.1 786.0,463.8 787.0,463.2 788.0,464.7 789.0,465.2 790.0,463.9 791.0,467.7 792.0,464.5 793.0,469.2 794.0,470.8 795.0,471.2"/><polyline points="696.0,492.8 697.0,492.6 698.0,491.5 699.0,490.9 700.0,491.6 701.0,490.2 702.0,489.7 703.0,491.1 704.0,490.7 705.0,492.5 706.0,492.7 707.0,494.4 708.0,492.1 709.0,491.9 710.0,491.8 711.0,488.5 712.0,487.6 713.0,490.2 714.0,492.1 715.0,490.0 716.0,489.7 717.0,488.0 718.0,491.0 719.0,492.5 720.0,493.3 721.0,493.3 722.0,491.6 723.0,491.1 724.0,491.0 725.0,490.2 726.0,490.3 727.0,491.8 728.0,491.0 729.0,491.4 730.0,492.7 731.0,496.2 732.0,501.6 733.0,504.6 734.0,516.3 735.0,524.3 736.0,534.4 737.0,532.1 738.0,525.7 739.0,524.6 740.0,526.8 741.0,525.5 742.0,526.4 743.0,524.6 744.0,519.4 745.0,522.1 746.0,520.2 747.0,516.8 748.0,515.2 749.0,513.0 750.0,509.7 751.0,507.4 752.0,505.6 753.0,507.2 754.0,501.6 755.0,499.4 756.0,491.0 757.0,485.5 758.0,487.3 759.0,485.8 760.0,483.9 761.0,482.1 762.0,486.4 763.0,486.5 764.0,479.8 765.0,478.2 766.0,479.3 767.0,474.7 768.0,472.3 769.0,468.9 770.0,472.8 771.0,468.3 772.0,470.3 773.0,473.1 774.0,473.8 775.0,474.2 776.0,477.7 777.0,484.2 778.0,481.0 779.0,483.7 780.0,489.8 781.0,484.6 782.0,482.2 783.0,479.7 784.0,484.9 785.0,484.6 786.0,481.3 787.0,480.6 788.0,478.4 789.0,476.6 790.0,479.9 791.0,480.6 792.0,487.5 793.0,487.0 794.0,486.8 795.0,486.8"/><polyline points="696.0,488.4 697.0,487.7 698.0,488.4 699.0,489.3 700.0,490.7 701.0,491.6 702.0,491.6 703.0,489.9 704.0,489.8 705.0,490.7 706.0,491.5 707.0,491.0 708.0,491.6 709.0,492.8 710.0,494.7 711.0,494.5 712.0,492.7 713.0,490.9 714.0,489.8 715.0,489.8 716.0,490.1 717.0,490.6 718.0,491.7 719.0,490.6 720.0,490.3 721.0,491.0 722.0,492.5 723.0,493.2 724.0,492.6 725.0,491.4 726.0,491.1 727.0,490.8 728.0,491.3 729.0,492.0 730.0,493.8 731.0,495.8 732.0,496.1 733.0,496.1 734.0,495.5 735.0,498.6 736.0,503.4 737.0,500.0 738.0,496.8 739.0,494.4 740.0,490.4 741.0,488.5 742.0,487.6 743.0,485.8 744.0,482.3 745.0,487.6 746.0,499.0 747.0,484.3 748.0,474.1 749.0,474.2 750.0,474.1 751.0,472.8 752.0,471.5 753.0,473.2 754.0,472.5 755.0,470.1 756.0,470.2 757.0,469.3 758.0,469.8 759.0,469.5 760.0,468.0 761.0,467.7 762.0,467.9 763.0,476.7 764.0,488.6 765.0,481.0 766.0,471.6 767.0,469.7 768.0,469.2 769.0,469.4 770.0,470.8 771.0,468.4 772.0,469.6 773.0,467.6 774.0,469.5 775.0,469.1 776.0,468.3 777.0,472.4 778.0,476.8 779.0,472.8 780.0,467.4 781.0,467.8 782.0,466.8 783.0,467.0 784.0,468.4 785.0,467.5 786.0,468.6 787.0,465.1 788.0,465.9 789.0,471.6 790.0,471.5 791.0,473.6 792.0,474.2 793.0,473.1 794.0,473.5 795.0,473.6"/><polyline points="696.0,492.5 697.0,492.7 698.0,490.8 699.0,491.7 700.0,490.5 701.0,490.3 702.0,491.2 703.0,492.7 704.0,492.4 705.0,493.3 706.0,491.5 707.0,490.8 708.0,489.0 709.0,489.7 710.0,491.4 711.0,491.7 712.0,490.6 713.0,488.2 714.0,489.4 715.0,490.6 716.0,492.1 717.0,491.1 718.0,490.5 719.0,491.4 720.0,490.2 721.0,491.4 722.0,491.3 723.0,491.1 724.0,492.7 725.0,492.7 726.0,493.8 727.0,493.4 728.0,489.5 729.0,489.7 730.0,491.5 731.0,494.7 732.0,497.5 733.0,497.7 734.0,500.1 735.0,502.2 736.0,506.0 737.0,503.8 738.0,499.3 739.0,496.8 740.0,492.4 741.0,491.9 742.0,490.7 743.0,486.2 744.0,484.6 745.0,484.0 746.0,483.2 747.0,482.0 748.0,480.8 749.0,481.1 750.0,481.1 751.0,488.1 752.0,488.3 753.0,485.8 754.0,485.1 755.0,485.3 756.0,487.1 757.0,490.6 758.0,493.2 759.0,492.4 760.0,486.8 761.0,480.5 762.0,470.4 763.0,483.2 764.0,485.5 765.0,483.8 766.0,485.5 767.0,487.1 768.0,491.8 769.0,483.0 770.0,478.2 771.0,478.7 772.0,475.6 773.0,474.2 774.0,474.3 775.0,475.8 776.0,475.4 777.0,473.8 778.0,476.1 779.0,476.1 780.0,479.0 781.0,482.4 782.0,480.1 783.0,482.7 784.0,484.9 785.0,482.6 786.0,476.0 787.0,465.6 788.0,474.4 789.0,483.7 790.0,482.6 791.0,482.3 792.0,480.4 793.0,482.1 794.0,485.6 795.0,485.1"/><polyline points="696.0,491.9 697.0,493.4 698.0,492.4 699.0,491.0 700.0,490.4 701.0,490.3 702.0,490.5 703.0,492.0 704.0,491.5 705.0,492.1 706.0,491.9 707.0,492.5 708.0,492.7 709.0,492.1 710.0,490.6 711.0,489.8 712.0,488.8 713.0,489.3 714.0,491.4 715.0,491.8 716.0,491.3 717.0,490.8 718.0,490.9 719.0,491.5 720.0,491.6 721.0,492.4 722.0,492.6 723.0,491.7 724.0,490.2 725.0,490.6 726.0,491.0 727.0,490.7 728.0,490.5 729.0,489.5 730.0,490.9 731.0,493.6 732.0,498.8 733.0,502.4 734.0,510.8 735.0,513.0 736.0,516.2 737.0,516.2 738.0,512.7 739.0,505.2 740.0,499.3 741.0,498.0 742.0,491.7 743.0,490.2 744.0,485.9 745.0,483.7 746.0,480.5 747.0,479.8 748.0,476.7 749.0,476.7 750.0,470.5 751.0,470.5 752.0,472.6 753.0,475.1 754.0,474.5 755.0,473.4 756.0,472.3 757.0,474.8 758.0,472.2 759.0,473.0 760.0,477.7 761.0,481.1 762.0,477.6 763.0,474.9 764.0,476.4 765.0,476.9 766.0,478.0 767.0,476.9 768.0,480.1 769.0,481.8 770.0,478.5 771.0,480.2 772.0,479.6 773.0,480.2 774.0,479.2 775.0,479.9 776.0,476.6 777.0,476.3 778.0,474.6 779.0,473.6 780.0,472.8 781.0,476.0 782.0,476.0 783.0,479.5 784.0,479.9 785.0,478.5 786.0,479.1 787.0,481.3 788.0,484.0 789.0,477.0 790.0,475.4 791.0,471.5 792.0,471.6 793.0,470.2 794.0,469.9 795.0,469.2"/><polyline points="696.0,493.0 697.0,490.6 698.0,489.6 699.0,490.2 700.0,490.6 701.0,490.8 702.0,491.3 703.0,490.1 704.0,489.9 705.0,490.1 706.0,492.1 707.0,492.1 708.0,491.3 709.0,490.9 710.0,491.2 711.0,490.9 712.0,491.6 713.0,490.9 714.0,489.6 715.0,489.9 716.0,491.2 717.0,489.8 718.0,489.1 719.0,490.8 720.0,491.5 721.0,492.1 722.0,490.5 723.0,488.1 724.0,488.9 725.0,491.1 726.0,491.7 727.0,492.5 728.0,491.7 729.0,491.1 730.0,493.0 731.0,494.7 732.0,499.9 733.0,510.0 734.0,525.7 735.0,540.7 736.0,540.1 737.0,537.5 738.0,529.8 739.0,518.1 740.0,513.1 741.0,512.8 742.0,506.2 743.0,508.1 744.0,506.1 745.0,511.7 746.0,508.1 747.0,510.9 748.0,512.8 749.0,515.6 750.0,511.3 751.0,506.3 752.0,505.5 753.0,507.0 754.0,503.4 755.0,506.3 756.0,501.8 757.0,501.0 758.0,494.3 759.0,495.2 760.0,495.0 761.0,503.7 762.0,490.6 763.0,485.7 764.0,485.8 765.0,482.4 766.0,480.1 767.0,478.4 768.0,478.5 769.0,478.1 770.0,480.1 771.0,485.8 772.0,498.5 773.0,492.4 774.0,482.8 775.0,489.6 776.0,490.9 777.0,490.1 778.0,496.0 779.0,488.6 780.0,494.8 781.0,490.9 782.0,487.7 783.0,490.3 784.0,490.8 785.0,490.8 786.0,493.9 787.0,489.4 788.0,489.3 789.0,492.2 790.0,487.1 791.0,484.5 792.0,483.5 793.0,476.7 794.0,467.5 795.0,466.6"/><polyline points="696.0,491.3 697.0,490.7 698.0,489.6 699.0,490.6 700.0,491.5 701.0,493.1 702.0,492.7 703.0,490.7 704.0,491.4 705.0,491.1 706.0,491.1 707.0,491.2 708.0,491.6 709.0,491.5 710.0,491.7 711.0,491.0 712.0,490.6 713.0,492.0 714.0,490.6 715.0,490.7 716.0,489.4 717.0,489.4 718.0,490.6 719.0,491.1 720.0,491.3 721.0,494.5 722.0,493.2 723.0,494.1 724.0,491.1 725.0,491.1 726.0,490.9 727.0,492.4 728.0,492.6 729.0,491.3 730.0,492.6 731.0,495.2 732.0,498.8 733.0,506.5 734.0,512.2 735.0,524.0 736.0,532.2 737.0,534.0 738.0,536.3 739.0,530.3 740.0,523.2 741.0,518.3 742.0,514.7 743.0,510.3 744.0,507.4 745.0,509.0 746.0,512.3 747.0,512.2 748.0,511.6 749.0,510.2 750.0,510.4 751.0,503.8 752.0,504.9 753.0,499.0 754.0,492.1 755.0,489.8 756.0,486.6 757.0,484.4 758.0,484.3 759.0,487.7 760.0,491.1 761.0,493.6 762.0,494.2 763.0,499.5 764.0,501.2 765.0,501.0 766.0,502.2 767.0,498.1 768.0,503.3 769.0,499.4 770.0,501.3 771.0,498.1 772.0,494.5 773.0,497.3 774.0,496.9 775.0,493.7 776.0,493.9 777.0,490.6 778.0,493.4 779.0,495.2 780.0,494.6 781.0,490.0 782.0,492.0 783.0,490.5 784.0,488.9 785.0,485.9 786.0,488.5 787.0,487.8 788.0,485.2 789.0,489.9 790.0,492.6 791.0,492.5 792.0,490.2 793.0,485.4 794.0,485.4 795.0,479.2"/><polyline points="696.0,491.3 697.0,492.4 698.0,490.7 699.0,489.8 700.0,492.1 701.0,493.9 702.0,491.0 703.0,489.0 704.0,488.0 705.0,487.5 706.0,489.0 707.0,490.7 708.0,492.9 709.0,493.4 710.0,492.8 711.0,490.8 712.0,490.2 713.0,490.9 714.0,491.0 715.0,488.3 716.0,489.1 717.0,490.9 718.0,491.6 719.0,488.5 720.0,489.6 721.0,491.7 722.0,491.0 723.0,491.3 724.0,491.9 725.0,492.5 726.0,491.0 727.0,490.7 728.0,491.5 729.0,492.5 730.0,489.9 731.0,487.8 732.0,490.3 733.0,490.4 734.0,492.3 735.0,496.2 736.0,501.8 737.0,501.6 738.0,508.5 739.0,510.6 740.0,510.2 741.0,503.8 742.0,513.1 743.0,521.7 744.0,534.0 745.0,517.6 746.0,501.5 747.0,479.8 748.0,475.9 749.0,478.1 750.0,474.0 751.0,468.5 752.0,465.2 753.0,463.2 754.0,460.7 755.0,464.0 756.0,465.5 757.0,468.4 758.0,470.7 759.0,470.0 760.0,459.6 761.0,456.0 762.0,458.1 763.0,455.6 764.0,455.5 765.0,456.6 766.0,459.7 767.0,457.5 768.0,463.1 769.0,461.1 770.0,459.4 771.0,461.0 772.0,455.7 773.0,461.9 774.0,467.0 775.0,472.9 776.0,476.0 777.0,476.6 778.0,475.1 779.0,476.3 780.0,471.6 781.0,470.0 782.0,463.6 783.0,458.0 784.0,460.0 785.0,457.0 786.0,458.9 787.0,457.6 788.0,456.2 789.0,453.2 790.0,454.0 791.0,458.2 792.0,460.2 793.0,460.2 794.0,461.6 795.0,465.0"/><polyline points="696.0,500.2 697.0,510.0 698.0,501.2 699.0,494.2 700.0,494.0 701.0,493.5 702.0,493.0 703.0,493.1 704.0,491.4 705.0,488.8 706.0,489.8 707.0,490.6 708.0,492.1 709.0,490.5 710.0,490.8 711.0,490.3 712.0,491.5 713.0,493.2 714.0,491.2 715.0,491.9 716.0,491.1 717.0,492.5 718.0,491.7 719.0,492.8 720.0,491.3 721.0,489.7 722.0,488.6 723.0,490.3 724.0,488.0 725.0,489.2 726.0,491.3 727.0,492.0 728.0,492.0 729.0,493.5 730.0,491.3 731.0,492.2 732.0,488.5 733.0,491.0 734.0,490.5 735.0,492.0 736.0,494.1 737.0,494.5 738.0,490.1 739.0,489.3 740.0,483.9 741.0,483.7 742.0,484.1 743.0,482.8 744.0,480.9 745.0,472.2 746.0,478.5 747.0,471.7 748.0,469.2 749.0,467.5 750.0,463.5 751.0,462.0 752.0,457.0 753.0,458.0 754.0,459.8 755.0,460.5 756.0,455.9 757.0,457.8 758.0,457.5 759.0,452.7 760.0,451.0 761.0,455.2 762.0,449.0 763.0,443.3 764.0,449.1 765.0,452.6 766.0,448.9 767.0,453.2 768.0,452.3 769.0,453.1 770.0,454.5 771.0,450.4 772.0,449.7 773.0,455.2 774.0,449.3 775.0,446.1 776.0,450.8 777.0,450.8 778.0,450.0 779.0,451.1 780.0,453.2 781.0,456.6 782.0,460.2 783.0,467.5 784.0,462.4 785.0,459.9 786.0,459.4 787.0,459.7 788.0,458.7 789.0,457.4 790.0,460.9 791.0,457.0 792.0,455.2 793.0,453.4 794.0,449.5 795.0,452.7"/><polyline points="696.0,492.3 697.0,491.6 698.0,491.6 699.0,491.1 700.0,491.6 701.0,490.1 702.0,492.1 703.0,491.8 704.0,490.7 705.0,491.5 706.0,492.6 707.0,489.8 708.0,491.1 709.0,490.9 710.0,492.4 711.0,491.3 712.0,492.3 713.0,490.6 714.0,490.1 715.0,489.1 716.0,490.8 717.0,489.9 718.0,490.8 719.0,490.3 720.0,491.7 721.0,493.2 722.0,492.5 723.0,493.4 724.0,493.8 725.0,492.4 726.0,490.2 727.0,490.6 728.0,492.2 729.0,491.5 730.0,494.0 731.0,499.4 732.0,502.4 733.0,511.5 734.0,517.7 735.0,520.4 736.0,518.9 737.0,518.5 738.0,510.6 739.0,516.1 740.0,515.1 741.0,521.0 742.0,520.8 743.0,523.6 744.0,519.6 745.0,518.9 746.0,521.2 747.0,516.8 748.0,508.8 749.0,500.5 750.0,499.9 751.0,494.0 752.0,495.1 753.0,487.6 754.0,490.9 755.0,485.6 756.0,487.4 757.0,482.5 758.0,484.4 759.0,487.6 760.0,494.5 761.0,500.7 762.0,500.8 763.0,496.3 764.0,492.5 765.0,486.7 766.0,488.4 767.0,485.3 768.0,488.3 769.0,487.9 770.0,491.0 771.0,488.3 772.0,481.6 773.0,479.4 774.0,489.9 775.0,488.8 776.0,485.9 777.0,486.2 778.0,476.3 779.0,476.6 780.0,472.8 781.0,469.6 782.0,474.2 783.0,478.1 784.0,480.0 785.0,481.4 786.0,483.9 787.0,488.3 788.0,486.9 789.0,494.1 790.0,490.4 791.0,483.7 792.0,487.0 793.0,490.7 794.0,488.4 795.0,493.3"/><polyline points="696.0,489.6 697.0,490.6 698.0,492.3 699.0,490.6 700.0,490.0 701.0,488.4 702.0,488.4 703.0,490.4 704.0,493.4 705.0,492.2 706.0,489.7 707.0,488.8 708.0,491.2 709.0,492.9 710.0,492.1 711.0,491.7 712.0,491.1 713.0,490.2 714.0,490.3 715.0,491.7 716.0,489.9 717.0,489.4 718.0,490.3 719.0,491.8 720.0,491.1 721.0,491.9 722.0,491.5 723.0,490.3 724.0,490.1 725.0,490.3 726.0,490.0 727.0,489.6 728.0,490.7 729.0,491.5 730.0,491.4 731.0,492.8 732.0,492.3 733.0,494.5 734.0,499.5 735.0,500.1 736.0,502.4 737.0,500.8 738.0,495.5 739.0,486.0 740.0,487.8 741.0,490.2 742.0,488.8 743.0,479.1 744.0,483.0 745.0,491.3 746.0,480.0 747.0,474.6 748.0,474.6 749.0,470.1 750.0,471.4 751.0,470.8 752.0,472.3 753.0,477.2 754.0,475.3 755.0,482.9 756.0,478.1 757.0,475.3 758.0,475.7 759.0,468.4 760.0,463.3 761.0,456.7 762.0,458.3 763.0,457.7 764.0,456.3 765.0,453.9 766.0,457.2 767.0,453.0 768.0,452.2 769.0,452.5 770.0,451.1 771.0,454.3 772.0,455.4 773.0,453.1 774.0,452.4 775.0,456.0 776.0,456.9 777.0,455.7 778.0,455.2 779.0,456.5 780.0,456.4 781.0,459.2 782.0,456.6 783.0,459.0 784.0,461.3 785.0,462.9 786.0,462.5 787.0,467.2 788.0,462.8 789.0,464.5 790.0,462.8 791.0,459.0 792.0,456.3 793.0,454.3 794.0,453.7 795.0,455.4"/><polyline points="696.0,493.4 697.0,491.5 698.0,489.6 699.0,490.0 700.0,492.4 701.0,494.3 702.0,493.3 703.0,491.2 704.0,491.2 705.0,491.2 706.0,492.3 707.0,491.9 708.0,490.1 709.0,488.2 710.0,487.5 711.0,488.7 712.0,488.8 713.0,489.3 714.0,490.1 715.0,490.8 716.0,492.5 717.0,491.7 718.0,491.8 719.0,490.2 720.0,489.8 721.0,489.8 722.0,491.4 723.0,491.5 724.0,491.2 725.0,490.1 726.0,490.4 727.0,489.8 728.0,490.4 729.0,490.9 730.0,494.2 731.0,496.8 732.0,500.9 733.0,506.8 734.0,511.2 735.0,515.0 736.0,517.7 737.0,514.1 738.0,510.1 739.0,503.2 740.0,496.0 741.0,491.8 742.0,485.4 743.0,486.0 744.0,487.7 745.0,485.0 746.0,483.1 747.0,483.9 748.0,481.9 749.0,479.9 750.0,481.4 751.0,480.5 752.0,479.4 753.0,474.9 754.0,476.8 755.0,475.2 756.0,472.8 757.0,475.0 758.0,475.9 759.0,473.9 760.0,474.6 761.0,472.1 762.0,471.5 763.0,470.9 764.0,472.3 765.0,469.5 766.0,471.1 767.0,470.5 768.0,470.8 769.0,472.0 770.0,470.9 771.0,471.2 772.0,473.7 773.0,470.9 774.0,471.1 775.0,472.5 776.0,469.9 777.0,471.0 778.0,471.4 779.0,475.5 780.0,474.7 781.0,473.4 782.0,478.8 783.0,480.7 784.0,476.5 785.0,478.1 786.0,477.1 787.0,477.6 788.0,478.7 789.0,477.9 790.0,477.3 791.0,477.8 792.0,476.8 793.0,476.9 794.0,477.5 795.0,480.4"/></g>
<polyline points="696.0,490.3 697.0,492.0 698.0,491.5 699.0,491.1 700.0,490.9 701.0,491.0 702.0,491.8 703.0,492.4 704.0,491.1 705.0,490.6 706.0,490.8 707.0,491.6 708.0,491.3 709.0,491.7 710.0,491.7 711.0,491.4 712.0,490.8 713.0,490.4 714.0,490.5 715.0,491.4 716.0,490.4 717.0,491.7 718.0,491.8 719.0,492.0 720.0,491.2 721.0,490.9 722.0,491.2 723.0,490.1 724.0,490.3 725.0,490.8 726.0,491.0 727.0,490.6 728.0,490.1 729.0,492.0 730.0,492.6 731.0,493.6 732.0,495.4 733.0,495.8 734.0,499.1 735.0,503.3 736.0,502.0 737.0,500.7 738.0,499.8 739.0,497.6 740.0,496.5 741.0,491.4 742.0,490.6 743.0,489.9 744.0,487.3 745.0,485.8 746.0,483.5 747.0,481.6 748.0,481.9 749.0,479.5 750.0,478.8 751.0,479.3 752.0,477.6 753.0,477.1 754.0,476.3 755.0,476.9 756.0,477.0 757.0,474.8 758.0,474.5 759.0,474.8 760.0,473.7 761.0,474.3 762.0,473.5 763.0,471.6 764.0,471.2 765.0,472.5 766.0,472.8 767.0,470.6 768.0,471.2 769.0,471.7 770.0,469.9 771.0,469.3 772.0,470.6 773.0,469.2 774.0,469.0 775.0,468.9 776.0,469.4 777.0,468.1 778.0,469.1 779.0,468.6 780.0,468.2 781.0,468.7 782.0,468.2 783.0,468.8 784.0,469.9 785.0,469.9 786.0,469.2 787.0,469.8 788.0,471.3 789.0,469.6 790.0,469.3 791.0,470.1 792.0,471.2 793.0,468.9 794.0,469.9 795.0,469.7" fill="none" stroke="#151515" stroke-width="3.2" stroke-linejoin="round" stroke-linecap="round"/>
<g fill="none" stroke="#9d9d9d" stroke-width="1.4" stroke-linejoin="round"><polyline points="472.0,620.4 473.0,620.6 474.0,621.0 475.0,623.3 476.0,628.3 477.0,623.9 478.0,619.3 479.0,621.6 480.0,621.1 481.0,620.7 482.0,619.9 483.0,621.1 484.0,622.7 485.0,622.7 486.0,621.9 487.0,621.2 488.0,621.3 489.0,620.9 490.0,619.9 491.0,621.9 492.0,620.9 493.0,620.8 494.0,620.6 495.0,620.9 496.0,619.9 497.0,621.4 498.0,620.2 499.0,620.0 500.0,619.0 501.0,618.7 502.0,620.0 503.0,620.1 504.0,620.9 505.0,619.9 506.0,619.6 507.0,624.4 508.0,621.6 509.0,620.9 510.0,617.9 511.0,622.5 512.0,627.7 513.0,630.9 514.0,632.1 515.0,632.9 516.0,630.9 517.0,631.2 518.0,623.2 519.0,616.6 520.0,609.7 521.0,611.9 522.0,614.4 523.0,606.4 524.0,595.1 525.0,611.5 526.0,617.4 527.0,614.4 528.0,620.6 529.0,623.3 530.0,623.0 531.0,622.6 532.0,620.7 533.0,622.0 534.0,626.0 535.0,616.3 536.0,608.1 537.0,607.8 538.0,610.1 539.0,617.0 540.0,626.2 541.0,617.4 542.0,619.7 543.0,629.2 544.0,630.1 545.0,630.6 546.0,629.0 547.0,642.4 548.0,664.3 549.0,643.5 550.0,632.3 551.0,634.7 552.0,633.5 553.0,633.9 554.0,634.0 555.0,634.2 556.0,629.4 557.0,626.7 558.0,627.5 559.0,626.6 560.0,625.4 561.0,622.4 562.0,624.2 563.0,624.5 564.0,618.9 565.0,621.8 566.0,623.0 567.0,623.6 568.0,621.7 569.0,623.1 570.0,624.1 571.0,623.0"/><polyline points="472.0,619.4 473.0,619.0 474.0,618.8 475.0,619.1 476.0,619.9 477.0,621.3 478.0,620.6 479.0,620.3 480.0,620.8 481.0,619.6 482.0,621.3 483.0,620.9 484.0,619.7 485.0,619.2 486.0,618.9 487.0,619.3 488.0,621.2 489.0,620.8 490.0,619.4 491.0,619.9 492.0,619.2 493.0,619.9 494.0,619.9 495.0,619.8 496.0,620.1 497.0,618.9 498.0,619.4 499.0,618.7 500.0,620.3 501.0,620.8 502.0,621.5 503.0,621.6 504.0,620.7 505.0,621.4 506.0,623.3 507.0,629.4 508.0,627.2 509.0,630.4 510.0,632.2 511.0,636.4 512.0,639.4 513.0,636.0 514.0,632.0 515.0,625.6 516.0,629.7 517.0,629.4 518.0,633.4 519.0,630.6 520.0,633.1 521.0,632.1 522.0,630.6 523.0,634.1 524.0,636.8 525.0,637.9 526.0,637.7 527.0,639.8 528.0,638.1 529.0,642.2 530.0,658.5 531.0,678.4 532.0,696.0 533.0,679.5 534.0,662.3 535.0,646.3 536.0,641.8 537.0,648.0 538.0,652.0 539.0,649.8 540.0,645.9 541.0,642.3 542.0,641.4 543.0,630.1 544.0,628.0 545.0,626.4 546.0,628.6 547.0,630.7 548.0,624.9 549.0,628.1 550.0,624.3 551.0,622.6 552.0,622.1 553.0,624.5 554.0,621.4 555.0,620.8 556.0,622.3 557.0,626.9 558.0,627.4 559.0,634.7 560.0,634.4 561.0,634.7 562.0,639.0 563.0,636.3 564.0,636.4 565.0,639.5 566.0,639.4 567.0,653.4 568.0,676.8 569.0,672.2 570.0,656.3 571.0,649.1"/><polyline points="472.0,620.8 473.0,621.3 474.0,620.3 475.0,618.6 476.0,619.3 477.0,620.4 478.0,620.2 479.0,621.1 480.0,620.2 481.0,619.0 482.0,618.8 483.0,620.8 484.0,622.0 485.0,621.6 486.0,620.5 487.0,620.3 488.0,620.1 489.0,620.0 490.0,622.0 491.0,622.5 492.0,622.9 493.0,622.7 494.0,621.9 495.0,624.0 496.0,624.2 497.0,624.2 498.0,623.2 499.0,620.8 500.0,620.6 501.0,620.0 502.0,621.8 503.0,622.6 504.0,622.8 505.0,623.8 506.0,623.6 507.0,628.7 508.0,628.1 509.0,628.4 510.0,634.3 511.0,634.6 512.0,645.2 513.0,640.5 514.0,640.7 515.0,638.5 516.0,639.1 517.0,642.4 518.0,647.6 519.0,645.7 520.0,640.4 521.0,645.2 522.0,635.8 523.0,632.6 524.0,643.4 525.0,640.0 526.0,641.0 527.0,642.1 528.0,638.9 529.0,634.3 530.0,627.6 531.0,609.4 532.0,587.7 533.0,570.0 534.0,586.8 535.0,608.7 536.0,627.1 537.0,630.1 538.0,629.6 539.0,632.5 540.0,632.6 541.0,639.2 542.0,653.8 543.0,676.4 544.0,655.3 545.0,643.7 546.0,642.5 547.0,641.1 548.0,640.4 549.0,638.0 550.0,642.1 551.0,647.2 552.0,644.2 553.0,642.9 554.0,640.1 555.0,642.9 556.0,646.0 557.0,653.9 558.0,651.5 559.0,652.4 560.0,648.5 561.0,647.8 562.0,642.8 563.0,639.1 564.0,635.2 565.0,634.5 566.0,638.8 567.0,632.6 568.0,634.1 569.0,629.5 570.0,624.0 571.0,624.6"/><polyline points="472.0,620.1 473.0,620.1 474.0,618.9 475.0,621.4 476.0,622.0 477.0,623.8 478.0,623.9 479.0,620.6 480.0,620.9 481.0,620.9 482.0,620.0 483.0,620.7 484.0,618.1 485.0,618.6 486.0,619.8 487.0,619.6 488.0,616.7 489.0,616.5 490.0,620.0 491.0,621.7 492.0,620.1 493.0,618.1 494.0,615.6 495.0,617.0 496.0,617.8 497.0,619.6 498.0,619.8 499.0,620.3 500.0,618.8 501.0,617.2 502.0,617.7 503.0,619.6 504.0,621.0 505.0,622.4 506.0,623.6 507.0,630.3 508.0,632.0 509.0,627.8 510.0,629.8 511.0,630.7 512.0,629.4 513.0,635.0 514.0,634.9 515.0,624.3 516.0,612.3 517.0,632.1 518.0,643.1 519.0,645.4 520.0,643.8 521.0,640.1 522.0,649.0 523.0,642.0 524.0,646.4 525.0,646.5 526.0,651.8 527.0,652.5 528.0,658.9 529.0,665.1 530.0,663.8 531.0,655.4 532.0,650.4 533.0,659.2 534.0,656.9 535.0,658.1 536.0,653.6 537.0,657.4 538.0,653.3 539.0,656.1 540.0,654.1 541.0,649.5 542.0,649.3 543.0,648.3 544.0,651.9 545.0,653.1 546.0,656.4 547.0,654.6 548.0,660.3 549.0,661.4 550.0,657.2 551.0,663.2 552.0,666.9 553.0,667.4 554.0,659.2 555.0,649.5 556.0,649.2 557.0,642.1 558.0,644.5 559.0,638.1 560.0,636.6 561.0,637.9 562.0,644.9 563.0,650.8 564.0,650.0 565.0,657.1 566.0,647.7 567.0,652.6 568.0,649.2 569.0,643.6 570.0,639.0 571.0,634.8"/><polyline points="472.0,618.2 473.0,618.6 474.0,619.6 475.0,618.8 476.0,619.0 477.0,621.1 478.0,622.9 479.0,622.5 480.0,621.3 481.0,622.0 482.0,621.4 483.0,619.4 484.0,619.3 485.0,620.1 486.0,620.4 487.0,621.7 488.0,621.0 489.0,620.7 490.0,620.1 491.0,620.2 492.0,619.6 493.0,619.6 494.0,619.8 495.0,618.4 496.0,618.1 497.0,619.4 498.0,621.6 499.0,622.2 500.0,624.6 501.0,623.5 502.0,622.2 503.0,622.8 504.0,622.7 505.0,622.4 506.0,623.4 507.0,626.9 508.0,621.7 509.0,614.6 510.0,604.5 511.0,600.1 512.0,593.7 513.0,595.2 514.0,595.6 515.0,600.3 516.0,600.2 517.0,601.1 518.0,603.9 519.0,608.3 520.0,610.2 521.0,607.6 522.0,603.7 523.0,606.8 524.0,607.3 525.0,609.5 526.0,610.0 527.0,612.7 528.0,616.1 529.0,618.5 530.0,621.9 531.0,620.9 532.0,624.0 533.0,625.1 534.0,623.8 535.0,624.7 536.0,624.1 537.0,625.6 538.0,625.0 539.0,627.2 540.0,627.4 541.0,631.0 542.0,629.3 543.0,634.5 544.0,631.1 545.0,632.2 546.0,634.4 547.0,632.8 548.0,634.5 549.0,636.0 550.0,637.0 551.0,639.5 552.0,640.3 553.0,641.2 554.0,645.7 555.0,649.1 556.0,650.2 557.0,648.5 558.0,646.3 559.0,645.6 560.0,645.3 561.0,644.2 562.0,639.4 563.0,631.6 564.0,630.9 565.0,630.2 566.0,625.3 567.0,627.2 568.0,623.9 569.0,623.7 570.0,620.7 571.0,620.3"/><polyline points="472.0,620.1 473.0,620.3 474.0,620.8 475.0,620.1 476.0,620.2 477.0,621.8 478.0,623.9 479.0,623.0 480.0,620.0 481.0,619.0 482.0,621.2 483.0,619.6 484.0,617.9 485.0,617.6 486.0,618.8 487.0,620.3 488.0,619.1 489.0,620.8 490.0,621.4 491.0,620.3 492.0,620.2 493.0,619.3 494.0,619.7 495.0,621.0 496.0,620.5 497.0,620.3 498.0,618.5 499.0,618.5 500.0,619.7 501.0,617.5 502.0,619.3 503.0,620.7 504.0,620.3 505.0,620.0 506.0,621.5 507.0,624.5 508.0,619.3 509.0,611.6 510.0,598.4 511.0,589.0 512.0,582.3 513.0,591.0 514.0,593.3 515.0,594.3 516.0,593.2 517.0,597.5 518.0,603.9 519.0,601.3 520.0,603.8 521.0,602.6 522.0,602.2 523.0,604.7 524.0,604.8 525.0,613.5 526.0,614.7 527.0,618.1 528.0,611.0 529.0,605.7 530.0,601.2 531.0,605.9 532.0,604.7 533.0,604.8 534.0,601.0 535.0,590.2 536.0,574.6 537.0,594.5 538.0,607.8 539.0,610.4 540.0,610.9 541.0,616.6 542.0,613.4 543.0,611.4 544.0,610.4 545.0,614.4 546.0,616.6 547.0,623.8 548.0,621.3 549.0,616.7 550.0,608.4 551.0,596.7 552.0,603.9 553.0,610.4 554.0,611.9 555.0,617.3 556.0,604.1 557.0,600.7 558.0,595.4 559.0,599.1 560.0,599.5 561.0,600.9 562.0,603.8 563.0,601.0 564.0,596.9 565.0,600.2 566.0,600.4 567.0,608.4 568.0,605.1 569.0,608.6 570.0,609.9 571.0,611.3"/><polyline points="472.0,621.2 473.0,619.5 474.0,618.3 475.0,618.3 476.0,620.7 477.0,623.0 478.0,621.9 479.0,621.0 480.0,621.2 481.0,620.9 482.0,619.7 483.0,617.8 484.0,617.8 485.0,619.6 486.0,619.6 487.0,620.5 488.0,620.4 489.0,620.1 490.0,620.9 491.0,620.1 492.0,621.1 493.0,620.4 494.0,619.3 495.0,619.3 496.0,620.9 497.0,621.9 498.0,622.1 499.0,621.2 500.0,619.9 501.0,621.3 502.0,621.9 503.0,622.2 504.0,623.6 505.0,624.1 506.0,625.4 507.0,629.3 508.0,627.5 509.0,626.2 510.0,623.9 511.0,624.7 512.0,624.9 513.0,624.8 514.0,625.9 515.0,623.9 516.0,622.1 517.0,621.1 518.0,620.1 519.0,616.6 520.0,616.8 521.0,612.3 522.0,608.1 523.0,607.6 524.0,609.1 525.0,618.4 526.0,616.3 527.0,618.5 528.0,620.9 529.0,623.4 530.0,623.9 531.0,625.2 532.0,623.5 533.0,623.1 534.0,622.9 535.0,622.1 536.0,619.0 537.0,617.7 538.0,616.6 539.0,616.8 540.0,617.5 541.0,618.6 542.0,619.4 543.0,623.5 544.0,626.4 545.0,627.9 546.0,629.5 547.0,630.7 548.0,634.0 549.0,637.1 550.0,637.2 551.0,639.1 552.0,643.2 553.0,641.6 554.0,637.4 555.0,633.2 556.0,631.4 557.0,624.9 558.0,624.7 559.0,621.9 560.0,621.1 561.0,619.7 562.0,618.1 563.0,615.5 564.0,616.1 565.0,626.2 566.0,630.4 567.0,620.7 568.0,609.4 569.0,609.1 570.0,603.0 571.0,601.5"/><polyline points="472.0,621.6 473.0,617.5 474.0,618.7 475.0,620.3 476.0,621.2 477.0,620.8 478.0,620.0 479.0,618.7 480.0,619.3 481.0,621.6 482.0,621.9 483.0,622.8 484.0,620.9 485.0,618.9 486.0,619.7 487.0,617.2 488.0,618.6 489.0,615.9 490.0,616.9 491.0,619.5 492.0,619.8 493.0,621.3 494.0,623.0 495.0,622.5 496.0,619.4 497.0,618.8 498.0,620.2 499.0,618.1 500.0,617.8 501.0,619.0 502.0,617.1 503.0,620.6 504.0,622.1 505.0,624.0 506.0,623.7 507.0,627.0 508.0,629.8 509.0,627.3 510.0,628.9 511.0,646.0 512.0,627.2 513.0,625.5 514.0,630.7 515.0,627.7 516.0,635.0 517.0,631.0 518.0,628.7 519.0,629.2 520.0,628.2 521.0,630.8 522.0,626.6 523.0,632.1 524.0,631.2 525.0,641.2 526.0,645.6 527.0,649.4 528.0,651.3 529.0,643.9 530.0,645.8 531.0,639.3 532.0,634.2 533.0,634.6 534.0,633.2 535.0,637.6 536.0,640.3 537.0,646.4 538.0,639.5 539.0,644.2 540.0,646.8 541.0,646.7 542.0,655.6 543.0,659.2 544.0,652.4 545.0,654.2 546.0,654.1 547.0,656.4 548.0,653.1 549.0,646.8 550.0,642.5 551.0,642.7 552.0,645.2 553.0,649.3 554.0,648.1 555.0,651.9 556.0,651.9 557.0,655.8 558.0,662.1 559.0,674.0 560.0,674.6 561.0,666.6 562.0,671.0 563.0,669.6 564.0,669.0 565.0,667.0 566.0,659.6 567.0,659.2 568.0,651.1 569.0,649.9 570.0,642.4 571.0,639.1"/><polyline points="472.0,620.4 473.0,619.8 474.0,617.7 475.0,617.7 476.0,619.8 477.0,618.8 478.0,619.4 479.0,619.7 480.0,616.0 481.0,619.4 482.0,620.9 483.0,622.6 484.0,621.8 485.0,619.3 486.0,620.7 487.0,621.5 488.0,619.5 489.0,618.6 490.0,619.5 491.0,621.2 492.0,620.9 493.0,622.2 494.0,621.5 495.0,618.9 496.0,618.1 497.0,618.5 498.0,619.6 499.0,616.7 500.0,618.1 501.0,616.6 502.0,616.1 503.0,617.1 504.0,619.3 505.0,619.6 506.0,620.5 507.0,629.0 508.0,631.1 509.0,616.9 510.0,603.1 511.0,594.1 512.0,591.7 513.0,587.6 514.0,586.0 515.0,588.5 516.0,587.8 517.0,583.4 518.0,577.4 519.0,576.7 520.0,576.2 521.0,576.4 522.0,580.3 523.0,585.5 524.0,577.4 525.0,579.7 526.0,581.5 527.0,583.8 528.0,578.4 529.0,579.7 530.0,585.1 531.0,590.9 532.0,597.4 533.0,601.9 534.0,605.1 535.0,609.3 536.0,613.3 537.0,615.1 538.0,616.3 539.0,615.6 540.0,618.1 541.0,619.2 542.0,621.6 543.0,620.1 544.0,618.6 545.0,621.6 546.0,611.1 547.0,616.7 548.0,613.0 549.0,612.4 550.0,612.2 551.0,615.9 552.0,616.6 553.0,617.8 554.0,610.6 555.0,615.6 556.0,623.9 557.0,626.5 558.0,622.0 559.0,618.0 560.0,614.5 561.0,606.3 562.0,609.4 563.0,602.0 564.0,598.9 565.0,599.9 566.0,596.2 567.0,597.6 568.0,599.1 569.0,597.2 570.0,596.8 571.0,595.8"/><polyline points="472.0,618.0 473.0,618.3 474.0,619.3 475.0,620.9 476.0,620.6 477.0,619.1 478.0,619.8 479.0,620.8 480.0,619.6 481.0,619.9 482.0,622.4 483.0,623.7 484.0,621.5 485.0,620.5 486.0,619.9 487.0,619.9 488.0,619.1 489.0,620.8 490.0,620.7 491.0,620.2 492.0,620.2 493.0,619.5 494.0,619.2 495.0,619.9 496.0,620.0 497.0,621.4 498.0,620.2 499.0,619.7 500.0,619.7 501.0,620.4 502.0,620.6 503.0,619.9 504.0,618.8 505.0,618.5 506.0,618.5 507.0,622.0 508.0,618.4 509.0,611.4 510.0,601.0 511.0,589.3 512.0,576.4 513.0,572.9 514.0,581.3 515.0,588.1 516.0,597.1 517.0,599.0 518.0,601.2 519.0,602.3 520.0,601.3 521.0,602.2 522.0,600.8 523.0,603.2 524.0,603.1 525.0,601.5 526.0,604.8 527.0,607.2 528.0,610.4 529.0,622.5 530.0,638.2 531.0,628.8 532.0,623.7 533.0,629.9 534.0,638.7 535.0,635.7 536.0,633.5 537.0,637.0 538.0,635.7 539.0,634.5 540.0,633.2 541.0,633.2 542.0,624.2 543.0,622.7 544.0,622.3 545.0,622.7 546.0,618.9 547.0,621.3 548.0,619.6 549.0,621.2 550.0,624.9 551.0,625.3 552.0,629.8 553.0,637.2 554.0,637.7 555.0,641.1 556.0,640.6 557.0,637.0 558.0,636.5 559.0,636.9 560.0,629.9 561.0,629.6 562.0,626.6 563.0,625.6 564.0,626.8 565.0,630.5 566.0,628.0 567.0,628.4 568.0,625.3 569.0,624.7 570.0,624.7 571.0,619.6"/><polyline points="472.0,622.3 473.0,619.5 474.0,619.4 475.0,621.2 476.0,620.6 477.0,619.6 478.0,620.1 479.0,620.8 480.0,618.6 481.0,616.8 482.0,619.8 483.0,619.9 484.0,620.9 485.0,621.3 486.0,620.4 487.0,620.6 488.0,618.2 489.0,619.0 490.0,618.7 491.0,619.1 492.0,620.4 493.0,619.0 494.0,621.8 495.0,623.0 496.0,622.6 497.0,621.5 498.0,621.6 499.0,621.3 500.0,621.6 501.0,622.7 502.0,622.2 503.0,621.7 504.0,622.3 505.0,621.7 506.0,623.5 507.0,628.3 508.0,627.4 509.0,623.1 510.0,617.8 511.0,614.1 512.0,619.2 513.0,623.0 514.0,622.8 515.0,626.7 516.0,629.9 517.0,634.0 518.0,633.4 519.0,626.0 520.0,629.7 521.0,632.5 522.0,627.5 523.0,625.4 524.0,628.2 525.0,632.0 526.0,637.8 527.0,640.2 528.0,643.2 529.0,648.0 530.0,650.8 531.0,660.0 532.0,663.5 533.0,651.3 534.0,654.0 535.0,649.4 536.0,648.6 537.0,640.3 538.0,650.5 539.0,649.8 540.0,651.7 541.0,647.6 542.0,645.6 543.0,648.1 544.0,650.6 545.0,643.0 546.0,643.3 547.0,641.0 548.0,640.4 549.0,641.6 550.0,631.8 551.0,627.6 552.0,620.3 553.0,620.9 554.0,619.7 555.0,616.3 556.0,619.8 557.0,617.9 558.0,622.7 559.0,621.3 560.0,620.1 561.0,618.7 562.0,622.9 563.0,624.4 564.0,630.8 565.0,630.9 566.0,631.3 567.0,625.1 568.0,624.4 569.0,626.0 570.0,634.3 571.0,632.0"/><polyline points="472.0,622.6 473.0,622.4 474.0,622.7 475.0,621.3 476.0,622.2 477.0,622.8 478.0,622.0 479.0,621.1 480.0,619.4 481.0,616.4 482.0,618.7 483.0,618.7 484.0,620.1 485.0,620.2 486.0,618.8 487.0,623.0 488.0,623.3 489.0,622.1 490.0,619.3 491.0,619.4 492.0,621.3 493.0,623.8 494.0,621.8 495.0,621.6 496.0,621.4 497.0,621.0 498.0,622.2 499.0,619.2 500.0,621.1 501.0,621.1 502.0,620.2 503.0,625.3 504.0,625.8 505.0,626.4 506.0,628.9 507.0,631.5 508.0,627.2 509.0,627.2 510.0,622.6 511.0,626.5 512.0,628.6 513.0,630.6 514.0,631.8 515.0,634.0 516.0,626.1 517.0,623.3 518.0,625.6 519.0,635.1 520.0,637.6 521.0,637.0 522.0,638.1 523.0,657.1 524.0,652.3 525.0,650.1 526.0,647.8 527.0,654.0 528.0,653.3 529.0,656.9 530.0,660.0 531.0,658.7 532.0,663.2 533.0,669.0 534.0,659.8 535.0,659.7 536.0,659.9 537.0,660.2 538.0,659.3 539.0,656.4 540.0,658.2 541.0,653.5 542.0,656.4 543.0,661.1 544.0,662.8 545.0,662.2 546.0,657.1 547.0,659.7 548.0,656.0 549.0,658.0 550.0,661.7 551.0,653.2 552.0,662.2 553.0,665.7 554.0,668.6 555.0,664.0 556.0,658.3 557.0,653.8 558.0,648.9 559.0,647.5 560.0,644.0 561.0,644.9 562.0,642.3 563.0,645.1 564.0,648.8 565.0,647.6 566.0,646.8 567.0,647.4 568.0,643.2 569.0,642.5 570.0,645.9 571.0,643.5"/><polyline points="472.0,619.0 473.0,617.7 474.0,618.3 475.0,620.2 476.0,619.5 477.0,621.0 478.0,621.8 479.0,622.4 480.0,621.5 481.0,621.4 482.0,621.0 483.0,620.1 484.0,622.3 485.0,622.9 486.0,620.5 487.0,619.3 488.0,620.8 489.0,624.0 490.0,622.5 491.0,621.5 492.0,618.7 493.0,619.6 494.0,618.8 495.0,617.4 496.0,618.9 497.0,617.4 498.0,617.4 499.0,621.4 500.0,622.5 501.0,619.9 502.0,618.8 503.0,618.2 504.0,617.8 505.0,619.6 506.0,621.7 507.0,624.7 508.0,617.0 509.0,617.2 510.0,614.8 511.0,604.3 512.0,608.2 513.0,607.8 514.0,605.3 515.0,605.2 516.0,599.2 517.0,597.6 518.0,590.6 519.0,592.0 520.0,586.9 521.0,577.7 522.0,579.9 523.0,581.6 524.0,578.3 525.0,578.8 526.0,575.7 527.0,581.4 528.0,581.6 529.0,585.0 530.0,583.3 531.0,584.7 532.0,587.0 533.0,602.2 534.0,601.4 535.0,601.2 536.0,596.3 537.0,600.8 538.0,599.9 539.0,598.9 540.0,599.1 541.0,598.1 542.0,598.8 543.0,599.3 544.0,594.0 545.0,598.1 546.0,597.5 547.0,591.0 548.0,599.2 549.0,609.2 550.0,599.2 551.0,597.8 552.0,605.2 553.0,603.2 554.0,611.0 555.0,615.0 556.0,621.2 557.0,622.2 558.0,629.6 559.0,628.5 560.0,623.3 561.0,614.5 562.0,610.5 563.0,605.5 564.0,597.6 565.0,586.9 566.0,588.3 567.0,585.2 568.0,586.4 569.0,583.3 570.0,579.0 571.0,579.0"/><polyline points="472.0,618.2 473.0,620.4 474.0,621.7 475.0,620.6 476.0,619.1 477.0,617.8 478.0,620.7 479.0,619.7 480.0,620.1 481.0,618.2 482.0,618.9 483.0,619.6 484.0,621.1 485.0,620.8 486.0,618.6 487.0,620.0 488.0,619.5 489.0,617.9 490.0,618.4 491.0,620.7 492.0,621.2 493.0,620.9 494.0,621.9 495.0,621.1 496.0,618.8 497.0,619.8 498.0,619.1 499.0,619.7 500.0,620.2 501.0,620.2 502.0,619.3 503.0,619.8 504.0,620.3 505.0,618.9 506.0,621.8 507.0,631.3 508.0,629.1 509.0,626.4 510.0,621.5 511.0,627.4 512.0,639.7 513.0,619.9 514.0,600.4 515.0,620.3 516.0,631.3 517.0,634.2 518.0,638.0 519.0,636.2 520.0,646.8 521.0,653.9 522.0,645.4 523.0,642.5 524.0,642.7 525.0,650.1 526.0,655.3 527.0,648.1 528.0,644.2 529.0,645.2 530.0,644.5 531.0,643.8 532.0,642.7 533.0,647.8 534.0,645.4 535.0,642.9 536.0,639.4 537.0,641.8 538.0,642.7 539.0,645.7 540.0,643.9 541.0,637.2 542.0,635.2 543.0,626.7 544.0,611.4 545.0,618.6 546.0,630.9 547.0,628.8 548.0,627.3 549.0,625.1 550.0,625.1 551.0,617.3 552.0,616.6 553.0,636.3 554.0,648.6 555.0,626.3 556.0,615.0 557.0,619.2 558.0,622.2 559.0,618.2 560.0,627.9 561.0,633.7 562.0,645.0 563.0,643.7 564.0,647.6 565.0,651.7 566.0,657.0 567.0,649.7 568.0,642.5 569.0,637.8 570.0,642.8 571.0,645.9"/><polyline points="472.0,622.6 473.0,623.8 474.0,622.5 475.0,622.5 476.0,622.3 477.0,619.2 478.0,618.8 479.0,621.0 480.0,620.3 481.0,620.5 482.0,621.5 483.0,620.5 484.0,620.6 485.0,622.6 486.0,622.2 487.0,621.8 488.0,622.0 489.0,621.4 490.0,620.4 491.0,618.6 492.0,621.3 493.0,622.5 494.0,620.7 495.0,618.4 496.0,619.7 497.0,620.0 498.0,619.5 499.0,619.8 500.0,621.3 501.0,621.5 502.0,620.4 503.0,621.5 504.0,619.9 505.0,622.1 506.0,624.0 507.0,624.1 508.0,620.1 509.0,613.7 510.0,611.7 511.0,609.9 512.0,598.7 513.0,605.2 514.0,610.6 515.0,603.4 516.0,602.7 517.0,604.3 518.0,600.3 519.0,599.2 520.0,591.2 521.0,582.3 522.0,581.6 523.0,580.4 524.0,583.1 525.0,586.7 526.0,588.4 527.0,594.3 528.0,600.3 529.0,597.8 530.0,600.2 531.0,598.8 532.0,601.2 533.0,599.1 534.0,602.1 535.0,602.0 536.0,605.4 537.0,600.5 538.0,610.1 539.0,617.8 540.0,609.8 541.0,603.6 542.0,594.7 543.0,595.5 544.0,586.8 545.0,584.5 546.0,594.6 547.0,594.4 548.0,597.0 549.0,601.0 550.0,599.2 551.0,602.7 552.0,598.5 553.0,603.1 554.0,598.7 555.0,599.2 556.0,590.2 557.0,590.7 558.0,583.0 559.0,579.2 560.0,584.5 561.0,586.9 562.0,584.1 563.0,586.8 564.0,583.0 565.0,586.2 566.0,589.1 567.0,587.0 568.0,575.9 569.0,579.7 570.0,581.0 571.0,580.9"/><polyline points="472.0,619.6 473.0,620.7 474.0,621.2 475.0,622.9 476.0,621.8 477.0,623.3 478.0,621.7 479.0,621.1 480.0,620.3 481.0,619.1 482.0,620.3 483.0,619.9 484.0,620.4 485.0,622.1 486.0,620.5 487.0,620.7 488.0,622.4 489.0,623.7 490.0,618.6 491.0,619.9 492.0,620.2 493.0,621.9 494.0,623.3 495.0,620.6 496.0,618.8 497.0,623.0 498.0,623.2 499.0,623.2 500.0,622.0 501.0,619.8 502.0,620.1 503.0,618.8 504.0,617.3 505.0,618.6 506.0,619.6 507.0,622.8 508.0,620.9 509.0,613.3 510.0,599.5 511.0,589.8 512.0,579.9 513.0,579.0 514.0,582.7 515.0,585.9 516.0,589.6 517.0,597.7 518.0,590.8 519.0,601.3 520.0,600.2 521.0,602.2 522.0,602.5 523.0,602.2 524.0,599.0 525.0,604.3 526.0,605.8 527.0,608.5 528.0,603.0 529.0,601.5 530.0,592.3 531.0,584.4 532.0,579.1 533.0,582.4 534.0,581.4 535.0,580.0 536.0,582.2 537.0,581.0 538.0,587.2 539.0,586.3 540.0,588.3 541.0,594.3 542.0,594.0 543.0,594.1 544.0,590.5 545.0,595.9 546.0,591.4 547.0,598.8 548.0,600.4 549.0,596.1 550.0,595.6 551.0,594.4 552.0,599.0 553.0,589.5 554.0,594.9 555.0,592.8 556.0,602.8 557.0,611.3 558.0,606.7 559.0,602.0 560.0,596.6 561.0,600.1 562.0,592.0 563.0,593.9 564.0,589.4 565.0,588.2 566.0,585.2 567.0,593.6 568.0,587.8 569.0,594.6 570.0,592.3 571.0,606.0"/><polyline points="472.0,624.4 473.0,620.2 474.0,619.0 475.0,618.5 476.0,620.0 477.0,620.8 478.0,619.5 479.0,620.1 480.0,621.9 481.0,620.0 482.0,620.9 483.0,620.9 484.0,618.3 485.0,620.8 486.0,620.3 487.0,621.4 488.0,619.1 489.0,622.1 490.0,626.0 491.0,621.6 492.0,622.3 493.0,621.6 494.0,620.7 495.0,620.6 496.0,619.5 497.0,618.1 498.0,617.0 499.0,618.0 500.0,617.3 501.0,615.1 502.0,618.0 503.0,618.7 504.0,617.3 505.0,618.1 506.0,620.9 507.0,619.8 508.0,614.5 509.0,605.0 510.0,594.2 511.0,583.8 512.0,570.5 513.0,571.1 514.0,567.9 515.0,569.1 516.0,564.5 517.0,571.5 518.0,581.3 519.0,589.6 520.0,593.1 521.0,583.3 522.0,580.1 523.0,595.1 524.0,614.0 525.0,609.9 526.0,599.4 527.0,609.5 528.0,611.7 529.0,609.3 530.0,602.8 531.0,596.7 532.0,593.4 533.0,592.2 534.0,595.2 535.0,590.9 536.0,592.7 537.0,596.7 538.0,604.7 539.0,608.1 540.0,614.4 541.0,611.9 542.0,606.2 543.0,600.8 544.0,610.2 545.0,595.8 546.0,585.5 547.0,585.3 548.0,583.5 549.0,581.1 550.0,586.2 551.0,580.1 552.0,578.9 553.0,579.2 554.0,585.0 555.0,578.7 556.0,575.6 557.0,581.7 558.0,582.3 559.0,581.8 560.0,575.3 561.0,575.5 562.0,579.1 563.0,577.8 564.0,579.5 565.0,576.5 566.0,576.5 567.0,578.2 568.0,579.1 569.0,580.8 570.0,587.6 571.0,584.4"/><polyline points="472.0,620.6 473.0,621.8 474.0,623.4 475.0,621.9 476.0,621.3 477.0,618.3 478.0,618.3 479.0,618.1 480.0,620.3 481.0,620.6 482.0,621.5 483.0,619.3 484.0,619.6 485.0,619.9 486.0,620.0 487.0,620.3 488.0,621.2 489.0,622.1 490.0,619.8 491.0,618.8 492.0,617.5 493.0,617.4 494.0,620.1 495.0,620.3 496.0,621.0 497.0,621.8 498.0,623.1 499.0,622.9 500.0,622.4 501.0,621.9 502.0,619.5 503.0,618.2 504.0,618.4 505.0,620.9 506.0,622.3 507.0,626.8 508.0,627.2 509.0,623.1 510.0,619.8 511.0,620.6 512.0,613.4 513.0,614.7 514.0,613.9 515.0,609.3 516.0,610.8 517.0,610.5 518.0,605.2 519.0,605.2 520.0,603.2 521.0,600.7 522.0,601.1 523.0,625.7 524.0,652.6 525.0,680.0 526.0,653.6 527.0,623.8 528.0,592.8 529.0,588.6 530.0,590.6 531.0,587.5 532.0,600.1 533.0,621.3 534.0,606.9 535.0,597.9 536.0,600.5 537.0,601.6 538.0,607.7 539.0,614.0 540.0,618.3 541.0,621.3 542.0,623.7 543.0,624.2 544.0,620.9 545.0,626.9 546.0,625.0 547.0,624.4 548.0,626.9 549.0,629.6 550.0,627.6 551.0,629.7 552.0,634.8 553.0,631.7 554.0,635.2 555.0,639.5 556.0,634.4 557.0,635.6 558.0,640.8 559.0,631.6 560.0,634.3 561.0,631.4 562.0,627.1 563.0,623.2 564.0,615.3 565.0,616.4 566.0,610.2 567.0,605.0 568.0,607.3 569.0,608.0 570.0,602.4 571.0,599.8"/><polyline points="472.0,623.1 473.0,622.9 474.0,621.9 475.0,619.2 476.0,619.5 477.0,622.4 478.0,623.3 479.0,621.2 480.0,621.1 481.0,618.9 482.0,619.2 483.0,619.9 484.0,620.8 485.0,621.1 486.0,622.5 487.0,619.7 488.0,619.6 489.0,618.5 490.0,617.6 491.0,618.7 492.0,620.1 493.0,619.9 494.0,621.4 495.0,620.7 496.0,621.4 497.0,619.6 498.0,619.7 499.0,619.4 500.0,622.4 501.0,625.3 502.0,621.7 503.0,620.0 504.0,618.4 505.0,619.4 506.0,620.5 507.0,626.5 508.0,624.3 509.0,623.1 510.0,620.8 511.0,623.0 512.0,623.3 513.0,624.2 514.0,621.8 515.0,621.2 516.0,619.0 517.0,615.4 518.0,613.8 519.0,609.8 520.0,605.6 521.0,606.1 522.0,606.6 523.0,607.4 524.0,608.0 525.0,608.5 526.0,609.9 527.0,609.6 528.0,610.1 529.0,609.1 530.0,609.7 531.0,615.4 532.0,615.7 533.0,610.8 534.0,603.3 535.0,605.9 536.0,607.7 537.0,606.3 538.0,604.6 539.0,606.4 540.0,609.5 541.0,610.5 542.0,609.4 543.0,612.8 544.0,611.8 545.0,611.9 546.0,610.0 547.0,606.8 548.0,608.0 549.0,607.2 550.0,607.7 551.0,603.6 552.0,603.4 553.0,610.0 554.0,605.6 555.0,610.0 556.0,610.7 557.0,611.1 558.0,614.5 559.0,612.5 560.0,608.7 561.0,609.3 562.0,604.8 563.0,606.5 564.0,606.2 565.0,605.7 566.0,605.8 567.0,607.1 568.0,606.3 569.0,611.3 570.0,611.3 571.0,614.6"/><polyline points="472.0,621.1 473.0,622.4 474.0,622.1 475.0,619.9 476.0,619.1 477.0,621.3 478.0,618.6 479.0,616.6 480.0,623.6 481.0,624.0 482.0,620.9 483.0,621.1 484.0,621.3 485.0,621.6 486.0,620.9 487.0,621.8 488.0,622.7 489.0,619.9 490.0,620.7 491.0,621.1 492.0,620.1 493.0,619.2 494.0,619.9 495.0,622.3 496.0,620.7 497.0,620.8 498.0,620.7 499.0,620.4 500.0,621.5 501.0,620.4 502.0,620.9 503.0,622.6 504.0,621.8 505.0,621.9 506.0,622.8 507.0,623.9 508.0,615.5 509.0,609.3 510.0,605.9 511.0,592.2 512.0,587.9 513.0,592.7 514.0,592.0 515.0,595.4 516.0,596.7 517.0,602.2 518.0,608.3 519.0,611.8 520.0,614.6 521.0,617.3 522.0,613.4 523.0,615.4 524.0,610.2 525.0,604.9 526.0,604.2 527.0,603.6 528.0,598.7 529.0,601.7 530.0,609.4 531.0,616.4 532.0,623.6 533.0,629.9 534.0,629.7 535.0,632.0 536.0,632.8 537.0,630.6 538.0,633.3 539.0,633.1 540.0,628.2 541.0,631.0 542.0,625.4 543.0,628.1 544.0,630.2 545.0,624.7 546.0,629.2 547.0,623.4 548.0,619.5 549.0,614.3 550.0,613.6 551.0,605.8 552.0,605.0 553.0,605.8 554.0,601.3 555.0,599.3 556.0,597.9 557.0,600.8 558.0,604.4 559.0,606.3 560.0,612.3 561.0,614.0 562.0,613.9 563.0,620.4 564.0,618.7 565.0,610.1 566.0,607.6 567.0,600.3 568.0,602.6 569.0,598.7 570.0,598.8 571.0,603.0"/><polyline points="472.0,618.6 473.0,618.9 474.0,618.8 475.0,620.5 476.0,618.1 477.0,620.9 478.0,620.9 479.0,619.7 480.0,620.7 481.0,624.9 482.0,621.4 483.0,619.3 484.0,618.4 485.0,621.1 486.0,621.2 487.0,619.7 488.0,619.3 489.0,619.4 490.0,622.0 491.0,621.6 492.0,620.9 493.0,622.3 494.0,617.3 495.0,617.2 496.0,620.1 497.0,621.6 498.0,620.9 499.0,619.1 500.0,618.4 501.0,618.2 502.0,617.5 503.0,620.5 504.0,621.8 505.0,620.9 506.0,624.2 507.0,626.6 508.0,624.1 509.0,615.4 510.0,614.5 511.0,604.7 512.0,601.1 513.0,596.7 514.0,591.6 515.0,594.3 516.0,599.4 517.0,597.7 518.0,594.4 519.0,586.0 520.0,586.3 521.0,581.6 522.0,582.7 523.0,576.4 524.0,584.7 525.0,582.9 526.0,582.6 527.0,590.8 528.0,605.7 529.0,615.3 530.0,618.0 531.0,615.2 532.0,611.1 533.0,615.6 534.0,614.8 535.0,620.6 536.0,613.5 537.0,613.1 538.0,608.7 539.0,598.1 540.0,581.2 541.0,572.8 542.0,571.3 543.0,577.7 544.0,581.6 545.0,575.0 546.0,574.0 547.0,585.5 548.0,578.7 549.0,574.5 550.0,580.6 551.0,578.7 552.0,580.1 553.0,576.4 554.0,583.4 555.0,581.4 556.0,580.1 557.0,588.4 558.0,587.5 559.0,585.9 560.0,590.7 561.0,598.2 562.0,596.5 563.0,599.9 564.0,593.3 565.0,598.2 566.0,583.1 567.0,562.2 568.0,573.8 569.0,581.9 570.0,578.1 571.0,581.4"/><polyline points="472.0,620.0 473.0,620.6 474.0,620.0 475.0,620.5 476.0,621.1 477.0,622.5 478.0,622.7 479.0,622.2 480.0,619.3 481.0,618.4 482.0,620.8 483.0,620.8 484.0,621.7 485.0,621.9 486.0,622.6 487.0,620.7 488.0,618.7 489.0,619.3 490.0,618.5 491.0,618.8 492.0,618.5 493.0,619.2 494.0,620.3 495.0,621.2 496.0,627.8 497.0,629.4 498.0,623.9 499.0,620.7 500.0,621.0 501.0,620.3 502.0,621.0 503.0,621.5 504.0,623.2 505.0,622.9 506.0,622.1 507.0,626.7 508.0,625.3 509.0,624.2 510.0,623.7 511.0,628.3 512.0,628.4 513.0,632.5 514.0,635.5 515.0,635.6 516.0,640.1 517.0,646.5 518.0,645.7 519.0,646.0 520.0,648.2 521.0,645.2 522.0,644.9 523.0,642.5 524.0,641.8 525.0,643.3 526.0,645.0 527.0,642.5 528.0,641.2 529.0,639.5 530.0,638.6 531.0,635.7 532.0,637.2 533.0,643.5 534.0,641.9 535.0,643.2 536.0,641.7 537.0,645.1 538.0,641.9 539.0,641.6 540.0,637.8 541.0,636.1 542.0,638.8 543.0,647.1 544.0,637.0 545.0,629.7 546.0,632.0 547.0,627.6 548.0,627.7 549.0,629.8 550.0,631.5 551.0,628.4 552.0,627.2 553.0,632.7 554.0,637.8 555.0,638.8 556.0,637.6 557.0,639.2 558.0,639.8 559.0,642.3 560.0,645.2 561.0,642.8 562.0,645.7 563.0,644.8 564.0,644.5 565.0,642.4 566.0,642.3 567.0,639.2 568.0,639.7 569.0,636.7 570.0,636.7 571.0,639.1"/><polyline points="472.0,622.3 473.0,620.3 474.0,619.9 475.0,619.7 476.0,618.3 477.0,618.5 478.0,619.6 479.0,622.2 480.0,622.1 481.0,620.6 482.0,617.5 483.0,617.5 484.0,620.4 485.0,622.6 486.0,621.9 487.0,621.9 488.0,622.0 489.0,620.4 490.0,620.3 491.0,620.0 492.0,620.9 493.0,620.2 494.0,621.5 495.0,622.8 496.0,622.6 497.0,623.0 498.0,622.3 499.0,621.4 500.0,619.6 501.0,618.5 502.0,622.2 503.0,621.4 504.0,621.4 505.0,621.1 506.0,622.4 507.0,626.6 508.0,623.2 509.0,620.1 510.0,617.8 511.0,615.0 512.0,611.5 513.0,612.8 514.0,610.5 515.0,613.4 516.0,615.4 517.0,625.2 518.0,646.4 519.0,631.3 520.0,619.7 521.0,621.3 522.0,615.9 523.0,614.0 524.0,616.8 525.0,618.1 526.0,624.0 527.0,627.5 528.0,631.0 529.0,638.9 530.0,640.0 531.0,641.0 532.0,641.3 533.0,640.0 534.0,637.0 535.0,635.9 536.0,640.1 537.0,642.4 538.0,640.2 539.0,642.2 540.0,642.5 541.0,646.3 542.0,646.3 543.0,648.0 544.0,651.2 545.0,649.0 546.0,648.3 547.0,649.9 548.0,646.5 549.0,647.2 550.0,644.7 551.0,644.9 552.0,643.9 553.0,642.6 554.0,637.6 555.0,639.8 556.0,637.1 557.0,635.4 558.0,635.6 559.0,631.5 560.0,630.5 561.0,629.5 562.0,622.9 563.0,631.5 564.0,632.7 565.0,627.7 566.0,620.5 567.0,624.3 568.0,625.3 569.0,625.0 570.0,632.4 571.0,641.0"/><polyline points="472.0,621.8 473.0,624.4 474.0,625.3 475.0,622.8 476.0,623.0 477.0,621.4 478.0,620.2 479.0,620.3 480.0,620.5 481.0,623.0 482.0,621.4 483.0,620.8 484.0,620.4 485.0,620.7 486.0,623.0 487.0,623.4 488.0,622.7 489.0,623.7 490.0,619.6 491.0,616.7 492.0,616.9 493.0,617.0 494.0,616.6 495.0,618.8 496.0,620.6 497.0,620.7 498.0,622.8 499.0,620.6 500.0,621.3 501.0,621.0 502.0,621.5 503.0,621.8 504.0,620.9 505.0,621.4 506.0,621.8 507.0,630.6 508.0,626.5 509.0,629.1 510.0,633.7 511.0,630.4 512.0,624.7 513.0,621.5 514.0,624.3 515.0,636.8 516.0,636.9 517.0,648.2 518.0,649.7 519.0,647.6 520.0,653.8 521.0,652.0 522.0,654.3 523.0,661.0 524.0,653.7 525.0,665.6 526.0,671.2 527.0,671.1 528.0,669.4 529.0,672.9 530.0,666.9 531.0,669.1 532.0,668.8 533.0,667.5 534.0,660.9 535.0,663.9 536.0,666.8 537.0,670.4 538.0,669.5 539.0,660.4 540.0,663.3 541.0,652.7 542.0,661.3 543.0,651.9 544.0,648.0 545.0,633.9 546.0,627.4 547.0,631.2 548.0,631.2 549.0,634.6 550.0,640.6 551.0,644.6 552.0,639.2 553.0,653.4 554.0,657.0 555.0,669.5 556.0,678.8 557.0,671.4 558.0,667.3 559.0,669.0 560.0,663.1 561.0,666.7 562.0,657.7 563.0,657.0 564.0,659.0 565.0,663.3 566.0,666.7 567.0,665.2 568.0,667.8 569.0,659.3 570.0,653.4 571.0,644.0"/><polyline points="472.0,619.0 473.0,618.6 474.0,617.4 475.0,618.9 476.0,621.4 477.0,622.4 478.0,621.7 479.0,621.2 480.0,619.9 481.0,620.3 482.0,620.0 483.0,621.1 484.0,622.6 485.0,621.7 486.0,620.0 487.0,616.6 488.0,616.9 489.0,618.5 490.0,620.3 491.0,620.8 492.0,621.3 493.0,620.3 494.0,618.6 495.0,620.2 496.0,620.9 497.0,620.4 498.0,621.0 499.0,622.2 500.0,621.6 501.0,621.1 502.0,621.4 503.0,623.1 504.0,622.6 505.0,622.9 506.0,623.1 507.0,625.6 508.0,621.8 509.0,618.1 510.0,611.2 511.0,610.1 512.0,609.1 513.0,621.2 514.0,635.4 515.0,618.8 516.0,610.9 517.0,615.1 518.0,611.4 519.0,609.9 520.0,615.1 521.0,613.2 522.0,617.0 523.0,616.1 524.0,615.0 525.0,611.6 526.0,613.5 527.0,609.9 528.0,608.3 529.0,611.8 530.0,614.7 531.0,614.3 532.0,608.0 533.0,611.0 534.0,613.1 535.0,615.3 536.0,613.4 537.0,616.4 538.0,614.6 539.0,623.7 540.0,638.6 541.0,616.4 542.0,600.5 543.0,600.5 544.0,601.5 545.0,602.3 546.0,606.6 547.0,605.7 548.0,609.4 549.0,610.4 550.0,608.2 551.0,611.4 552.0,609.6 553.0,610.2 554.0,615.6 555.0,620.0 556.0,624.5 557.0,625.5 558.0,628.8 559.0,625.4 560.0,625.6 561.0,623.0 562.0,622.0 563.0,629.1 564.0,640.7 565.0,627.4 566.0,619.6 567.0,616.9 568.0,616.2 569.0,617.2 570.0,616.5 571.0,612.6"/><polyline points="472.0,619.0 473.0,618.8 474.0,618.7 475.0,619.8 476.0,621.4 477.0,623.0 478.0,621.7 479.0,620.3 480.0,619.6 481.0,618.9 482.0,620.4 483.0,619.0 484.0,618.9 485.0,618.9 486.0,617.5 487.0,619.5 488.0,620.9 489.0,622.5 490.0,620.0 491.0,617.7 492.0,617.3 493.0,621.2 494.0,622.2 495.0,622.7 496.0,620.2 497.0,620.1 498.0,621.5 499.0,621.3 500.0,619.9 501.0,621.4 502.0,623.1 503.0,627.1 504.0,628.9 505.0,621.9 506.0,618.5 507.0,623.5 508.0,622.9 509.0,612.5 510.0,609.6 511.0,598.9 512.0,592.1 513.0,599.7 514.0,598.9 515.0,604.9 516.0,609.1 517.0,616.7 518.0,616.0 519.0,620.4 520.0,627.6 521.0,619.8 522.0,616.2 523.0,618.8 524.0,611.8 525.0,611.3 526.0,604.3 527.0,604.9 528.0,609.5 529.0,617.2 530.0,609.3 531.0,605.8 532.0,608.5 533.0,615.9 534.0,627.5 535.0,622.9 536.0,622.5 537.0,615.2 538.0,622.6 539.0,623.2 540.0,626.9 541.0,626.3 542.0,626.2 543.0,630.5 544.0,630.9 545.0,627.4 546.0,636.9 547.0,629.4 548.0,641.9 549.0,657.3 550.0,631.7 551.0,609.7 552.0,612.9 553.0,616.2 554.0,612.9 555.0,610.8 556.0,613.0 557.0,614.9 558.0,609.2 559.0,606.6 560.0,607.4 561.0,606.5 562.0,603.3 563.0,594.9 564.0,594.4 565.0,593.5 566.0,595.1 567.0,593.7 568.0,595.8 569.0,593.9 570.0,594.7 571.0,596.3"/><polyline points="472.0,618.0 473.0,618.0 474.0,617.6 475.0,618.1 476.0,619.2 477.0,617.6 478.0,618.0 479.0,618.6 480.0,619.3 481.0,616.1 482.0,616.9 483.0,616.0 484.0,618.0 485.0,620.5 486.0,619.6 487.0,616.7 488.0,613.6 489.0,616.6 490.0,618.7 491.0,618.7 492.0,621.1 493.0,619.2 494.0,622.1 495.0,618.8 496.0,618.9 497.0,620.6 498.0,623.0 499.0,621.9 500.0,620.0 501.0,616.6 502.0,618.6 503.0,619.8 504.0,619.0 505.0,621.5 506.0,621.3 507.0,629.6 508.0,630.4 509.0,625.7 510.0,622.7 511.0,627.0 512.0,621.5 513.0,623.2 514.0,629.1 515.0,641.1 516.0,647.3 517.0,646.1 518.0,646.3 519.0,642.3 520.0,623.1 521.0,622.6 522.0,623.7 523.0,630.1 524.0,650.0 525.0,656.8 526.0,652.1 527.0,647.0 528.0,651.2 529.0,646.0 530.0,658.2 531.0,665.5 532.0,663.8 533.0,681.6 534.0,690.3 535.0,689.2 536.0,672.4 537.0,670.9 538.0,669.6 539.0,673.9 540.0,679.8 541.0,675.8 542.0,675.7 543.0,674.4 544.0,676.8 545.0,677.3 546.0,683.1 547.0,677.2 548.0,675.6 549.0,669.8 550.0,671.1 551.0,673.1 552.0,665.4 553.0,669.1 554.0,676.7 555.0,662.9 556.0,667.5 557.0,673.5 558.0,673.0 559.0,674.1 560.0,667.9 561.0,666.2 562.0,667.3 563.0,670.6 564.0,686.9 565.0,695.7 566.0,666.7 567.0,650.3 568.0,652.9 569.0,651.6 570.0,641.2 571.0,646.2"/><polyline points="472.0,622.0 473.0,621.7 474.0,622.1 475.0,620.4 476.0,619.6 477.0,616.8 478.0,618.4 479.0,617.9 480.0,618.5 481.0,618.6 482.0,616.7 483.0,618.5 484.0,619.4 485.0,619.1 486.0,620.8 487.0,620.0 488.0,619.6 489.0,621.1 490.0,622.1 491.0,622.1 492.0,624.0 493.0,623.5 494.0,623.0 495.0,619.4 496.0,619.4 497.0,620.9 498.0,621.7 499.0,617.6 500.0,614.5 501.0,618.4 502.0,620.2 503.0,619.0 504.0,617.1 505.0,616.5 506.0,619.7 507.0,625.9 508.0,628.3 509.0,630.5 510.0,629.1 511.0,631.3 512.0,634.7 513.0,635.4 514.0,634.6 515.0,639.4 516.0,641.0 517.0,641.0 518.0,642.8 519.0,638.3 520.0,637.0 521.0,636.7 522.0,631.3 523.0,629.4 524.0,629.6 525.0,636.3 526.0,635.4 527.0,647.1 528.0,651.3 529.0,640.5 530.0,636.4 531.0,639.5 532.0,645.9 533.0,650.4 534.0,653.0 535.0,652.5 536.0,656.3 537.0,655.2 538.0,654.9 539.0,648.9 540.0,650.8 541.0,645.1 542.0,642.6 543.0,641.6 544.0,639.7 545.0,640.3 546.0,639.0 547.0,640.0 548.0,637.0 549.0,638.3 550.0,642.2 551.0,644.7 552.0,647.3 553.0,654.0 554.0,654.1 555.0,649.0 556.0,650.1 557.0,648.0 558.0,646.2 559.0,646.2 560.0,640.0 561.0,643.0 562.0,645.8 563.0,652.2 564.0,652.8 565.0,652.6 566.0,650.1 567.0,650.2 568.0,645.1 569.0,643.4 570.0,640.1 571.0,640.0"/><polyline points="472.0,619.3 473.0,621.5 474.0,619.3 475.0,621.5 476.0,621.4 477.0,622.2 478.0,621.1 479.0,621.1 480.0,621.2 481.0,621.6 482.0,621.9 483.0,622.5 484.0,622.1 485.0,622.0 486.0,620.9 487.0,620.8 488.0,621.0 489.0,621.7 490.0,620.4 491.0,621.2 492.0,621.2 493.0,621.0 494.0,620.6 495.0,620.7 496.0,620.7 497.0,619.0 498.0,618.6 499.0,619.5 500.0,620.4 501.0,620.0 502.0,619.3 503.0,620.4 504.0,620.1 505.0,621.3 506.0,622.8 507.0,627.9 508.0,623.0 509.0,620.3 510.0,615.9 511.0,612.6 512.0,605.3 513.0,602.8 514.0,596.8 515.0,594.5 516.0,591.1 517.0,589.8 518.0,591.1 519.0,589.1 520.0,592.8 521.0,600.5 522.0,602.5 523.0,601.8 524.0,607.4 525.0,609.1 526.0,610.5 527.0,606.0 528.0,605.1 529.0,605.0 530.0,600.3 531.0,600.6 532.0,606.5 533.0,606.3 534.0,605.4 535.0,608.2 536.0,607.4 537.0,608.3 538.0,610.9 539.0,612.8 540.0,611.6 541.0,616.3 542.0,621.3 543.0,633.8 544.0,659.5 545.0,642.4 546.0,632.5 547.0,626.6 548.0,617.0 549.0,620.6 550.0,622.7 551.0,615.2 552.0,615.0 553.0,611.1 554.0,610.6 555.0,606.5 556.0,598.2 557.0,585.5 558.0,596.4 559.0,609.8 560.0,607.2 561.0,612.3 562.0,612.0 563.0,614.5 564.0,616.2 565.0,612.8 566.0,610.2 567.0,608.5 568.0,609.5 569.0,608.0 570.0,602.2 571.0,602.5"/><polyline points="472.0,621.7 473.0,620.7 474.0,620.7 475.0,621.6 476.0,620.1 477.0,619.2 478.0,618.4 479.0,618.3 480.0,618.5 481.0,618.4 482.0,619.9 483.0,620.5 484.0,618.6 485.0,616.7 486.0,617.8 487.0,619.3 488.0,620.5 489.0,620.3 490.0,619.7 491.0,620.1 492.0,620.1 493.0,619.1 494.0,617.1 495.0,618.9 496.0,620.2 497.0,620.6 498.0,621.2 499.0,621.9 500.0,622.3 501.0,621.2 502.0,618.1 503.0,617.8 504.0,619.3 505.0,624.6 506.0,626.9 507.0,625.2 508.0,617.1 509.0,618.3 510.0,622.4 511.0,622.0 512.0,619.3 513.0,620.3 514.0,622.9 515.0,629.5 516.0,625.3 517.0,619.2 518.0,621.7 519.0,619.0 520.0,617.6 521.0,612.7 522.0,610.0 523.0,611.6 524.0,607.8 525.0,611.4 526.0,611.9 527.0,611.5 528.0,610.9 529.0,612.4 530.0,611.3 531.0,613.2 532.0,612.3 533.0,613.9 534.0,616.9 535.0,615.0 536.0,610.6 537.0,612.9 538.0,613.8 539.0,618.3 540.0,618.8 541.0,638.4 542.0,660.4 543.0,646.2 544.0,632.9 545.0,637.7 546.0,631.7 547.0,623.9 548.0,630.5 549.0,636.6 550.0,637.5 551.0,638.9 552.0,640.1 553.0,638.4 554.0,641.2 555.0,642.0 556.0,640.4 557.0,643.1 558.0,641.5 559.0,648.7 560.0,651.2 561.0,649.2 562.0,646.0 563.0,638.6 564.0,634.0 565.0,632.5 566.0,628.6 567.0,629.4 568.0,629.5 569.0,625.7 570.0,626.3 571.0,623.5"/><polyline points="472.0,619.9 473.0,619.2 474.0,620.7 475.0,621.9 476.0,621.8 477.0,622.7 478.0,622.5 479.0,621.2 480.0,620.6 481.0,619.4 482.0,620.1 483.0,620.5 484.0,619.1 485.0,617.8 486.0,618.7 487.0,619.1 488.0,620.0 489.0,621.0 490.0,619.5 491.0,617.5 492.0,617.3 493.0,618.5 494.0,620.5 495.0,620.6 496.0,620.2 497.0,620.0 498.0,621.7 499.0,621.9 500.0,622.0 501.0,621.3 502.0,621.9 503.0,621.0 504.0,620.5 505.0,621.0 506.0,622.6 507.0,627.0 508.0,620.1 509.0,610.5 510.0,615.0 511.0,622.5 512.0,618.7 513.0,623.2 514.0,625.0 515.0,628.1 516.0,629.9 517.0,630.0 518.0,632.3 519.0,628.5 520.0,630.2 521.0,631.7 522.0,637.4 523.0,653.8 524.0,643.1 525.0,635.9 526.0,638.4 527.0,643.1 528.0,640.3 529.0,628.4 530.0,614.6 531.0,623.2 532.0,628.3 533.0,622.9 534.0,623.8 535.0,622.2 536.0,622.5 537.0,620.7 538.0,618.5 539.0,618.1 540.0,618.7 541.0,617.6 542.0,619.0 543.0,637.2 544.0,658.4 545.0,680.0 546.0,659.8 547.0,640.0 548.0,627.3 549.0,623.1 550.0,622.5 551.0,623.3 552.0,620.1 553.0,615.9 554.0,618.2 555.0,618.7 556.0,619.7 557.0,619.6 558.0,622.4 559.0,624.2 560.0,622.6 561.0,621.7 562.0,622.5 563.0,620.0 564.0,621.7 565.0,622.7 566.0,625.4 567.0,623.2 568.0,624.3 569.0,622.6 570.0,624.6 571.0,623.0"/><polyline points="472.0,618.9 473.0,618.1 474.0,622.5 475.0,622.3 476.0,621.6 477.0,618.6 478.0,620.6 479.0,623.3 480.0,623.2 481.0,620.2 482.0,620.0 483.0,620.7 484.0,621.2 485.0,619.3 486.0,618.3 487.0,620.2 488.0,621.4 489.0,621.6 490.0,622.6 491.0,622.0 492.0,621.8 493.0,619.1 494.0,616.5 495.0,617.4 496.0,620.3 497.0,620.6 498.0,622.7 499.0,626.0 500.0,624.7 501.0,621.1 502.0,620.1 503.0,619.5 504.0,619.0 505.0,618.3 506.0,620.7 507.0,627.8 508.0,624.1 509.0,620.1 510.0,608.0 511.0,596.3 512.0,585.0 513.0,600.0 514.0,613.7 515.0,634.5 516.0,634.5 517.0,634.6 518.0,639.0 519.0,639.6 520.0,639.7 521.0,640.1 522.0,635.4 523.0,637.2 524.0,639.0 525.0,643.3 526.0,643.8 527.0,643.9 528.0,646.4 529.0,647.3 530.0,652.8 531.0,656.3 532.0,649.8 533.0,653.1 534.0,651.3 535.0,645.5 536.0,644.9 537.0,646.3 538.0,645.2 539.0,649.4 540.0,644.1 541.0,637.6 542.0,637.3 543.0,637.6 544.0,639.7 545.0,639.5 546.0,642.2 547.0,644.5 548.0,645.2 549.0,642.4 550.0,641.4 551.0,639.9 552.0,636.2 553.0,636.0 554.0,629.7 555.0,628.2 556.0,628.9 557.0,625.2 558.0,625.0 559.0,621.9 560.0,627.5 561.0,628.8 562.0,629.6 563.0,627.5 564.0,628.2 565.0,627.4 566.0,627.8 567.0,627.5 568.0,626.9 569.0,623.3 570.0,625.7 571.0,622.9"/><polyline points="472.0,619.6 473.0,619.5 474.0,619.7 475.0,618.9 476.0,616.8 477.0,619.1 478.0,618.9 479.0,619.8 480.0,623.1 481.0,621.4 482.0,620.2 483.0,619.1 484.0,620.6 485.0,618.7 486.0,618.5 487.0,621.0 488.0,622.5 489.0,622.8 490.0,621.9 491.0,619.4 492.0,620.2 493.0,622.0 494.0,623.0 495.0,623.9 496.0,623.0 497.0,620.0 498.0,619.6 499.0,618.6 500.0,618.6 501.0,619.4 502.0,620.4 503.0,620.2 504.0,620.9 505.0,619.3 506.0,623.2 507.0,627.0 508.0,626.4 509.0,621.9 510.0,623.0 511.0,619.9 512.0,621.4 513.0,622.7 514.0,623.3 515.0,623.3 516.0,626.9 517.0,627.7 518.0,628.6 519.0,626.9 520.0,619.7 521.0,623.6 522.0,619.3 523.0,618.2 524.0,622.5 525.0,627.3 526.0,622.3 527.0,615.4 528.0,617.3 529.0,615.2 530.0,613.9 531.0,609.6 532.0,605.4 533.0,599.7 534.0,596.3 535.0,595.8 536.0,595.5 537.0,599.1 538.0,604.7 539.0,607.6 540.0,613.2 541.0,620.0 542.0,623.5 543.0,624.7 544.0,628.5 545.0,639.8 546.0,656.7 547.0,640.1 548.0,633.6 549.0,629.1 550.0,627.9 551.0,622.4 552.0,620.6 553.0,616.9 554.0,616.0 555.0,612.1 556.0,607.1 557.0,604.5 558.0,602.2 559.0,604.1 560.0,606.0 561.0,613.3 562.0,608.9 563.0,605.3 564.0,604.2 565.0,602.7 566.0,600.7 567.0,600.4 568.0,602.2 569.0,596.5 570.0,600.5 571.0,606.2"/><polyline points="472.0,621.9 473.0,620.8 474.0,620.7 475.0,621.4 476.0,621.2 477.0,619.8 478.0,618.5 479.0,620.0 480.0,621.3 481.0,620.9 482.0,620.2 483.0,618.6 484.0,619.4 485.0,620.0 486.0,621.0 487.0,621.5 488.0,622.5 489.0,620.8 490.0,621.5 491.0,620.9 492.0,620.0 493.0,619.7 494.0,620.1 495.0,620.6 496.0,620.6 497.0,618.4 498.0,618.7 499.0,620.5 500.0,619.4 501.0,618.8 502.0,618.0 503.0,618.1 504.0,618.8 505.0,620.4 506.0,621.3 507.0,625.7 508.0,623.8 509.0,624.7 510.0,628.5 511.0,626.5 512.0,627.2 513.0,626.1 514.0,625.1 515.0,626.4 516.0,624.2 517.0,625.7 518.0,627.1 519.0,623.4 520.0,620.8 521.0,618.8 522.0,617.7 523.0,623.0 524.0,620.2 525.0,620.3 526.0,621.3 527.0,622.2 528.0,621.1 529.0,622.2 530.0,622.4 531.0,628.4 532.0,631.0 533.0,632.2 534.0,655.1 535.0,673.7 536.0,690.0 537.0,675.8 538.0,662.6 539.0,647.8 540.0,643.5 541.0,640.6 542.0,636.2 543.0,639.7 544.0,637.9 545.0,637.4 546.0,636.7 547.0,635.0 548.0,636.6 549.0,636.5 550.0,630.6 551.0,626.1 552.0,628.6 553.0,623.6 554.0,620.6 555.0,618.3 556.0,616.5 557.0,615.4 558.0,611.8 559.0,615.4 560.0,614.8 561.0,615.7 562.0,616.6 563.0,614.5 564.0,615.8 565.0,618.1 566.0,618.0 567.0,618.4 568.0,617.0 569.0,619.9 570.0,621.7 571.0,615.2"/></g>
<polyline points="472.0,620.6 473.0,620.1 474.0,621.1 475.0,619.5 476.0,619.3 477.0,620.9 478.0,620.0 479.0,619.8 480.0,620.6 481.0,619.4 482.0,619.9 483.0,619.2 484.0,620.7 485.0,620.8 486.0,619.6 487.0,619.8 488.0,620.7 489.0,620.9 490.0,620.9 491.0,619.1 492.0,620.8 493.0,620.2 494.0,619.7 495.0,620.7 496.0,619.8 497.0,620.1 498.0,619.8 499.0,620.2 500.0,618.8 501.0,621.3 502.0,620.9 503.0,620.0 504.0,620.5 505.0,620.0 506.0,621.7 507.0,626.2 508.0,624.9 509.0,622.1 510.0,617.8 511.0,617.2 512.0,615.2 513.0,614.2 514.0,615.8 515.0,617.0 516.0,617.2 517.0,617.0 518.0,618.3 519.0,615.4 520.0,617.3 521.0,616.3 522.0,618.2 523.0,616.9 524.0,618.4 525.0,619.5 526.0,621.9 527.0,623.3 528.0,623.4 529.0,623.1 530.0,625.6 531.0,625.9 532.0,626.1 533.0,626.0 534.0,627.4 535.0,627.0 536.0,627.7 537.0,626.8 538.0,627.0 539.0,627.5 540.0,625.8 541.0,626.8 542.0,627.6 543.0,628.2 544.0,625.9 545.0,626.9 546.0,626.9 547.0,625.2 548.0,626.1 549.0,627.2 550.0,626.7 551.0,625.0 552.0,623.4 553.0,625.4 554.0,624.8 555.0,623.7 556.0,624.2 557.0,624.3 558.0,623.7 559.0,624.0 560.0,623.7 561.0,624.5 562.0,623.6 563.0,623.6 564.0,624.1 565.0,624.1 566.0,621.6 567.0,622.6 568.0,621.3 569.0,620.6 570.0,621.4 571.0,619.5" fill="none" stroke="#151515" stroke-width="3.2" stroke-linejoin="round" stroke-linecap="round"/>
<g fill="none" stroke="#9d9d9d" stroke-width="1.4" stroke-linejoin="round"><polyline points="583.4,621.6 584.4,621.2 585.4,620.5 586.4,621.6 587.4,621.1 588.4,622.9 589.4,622.6 590.4,620.1 591.4,619.4 592.4,620.8 593.4,621.6 594.4,619.5 595.4,619.1 596.4,616.9 597.4,619.4 598.4,621.5 599.4,622.1 600.4,621.1 601.4,621.2 602.4,620.9 603.4,620.5 604.4,619.3 605.4,620.2 606.4,622.0 607.4,623.2 608.4,619.9 609.4,619.9 610.4,621.0 611.4,620.9 612.4,623.7 613.4,623.3 614.4,621.5 615.4,621.7 616.4,622.8 617.4,623.8 618.4,626.7 619.4,628.8 620.4,629.7 621.4,632.4 622.4,633.9 623.4,638.1 624.4,635.1 625.4,630.6 626.4,627.3 627.4,619.5 628.4,611.6 629.4,608.6 630.4,604.8 631.4,603.4 632.4,606.7 633.4,605.9 634.4,603.8 635.4,604.5 636.4,603.6 637.4,602.7 638.4,605.3 639.4,607.6 640.4,599.2 641.4,591.7 642.4,582.6 643.4,581.1 644.4,582.7 645.4,582.6 646.4,585.1 647.4,582.6 648.4,583.6 649.4,582.5 650.4,581.3 651.4,578.8 652.4,583.8 653.4,580.1 654.4,581.4 655.4,581.6 656.4,582.3 657.4,582.4 658.4,582.0 659.4,577.8 660.4,586.1 661.4,589.0 662.4,591.7 663.4,595.9 664.4,597.5 665.4,600.4 666.4,595.6 667.4,597.2 668.4,591.8 669.4,590.7 670.4,588.6 671.4,590.8 672.4,594.2 673.4,599.1 674.4,603.3 675.4,599.8 676.4,596.7 677.4,598.5 678.4,590.9 679.4,590.1 680.4,595.3 681.4,603.3 682.4,592.6"/><polyline points="583.4,619.9 584.4,620.9 585.4,621.6 586.4,621.5 587.4,620.4 588.4,621.0 589.4,621.7 590.4,622.8 591.4,623.1 592.4,621.4 593.4,620.7 594.4,620.5 595.4,621.0 596.4,621.2 597.4,621.4 598.4,619.4 599.4,618.6 600.4,619.3 601.4,618.9 602.4,620.4 603.4,620.9 604.4,619.3 605.4,621.2 606.4,623.8 607.4,623.8 608.4,623.2 609.4,623.0 610.4,622.9 611.4,622.8 612.4,621.4 613.4,620.9 614.4,620.6 615.4,621.4 616.4,621.9 617.4,623.3 618.4,626.6 619.4,630.8 620.4,632.5 621.4,633.4 622.4,636.0 623.4,643.5 624.4,645.5 625.4,643.6 626.4,645.0 627.4,643.9 628.4,641.0 629.4,641.2 630.4,637.4 631.4,637.1 632.4,636.6 633.4,636.7 634.4,637.4 635.4,641.2 636.4,640.3 637.4,639.6 638.4,640.6 639.4,640.6 640.4,632.9 641.4,630.8 642.4,629.4 643.4,626.0 644.4,619.1 645.4,616.4 646.4,612.8 647.4,625.8 648.4,641.0 649.4,623.1 650.4,615.3 651.4,613.9 652.4,614.5 653.4,618.7 654.4,619.3 655.4,618.9 656.4,620.0 657.4,617.2 658.4,617.2 659.4,617.2 660.4,616.2 661.4,619.6 662.4,620.3 663.4,619.0 664.4,619.3 665.4,620.9 666.4,622.9 667.4,621.2 668.4,622.9 669.4,624.3 670.4,624.8 671.4,620.8 672.4,622.8 673.4,631.1 674.4,624.8 675.4,620.6 676.4,620.4 677.4,621.1 678.4,622.1 679.4,621.6 680.4,622.1 681.4,619.8 682.4,620.3"/><polyline points="583.4,621.1 584.4,621.0 585.4,619.1 586.4,619.7 587.4,621.9 588.4,623.8 589.4,625.0 590.4,624.0 591.4,622.5 592.4,620.8 593.4,620.4 594.4,620.0 595.4,619.6 596.4,621.2 597.4,622.3 598.4,621.3 599.4,620.9 600.4,623.2 601.4,624.3 602.4,622.6 603.4,621.2 604.4,621.6 605.4,620.7 606.4,619.2 607.4,618.3 608.4,619.1 609.4,620.7 610.4,621.5 611.4,621.8 612.4,622.0 613.4,621.8 614.4,621.3 615.4,621.1 616.4,621.7 617.4,624.7 618.4,631.6 619.4,636.9 620.4,640.4 621.4,646.9 622.4,653.9 623.4,659.0 624.4,660.4 625.4,655.6 626.4,651.9 627.4,648.6 628.4,646.3 629.4,647.4 630.4,648.5 631.4,649.9 632.4,646.3 633.4,645.8 634.4,648.1 635.4,643.3 636.4,641.8 637.4,637.3 638.4,634.7 639.4,630.7 640.4,629.8 641.4,626.7 642.4,625.6 643.4,624.3 644.4,621.7 645.4,619.9 646.4,620.5 647.4,617.2 648.4,613.8 649.4,610.0 650.4,607.2 651.4,604.4 652.4,603.5 653.4,603.0 654.4,606.2 655.4,605.3 656.4,608.2 657.4,611.2 658.4,614.1 659.4,613.1 660.4,614.0 661.4,614.9 662.4,612.9 663.4,611.0 664.4,609.5 665.4,609.9 666.4,609.4 667.4,612.9 668.4,614.1 669.4,616.0 670.4,614.4 671.4,613.5 672.4,614.4 673.4,614.5 674.4,612.9 675.4,615.3 676.4,613.8 677.4,613.9 678.4,613.1 679.4,615.1 680.4,615.9 681.4,613.1 682.4,612.2"/><polyline points="583.4,621.0 584.4,621.9 585.4,620.9 586.4,620.4 587.4,619.6 588.4,619.6 589.4,620.3 590.4,621.0 591.4,621.2 592.4,622.3 593.4,623.8 594.4,621.8 595.4,620.7 596.4,621.5 597.4,623.5 598.4,623.4 599.4,622.6 600.4,621.7 601.4,621.9 602.4,624.1 603.4,624.3 604.4,622.1 605.4,620.9 606.4,622.2 607.4,621.2 608.4,621.8 609.4,622.4 610.4,621.1 611.4,620.9 612.4,622.2 613.4,623.0 614.4,620.5 615.4,620.2 616.4,619.4 617.4,621.0 618.4,628.5 619.4,638.0 620.4,642.0 621.4,658.3 622.4,670.4 623.4,680.0 624.4,669.5 625.4,656.2 626.4,633.3 627.4,633.1 628.4,623.0 629.4,623.1 630.4,623.8 631.4,622.9 632.4,626.5 633.4,624.4 634.4,624.3 635.4,629.1 636.4,630.5 637.4,627.8 638.4,627.1 639.4,629.6 640.4,630.1 641.4,629.6 642.4,625.8 643.4,625.3 644.4,622.4 645.4,620.8 646.4,621.1 647.4,623.0 648.4,621.9 649.4,619.5 650.4,618.6 651.4,619.3 652.4,616.6 653.4,617.1 654.4,619.3 655.4,620.1 656.4,622.1 657.4,621.5 658.4,624.6 659.4,627.6 660.4,626.0 661.4,625.1 662.4,622.3 663.4,620.0 664.4,622.9 665.4,620.9 666.4,622.4 667.4,622.1 668.4,622.2 669.4,625.0 670.4,624.3 671.4,628.1 672.4,627.9 673.4,624.5 674.4,622.3 675.4,622.4 676.4,621.4 677.4,623.9 678.4,623.7 679.4,622.6 680.4,624.0 681.4,633.2 682.4,642.4"/><polyline points="583.4,622.8 584.4,622.8 585.4,622.5 586.4,623.7 587.4,623.6 588.4,623.7 589.4,622.6 590.4,620.7 591.4,622.2 592.4,621.5 593.4,622.3 594.4,622.6 595.4,623.0 596.4,622.4 597.4,621.3 598.4,621.1 599.4,620.9 600.4,620.7 601.4,620.5 602.4,621.8 603.4,621.6 604.4,621.0 605.4,622.0 606.4,623.4 607.4,624.6 608.4,622.1 609.4,621.5 610.4,622.1 611.4,622.1 612.4,620.5 613.4,615.6 614.4,617.2 615.4,618.5 616.4,618.0 617.4,620.7 618.4,624.7 619.4,629.5 620.4,627.4 621.4,627.7 622.4,623.7 623.4,633.2 624.4,639.5 625.4,624.5 626.4,614.8 627.4,608.8 628.4,605.1 629.4,604.4 630.4,606.1 631.4,607.2 632.4,606.3 633.4,606.8 634.4,607.9 635.4,602.0 636.4,601.8 637.4,611.6 638.4,618.3 639.4,608.9 640.4,607.3 641.4,604.2 642.4,604.8 643.4,602.2 644.4,603.1 645.4,603.7 646.4,600.0 647.4,599.2 648.4,596.5 649.4,598.1 650.4,601.5 651.4,625.6 652.4,646.6 653.4,668.0 654.4,645.7 655.4,620.6 656.4,591.7 657.4,588.1 658.4,590.5 659.4,586.8 660.4,589.2 661.4,597.2 662.4,591.9 663.4,593.8 664.4,593.9 665.4,597.0 666.4,596.2 667.4,599.6 668.4,598.6 669.4,599.2 670.4,598.8 671.4,600.7 672.4,600.1 673.4,599.9 674.4,598.1 675.4,602.3 676.4,610.8 677.4,603.4 678.4,597.9 679.4,601.0 680.4,599.7 681.4,599.9 682.4,601.4"/><polyline points="583.4,620.8 584.4,620.1 585.4,620.3 586.4,620.5 587.4,620.7 588.4,620.6 589.4,621.5 590.4,621.7 591.4,621.3 592.4,621.7 593.4,621.2 594.4,622.6 595.4,623.2 596.4,622.6 597.4,623.6 598.4,624.7 599.4,623.7 600.4,621.1 601.4,619.5 602.4,620.9 603.4,622.6 604.4,622.1 605.4,619.9 606.4,619.1 607.4,620.6 608.4,621.9 609.4,622.2 610.4,621.3 611.4,620.4 612.4,620.5 613.4,621.8 614.4,622.5 615.4,622.1 616.4,620.8 617.4,621.9 618.4,626.2 619.4,630.3 620.4,632.1 621.4,629.6 622.4,635.0 623.4,634.8 624.4,636.1 625.4,628.8 626.4,628.1 627.4,627.8 628.4,621.8 629.4,625.3 630.4,625.7 631.4,627.3 632.4,625.7 633.4,625.9 634.4,626.8 635.4,623.4 636.4,619.8 637.4,619.3 638.4,618.5 639.4,619.4 640.4,618.9 641.4,617.1 642.4,615.1 643.4,614.6 644.4,612.8 645.4,609.1 646.4,605.9 647.4,601.1 648.4,599.8 649.4,598.4 650.4,598.9 651.4,598.0 652.4,598.9 653.4,598.4 654.4,596.5 655.4,597.1 656.4,595.2 657.4,586.8 658.4,569.5 659.4,581.4 660.4,587.3 661.4,589.7 662.4,590.4 663.4,591.8 664.4,595.9 665.4,602.1 666.4,612.0 667.4,611.8 668.4,615.3 669.4,613.3 670.4,613.3 671.4,612.4 672.4,608.1 673.4,606.2 674.4,603.5 675.4,604.8 676.4,607.4 677.4,609.7 678.4,606.9 679.4,604.9 680.4,605.8 681.4,606.8 682.4,606.5"/><polyline points="583.4,620.4 584.4,621.5 585.4,621.6 586.4,621.1 587.4,622.1 588.4,623.3 589.4,623.9 590.4,623.2 591.4,620.9 592.4,620.6 593.4,619.7 594.4,621.2 595.4,620.4 596.4,621.1 597.4,621.1 598.4,623.6 599.4,624.7 600.4,623.0 601.4,623.1 602.4,626.8 603.4,624.9 604.4,623.8 605.4,622.3 606.4,621.7 607.4,619.9 608.4,620.6 609.4,623.1 610.4,621.7 611.4,621.4 612.4,619.6 613.4,620.5 614.4,620.8 615.4,621.3 616.4,622.2 617.4,625.7 618.4,630.7 619.4,635.9 620.4,638.1 621.4,643.5 622.4,647.8 623.4,651.1 624.4,648.0 625.4,644.4 626.4,636.0 627.4,632.8 628.4,633.1 629.4,619.8 630.4,608.8 631.4,626.8 632.4,644.4 633.4,645.7 634.4,642.2 635.4,642.0 636.4,638.2 637.4,638.6 638.4,638.6 639.4,635.7 640.4,633.4 641.4,631.2 642.4,624.8 643.4,632.4 644.4,640.0 645.4,634.3 646.4,625.8 647.4,626.2 648.4,623.6 649.4,623.5 650.4,623.0 651.4,627.9 652.4,630.3 653.4,631.7 654.4,632.9 655.4,635.3 656.4,629.8 657.4,630.6 658.4,626.5 659.4,619.9 660.4,621.2 661.4,616.4 662.4,614.4 663.4,617.1 664.4,616.2 665.4,612.7 666.4,615.9 667.4,620.0 668.4,621.2 669.4,623.0 670.4,623.5 671.4,622.8 672.4,617.7 673.4,618.3 674.4,615.9 675.4,614.6 676.4,614.5 677.4,613.8 678.4,613.5 679.4,611.9 680.4,613.8 681.4,611.2 682.4,614.2"/><polyline points="583.4,621.5 584.4,621.6 585.4,622.1 586.4,621.7 587.4,621.9 588.4,622.0 589.4,621.8 590.4,621.5 591.4,620.7 592.4,621.4 593.4,622.9 594.4,623.1 595.4,621.8 596.4,620.7 597.4,620.5 598.4,620.3 599.4,619.7 600.4,621.0 601.4,622.8 602.4,622.6 603.4,621.5 604.4,620.9 605.4,621.0 606.4,621.3 607.4,621.0 608.4,621.2 609.4,621.9 610.4,621.2 611.4,620.1 612.4,619.0 613.4,620.6 614.4,622.4 615.4,621.9 616.4,621.2 617.4,623.5 618.4,628.9 619.4,631.2 620.4,631.9 621.4,632.3 622.4,632.5 623.4,634.3 624.4,634.3 625.4,630.0 626.4,627.5 627.4,622.8 628.4,617.7 629.4,616.6 630.4,618.6 631.4,616.6 632.4,619.1 633.4,620.1 634.4,621.8 635.4,622.7 636.4,623.9 637.4,622.2 638.4,622.8 639.4,618.5 640.4,616.6 641.4,618.0 642.4,617.6 643.4,618.6 644.4,618.2 645.4,619.3 646.4,619.8 647.4,619.6 648.4,619.6 649.4,618.9 650.4,609.9 651.4,598.8 652.4,609.7 653.4,617.6 654.4,618.5 655.4,618.5 656.4,619.8 657.4,619.3 658.4,619.1 659.4,616.2 660.4,617.0 661.4,617.4 662.4,614.8 663.4,616.1 664.4,617.0 665.4,616.8 666.4,617.5 667.4,618.1 668.4,615.9 669.4,615.4 670.4,614.7 671.4,614.7 672.4,615.6 673.4,617.2 674.4,615.5 675.4,618.5 676.4,618.5 677.4,618.6 678.4,616.7 679.4,614.1 680.4,614.3 681.4,612.1 682.4,611.9"/><polyline points="583.4,622.0 584.4,621.9 585.4,622.3 586.4,622.6 587.4,623.2 588.4,621.6 589.4,622.2 590.4,620.9 591.4,622.3 592.4,621.0 593.4,619.1 594.4,620.3 595.4,619.6 596.4,621.2 597.4,621.2 598.4,622.1 599.4,622.8 600.4,623.4 601.4,622.6 602.4,621.4 603.4,620.1 604.4,620.6 605.4,620.1 606.4,620.9 607.4,620.1 608.4,620.8 609.4,622.0 610.4,621.7 611.4,620.8 612.4,620.6 613.4,619.0 614.4,619.0 615.4,617.6 616.4,616.8 617.4,620.7 618.4,632.8 619.4,641.2 620.4,645.1 621.4,654.2 622.4,660.7 623.4,665.8 624.4,667.7 625.4,668.3 626.4,660.5 627.4,654.6 628.4,651.6 629.4,645.8 630.4,644.9 631.4,640.0 632.4,636.2 633.4,638.6 634.4,635.0 635.4,646.2 636.4,649.7 637.4,653.8 638.4,649.5 639.4,648.2 640.4,662.4 641.4,676.0 642.4,674.5 643.4,652.3 644.4,643.1 645.4,646.1 646.4,646.1 647.4,644.6 648.4,640.2 649.4,638.2 650.4,637.4 651.4,632.0 652.4,632.5 653.4,637.8 654.4,636.5 655.4,637.0 656.4,628.5 657.4,629.1 658.4,624.9 659.4,632.1 660.4,630.0 661.4,627.4 662.4,627.2 663.4,624.5 664.4,623.4 665.4,626.2 666.4,628.2 667.4,630.4 668.4,624.8 669.4,624.4 670.4,625.4 671.4,625.4 672.4,626.4 673.4,622.8 674.4,628.2 675.4,631.1 676.4,633.3 677.4,623.0 678.4,622.5 679.4,623.0 680.4,618.5 681.4,619.2 682.4,619.0"/><polyline points="583.4,619.7 584.4,618.6 585.4,617.7 586.4,619.3 587.4,620.0 588.4,620.1 589.4,620.5 590.4,621.7 591.4,622.8 592.4,623.4 593.4,623.2 594.4,622.1 595.4,620.9 596.4,620.0 597.4,619.7 598.4,621.2 599.4,621.7 600.4,622.3 601.4,622.2 602.4,621.3 603.4,620.1 604.4,619.5 605.4,620.0 606.4,621.5 607.4,621.3 608.4,621.6 609.4,621.3 610.4,620.3 611.4,619.7 612.4,620.4 613.4,620.7 614.4,621.0 615.4,621.7 616.4,621.3 617.4,622.3 618.4,626.7 619.4,630.7 620.4,631.7 621.4,637.8 622.4,648.7 623.4,642.3 624.4,634.2 625.4,631.1 626.4,627.3 627.4,624.1 628.4,632.9 629.4,650.5 630.4,632.4 631.4,618.7 632.4,619.7 633.4,621.5 634.4,618.8 635.4,619.5 636.4,616.6 637.4,616.8 638.4,614.3 639.4,613.0 640.4,612.5 641.4,611.5 642.4,611.8 643.4,611.1 644.4,613.5 645.4,613.5 646.4,614.7 647.4,614.2 648.4,614.4 649.4,613.0 650.4,612.9 651.4,613.1 652.4,612.9 653.4,611.5 654.4,613.7 655.4,612.2 656.4,612.2 657.4,610.6 658.4,607.4 659.4,606.1 660.4,607.2 661.4,605.9 662.4,604.3 663.4,606.7 664.4,607.0 665.4,604.3 666.4,605.9 667.4,604.7 668.4,605.0 669.4,605.0 670.4,604.9 671.4,602.5 672.4,605.0 673.4,606.5 674.4,607.3 675.4,610.1 676.4,610.4 677.4,611.0 678.4,611.8 679.4,611.4 680.4,612.1 681.4,613.2 682.4,612.3"/><polyline points="583.4,620.3 584.4,619.5 585.4,620.0 586.4,621.0 587.4,620.4 588.4,620.9 589.4,619.8 590.4,620.6 591.4,622.5 592.4,623.4 593.4,621.4 594.4,619.5 595.4,619.0 596.4,621.5 597.4,622.7 598.4,622.7 599.4,622.8 600.4,622.6 601.4,622.3 602.4,620.6 603.4,620.9 604.4,619.5 605.4,620.1 606.4,619.6 607.4,621.2 608.4,622.4 609.4,623.2 610.4,624.7 611.4,623.0 612.4,622.4 613.4,621.6 614.4,621.8 615.4,620.2 616.4,620.2 617.4,622.2 618.4,626.3 619.4,629.0 620.4,625.4 621.4,622.2 622.4,622.9 623.4,620.6 624.4,621.5 625.4,613.2 626.4,606.3 627.4,602.5 628.4,596.6 629.4,597.5 630.4,600.9 631.4,596.1 632.4,595.5 633.4,597.0 634.4,601.3 635.4,604.4 636.4,606.9 637.4,605.7 638.4,605.6 639.4,598.7 640.4,594.0 641.4,592.3 642.4,591.4 643.4,592.0 644.4,600.4 645.4,600.6 646.4,596.4 647.4,591.5 648.4,597.3 649.4,600.1 650.4,601.0 651.4,595.3 652.4,593.4 653.4,595.4 654.4,593.4 655.4,590.6 656.4,588.4 657.4,587.1 658.4,592.3 659.4,593.2 660.4,593.2 661.4,593.5 662.4,604.0 663.4,612.0 664.4,610.0 665.4,607.9 666.4,611.5 667.4,612.1 668.4,609.1 669.4,609.1 670.4,605.0 671.4,606.4 672.4,606.6 673.4,602.0 674.4,605.5 675.4,607.3 676.4,604.6 677.4,610.2 678.4,607.7 679.4,604.1 680.4,606.0 681.4,596.8 682.4,603.0"/><polyline points="583.4,621.7 584.4,622.4 585.4,621.5 586.4,622.8 587.4,623.3 588.4,622.5 589.4,621.5 590.4,622.5 591.4,623.3 592.4,621.4 593.4,619.0 594.4,620.8 595.4,621.4 596.4,621.1 597.4,619.9 598.4,619.8 599.4,620.2 600.4,619.7 601.4,620.5 602.4,618.8 603.4,619.1 604.4,620.8 605.4,622.6 606.4,622.2 607.4,621.7 608.4,621.6 609.4,621.9 610.4,623.0 611.4,622.9 612.4,621.2 613.4,621.8 614.4,621.0 615.4,620.4 616.4,619.7 617.4,620.7 618.4,623.9 619.4,628.1 620.4,624.8 621.4,623.7 622.4,623.5 623.4,622.9 624.4,622.6 625.4,622.0 626.4,619.1 627.4,619.6 628.4,618.5 629.4,620.7 630.4,621.4 631.4,615.1 632.4,614.6 633.4,615.3 634.4,612.6 635.4,611.8 636.4,607.0 637.4,605.3 638.4,607.9 639.4,610.1 640.4,609.3 641.4,607.9 642.4,609.5 643.4,608.1 644.4,607.5 645.4,600.4 646.4,602.2 647.4,597.3 648.4,594.7 649.4,589.2 650.4,591.8 651.4,588.7 652.4,591.8 653.4,591.3 654.4,586.3 655.4,581.8 656.4,582.6 657.4,587.3 658.4,586.4 659.4,587.5 660.4,591.4 661.4,596.0 662.4,598.3 663.4,596.3 664.4,597.3 665.4,597.0 666.4,596.5 667.4,598.6 668.4,599.5 669.4,602.4 670.4,605.4 671.4,606.1 672.4,605.9 673.4,611.1 674.4,615.1 675.4,612.7 676.4,608.1 677.4,605.0 678.4,604.4 679.4,605.1 680.4,608.5 681.4,609.8 682.4,611.9"/><polyline points="583.4,620.1 584.4,620.1 585.4,620.1 586.4,620.6 587.4,621.7 588.4,623.7 589.4,621.5 590.4,621.3 591.4,621.2 592.4,623.2 593.4,624.3 594.4,620.6 595.4,620.9 596.4,621.0 597.4,621.7 598.4,621.1 599.4,621.7 600.4,620.1 601.4,620.6 602.4,621.3 603.4,622.0 604.4,621.2 605.4,622.5 606.4,623.7 607.4,622.8 608.4,622.7 609.4,621.2 610.4,621.1 611.4,620.9 612.4,620.9 613.4,621.6 614.4,622.1 615.4,622.7 616.4,623.4 617.4,624.5 618.4,631.5 619.4,638.8 620.4,649.2 621.4,658.2 622.4,662.8 623.4,667.9 624.4,666.5 625.4,660.8 626.4,656.7 627.4,648.3 628.4,641.2 629.4,642.8 630.4,641.2 631.4,641.3 632.4,643.1 633.4,640.3 634.4,642.6 635.4,643.1 636.4,647.6 637.4,652.3 638.4,657.5 639.4,653.2 640.4,649.5 641.4,643.2 642.4,646.0 643.4,642.3 644.4,644.8 645.4,641.0 646.4,642.1 647.4,636.2 648.4,637.0 649.4,633.7 650.4,629.9 651.4,629.6 652.4,627.4 653.4,625.1 654.4,620.0 655.4,621.5 656.4,626.2 657.4,626.4 658.4,626.3 659.4,630.1 660.4,631.2 661.4,625.1 662.4,626.9 663.4,628.0 664.4,627.0 665.4,626.7 666.4,623.3 667.4,621.4 668.4,622.8 669.4,618.2 670.4,616.7 671.4,617.6 672.4,620.0 673.4,615.0 674.4,613.2 675.4,613.6 676.4,611.6 677.4,612.5 678.4,617.2 679.4,617.6 680.4,616.6 681.4,616.2 682.4,614.4"/><polyline points="583.4,618.8 584.4,618.7 585.4,623.1 586.4,624.2 587.4,621.2 588.4,620.0 589.4,623.2 590.4,627.7 591.4,623.7 592.4,617.8 593.4,614.0 594.4,615.3 595.4,618.1 596.4,618.8 597.4,618.7 598.4,621.2 599.4,620.3 600.4,620.5 601.4,620.0 602.4,620.6 603.4,620.1 604.4,621.0 605.4,622.1 606.4,620.8 607.4,621.5 608.4,624.0 609.4,622.1 610.4,621.7 611.4,620.7 612.4,620.4 613.4,621.5 614.4,621.8 615.4,621.2 616.4,621.3 617.4,622.0 618.4,622.5 619.4,625.2 620.4,626.6 621.4,626.9 622.4,631.3 623.4,648.9 624.4,635.0 625.4,621.4 626.4,615.7 627.4,610.3 628.4,605.8 629.4,599.2 630.4,598.5 631.4,597.5 632.4,597.7 633.4,603.7 634.4,599.2 635.4,601.3 636.4,600.8 637.4,602.3 638.4,609.9 639.4,606.7 640.4,608.2 641.4,613.9 642.4,614.5 643.4,612.1 644.4,613.6 645.4,612.6 646.4,608.5 647.4,602.3 648.4,596.4 649.4,590.4 650.4,592.5 651.4,586.8 652.4,585.6 653.4,581.5 654.4,584.5 655.4,587.0 656.4,584.6 657.4,590.4 658.4,592.6 659.4,587.7 660.4,588.8 661.4,589.3 662.4,585.0 663.4,584.5 664.4,580.0 665.4,576.7 666.4,579.8 667.4,579.5 668.4,580.7 669.4,584.3 670.4,582.4 671.4,588.4 672.4,592.8 673.4,587.3 674.4,584.9 675.4,591.0 676.4,593.8 677.4,601.3 678.4,616.6 679.4,602.5 680.4,591.6 681.4,594.8 682.4,592.3"/><polyline points="583.4,620.2 584.4,619.4 585.4,620.6 586.4,621.3 587.4,622.5 588.4,623.0 589.4,623.9 590.4,621.9 591.4,620.9 592.4,620.0 593.4,620.7 594.4,620.6 595.4,622.1 596.4,620.8 597.4,620.5 598.4,618.8 599.4,621.9 600.4,621.6 601.4,622.7 602.4,622.9 603.4,621.9 604.4,621.4 605.4,621.4 606.4,622.0 607.4,621.7 608.4,622.7 609.4,621.3 610.4,621.3 611.4,621.6 612.4,621.0 613.4,619.3 614.4,620.5 615.4,622.4 616.4,622.0 617.4,624.1 618.4,633.9 619.4,641.8 620.4,644.2 621.4,649.5 622.4,650.2 623.4,649.9 624.4,650.3 625.4,650.3 626.4,659.5 627.4,675.0 628.4,658.5 629.4,642.9 630.4,646.5 631.4,645.4 632.4,645.2 633.4,640.3 634.4,636.4 635.4,633.6 636.4,636.9 637.4,632.6 638.4,629.8 639.4,631.4 640.4,630.9 641.4,635.0 642.4,637.9 643.4,641.8 644.4,639.5 645.4,639.4 646.4,645.4 647.4,638.8 648.4,630.7 649.4,624.5 650.4,629.7 651.4,633.7 652.4,631.8 653.4,628.4 654.4,623.6 655.4,620.9 656.4,621.9 657.4,623.4 658.4,628.1 659.4,626.5 660.4,627.3 661.4,627.7 662.4,628.0 663.4,626.9 664.4,626.9 665.4,622.2 666.4,626.9 667.4,621.7 668.4,622.2 669.4,620.2 670.4,619.7 671.4,619.6 672.4,618.2 673.4,621.9 674.4,624.4 675.4,614.0 676.4,615.8 677.4,618.4 678.4,621.7 679.4,622.7 680.4,623.4 681.4,620.9 682.4,620.4"/><polyline points="583.4,620.6 584.4,619.5 585.4,618.5 586.4,620.0 587.4,622.4 588.4,622.8 589.4,622.0 590.4,622.2 591.4,622.2 592.4,621.2 593.4,620.9 594.4,621.1 595.4,624.5 596.4,627.9 597.4,625.3 598.4,623.3 599.4,622.9 600.4,622.2 601.4,623.7 602.4,623.5 603.4,622.5 604.4,621.9 605.4,621.9 606.4,620.7 607.4,620.3 608.4,620.9 609.4,620.8 610.4,621.9 611.4,622.3 612.4,622.3 613.4,621.9 614.4,620.0 615.4,620.1 616.4,621.5 617.4,623.9 618.4,627.8 619.4,631.9 620.4,630.5 621.4,630.5 622.4,629.9 623.4,626.8 624.4,625.1 625.4,621.7 626.4,619.0 627.4,619.7 628.4,617.9 629.4,619.5 630.4,617.7 631.4,617.0 632.4,618.4 633.4,618.7 634.4,624.0 635.4,624.6 636.4,624.9 637.4,627.4 638.4,628.8 639.4,626.3 640.4,624.4 641.4,624.5 642.4,621.0 643.4,620.3 644.4,617.2 645.4,615.9 646.4,614.1 647.4,613.0 648.4,609.6 649.4,609.5 650.4,606.8 651.4,604.4 652.4,601.7 653.4,596.4 654.4,594.5 655.4,592.6 656.4,591.3 657.4,588.8 658.4,589.8 659.4,590.1 660.4,590.9 661.4,590.6 662.4,588.6 663.4,590.7 664.4,589.7 665.4,591.4 666.4,591.8 667.4,593.0 668.4,592.7 669.4,594.5 670.4,595.4 671.4,596.8 672.4,601.7 673.4,603.2 674.4,605.0 675.4,606.5 676.4,604.6 677.4,605.1 678.4,605.8 679.4,595.6 680.4,582.3 681.4,598.6 682.4,606.7"/><polyline points="583.4,621.2 584.4,621.7 585.4,620.9 586.4,622.2 587.4,620.9 588.4,619.9 589.4,620.3 590.4,619.8 591.4,620.9 592.4,620.9 593.4,620.6 594.4,620.8 595.4,619.7 596.4,619.7 597.4,620.9 598.4,621.8 599.4,623.3 600.4,622.7 601.4,621.6 602.4,622.0 603.4,621.9 604.4,623.4 605.4,623.7 606.4,623.5 607.4,622.9 608.4,622.1 609.4,621.4 610.4,621.6 611.4,621.1 612.4,620.9 613.4,620.5 614.4,619.9 615.4,619.6 616.4,620.1 617.4,623.3 618.4,627.8 619.4,632.2 620.4,626.3 621.4,623.0 622.4,618.8 623.4,615.7 624.4,616.9 625.4,611.1 626.4,607.5 627.4,604.4 628.4,602.8 629.4,604.4 630.4,605.8 631.4,603.0 632.4,601.7 633.4,599.3 634.4,599.8 635.4,603.9 636.4,606.1 637.4,601.2 638.4,602.4 639.4,605.6 640.4,607.2 641.4,608.4 642.4,610.1 643.4,609.2 644.4,610.5 645.4,606.2 646.4,599.9 647.4,601.4 648.4,599.5 649.4,595.5 650.4,595.3 651.4,598.4 652.4,598.4 653.4,598.2 654.4,596.0 655.4,593.7 656.4,592.9 657.4,592.6 658.4,595.0 659.4,598.7 660.4,601.4 661.4,605.2 662.4,602.2 663.4,600.1 664.4,602.0 665.4,600.3 666.4,598.0 667.4,596.3 668.4,593.3 669.4,595.7 670.4,594.6 671.4,595.3 672.4,599.1 673.4,596.7 674.4,598.3 675.4,592.0 676.4,589.6 677.4,593.5 678.4,597.7 679.4,596.8 680.4,596.4 681.4,596.2 682.4,600.5"/><polyline points="583.4,624.2 584.4,624.6 585.4,625.7 586.4,625.6 587.4,623.6 588.4,620.6 589.4,619.4 590.4,620.4 591.4,620.0 592.4,619.4 593.4,619.6 594.4,620.2 595.4,621.5 596.4,621.9 597.4,624.2 598.4,624.4 599.4,623.7 600.4,622.5 601.4,624.1 602.4,626.5 603.4,622.2 604.4,620.3 605.4,620.8 606.4,620.4 607.4,621.1 608.4,620.5 609.4,621.8 610.4,621.2 611.4,621.3 612.4,620.3 613.4,619.4 614.4,618.6 615.4,619.6 616.4,621.3 617.4,623.9 618.4,628.0 619.4,632.1 620.4,634.0 621.4,639.3 622.4,646.0 623.4,651.8 624.4,655.8 625.4,657.9 626.4,659.9 627.4,658.0 628.4,657.3 629.4,655.3 630.4,656.9 631.4,654.1 632.4,648.6 633.4,652.1 634.4,651.2 635.4,646.6 636.4,645.5 637.4,645.1 638.4,640.3 639.4,635.0 640.4,635.1 641.4,631.0 642.4,628.9 643.4,624.3 644.4,627.1 645.4,620.4 646.4,620.7 647.4,623.8 648.4,620.2 649.4,620.3 650.4,619.9 651.4,619.2 652.4,614.7 653.4,617.5 654.4,621.3 655.4,623.2 656.4,624.8 657.4,625.6 658.4,623.8 659.4,626.6 660.4,624.3 661.4,622.0 662.4,618.6 663.4,617.3 664.4,617.6 665.4,614.9 666.4,620.6 667.4,630.1 668.4,623.6 669.4,621.1 670.4,622.9 671.4,625.1 672.4,620.6 673.4,620.8 674.4,614.9 675.4,619.3 676.4,616.0 677.4,618.3 678.4,619.1 679.4,616.3 680.4,614.9 681.4,618.5 682.4,615.7"/><polyline points="583.4,621.2 584.4,622.0 585.4,621.0 586.4,619.4 587.4,619.1 588.4,620.1 589.4,622.0 590.4,621.8 591.4,622.3 592.4,623.0 593.4,624.8 594.4,623.7 595.4,621.4 596.4,621.1 597.4,621.4 598.4,620.7 599.4,621.0 600.4,620.1 601.4,619.8 602.4,620.5 603.4,620.7 604.4,621.0 605.4,621.5 606.4,621.0 607.4,620.2 608.4,621.4 609.4,621.5 610.4,619.5 611.4,618.7 612.4,621.2 613.4,623.7 614.4,623.5 615.4,622.5 616.4,623.4 617.4,625.9 618.4,629.5 619.4,632.3 620.4,629.2 621.4,629.7 622.4,630.4 623.4,630.9 624.4,629.6 625.4,630.3 626.4,626.5 627.4,625.4 628.4,647.2 629.4,673.1 630.4,698.0 631.4,671.7 632.4,645.7 633.4,616.8 634.4,616.2 635.4,614.9 636.4,612.1 637.4,609.9 638.4,605.1 639.4,608.1 640.4,607.6 641.4,611.5 642.4,609.6 643.4,612.8 644.4,613.2 645.4,614.0 646.4,614.6 647.4,617.0 648.4,617.9 649.4,615.0 650.4,614.9 651.4,610.7 652.4,613.7 653.4,624.6 654.4,609.7 655.4,598.8 656.4,599.3 657.4,599.4 658.4,601.6 659.4,601.7 660.4,603.1 661.4,603.7 662.4,603.0 663.4,606.6 664.4,603.5 665.4,601.3 666.4,599.4 667.4,595.0 668.4,590.5 669.4,589.6 670.4,589.2 671.4,588.5 672.4,594.3 673.4,595.7 674.4,598.1 675.4,600.7 676.4,602.3 677.4,602.5 678.4,602.8 679.4,605.7 680.4,601.8 681.4,603.5 682.4,607.4"/><polyline points="583.4,623.4 584.4,622.6 585.4,619.9 586.4,618.7 587.4,620.1 588.4,620.7 589.4,619.6 590.4,618.6 591.4,619.4 592.4,620.7 593.4,621.5 594.4,621.8 595.4,621.7 596.4,621.7 597.4,621.2 598.4,621.3 599.4,622.2 600.4,619.9 601.4,621.6 602.4,623.9 603.4,623.4 604.4,621.9 605.4,621.6 606.4,618.2 607.4,621.3 608.4,622.3 609.4,623.0 610.4,621.7 611.4,622.6 612.4,622.4 613.4,622.1 614.4,621.5 615.4,621.8 616.4,621.9 617.4,622.3 618.4,625.8 619.4,627.9 620.4,625.5 621.4,626.4 622.4,623.8 623.4,626.7 624.4,628.4 625.4,629.7 626.4,630.8 627.4,626.2 628.4,621.7 629.4,624.2 630.4,621.1 631.4,624.3 632.4,625.0 633.4,618.7 634.4,619.6 635.4,613.4 636.4,614.0 637.4,614.8 638.4,609.1 639.4,606.8 640.4,603.3 641.4,601.2 642.4,597.7 643.4,598.3 644.4,600.9 645.4,601.0 646.4,602.4 647.4,602.2 648.4,601.1 649.4,599.9 650.4,599.4 651.4,594.6 652.4,590.6 653.4,587.1 654.4,586.9 655.4,586.1 656.4,588.6 657.4,597.8 658.4,604.4 659.4,608.3 660.4,608.7 661.4,609.2 662.4,613.8 663.4,609.0 664.4,609.1 665.4,614.0 666.4,613.3 667.4,611.4 668.4,610.2 669.4,611.4 670.4,610.9 671.4,611.9 672.4,611.5 673.4,607.7 674.4,609.5 675.4,612.0 676.4,612.6 677.4,612.2 678.4,616.1 679.4,616.3 680.4,616.0 681.4,613.0 682.4,610.9"/><polyline points="583.4,621.5 584.4,621.2 585.4,620.7 586.4,622.3 587.4,623.3 588.4,622.4 589.4,622.0 590.4,621.6 591.4,622.1 592.4,622.1 593.4,621.3 594.4,620.6 595.4,621.3 596.4,622.7 597.4,623.8 598.4,623.8 599.4,623.0 600.4,622.5 601.4,622.8 602.4,621.3 603.4,620.8 604.4,620.3 605.4,619.9 606.4,619.7 607.4,619.4 608.4,617.6 609.4,618.3 610.4,620.1 611.4,622.1 612.4,621.9 613.4,621.9 614.4,622.4 615.4,621.3 616.4,619.9 617.4,621.8 618.4,627.5 619.4,632.9 620.4,636.7 621.4,643.0 622.4,645.4 623.4,650.0 624.4,651.0 625.4,647.1 626.4,644.0 627.4,641.9 628.4,639.0 629.4,636.0 630.4,633.8 631.4,631.2 632.4,629.8 633.4,624.1 634.4,621.4 635.4,623.1 636.4,619.7 637.4,622.8 638.4,629.5 639.4,626.2 640.4,620.1 641.4,621.6 642.4,622.3 643.4,623.4 644.4,625.7 645.4,625.2 646.4,624.3 647.4,623.4 648.4,621.4 649.4,621.4 650.4,617.2 651.4,616.5 652.4,612.9 653.4,613.2 654.4,611.8 655.4,613.4 656.4,614.1 657.4,617.1 658.4,616.9 659.4,618.4 660.4,616.7 661.4,616.8 662.4,618.9 663.4,618.5 664.4,617.2 665.4,617.8 666.4,616.9 667.4,618.5 668.4,618.1 669.4,617.8 670.4,613.3 671.4,617.0 672.4,615.0 673.4,616.6 674.4,618.7 675.4,615.8 676.4,613.3 677.4,612.0 678.4,615.2 679.4,616.8 680.4,615.9 681.4,616.1 682.4,616.2"/><polyline points="583.4,620.8 584.4,620.8 585.4,620.4 586.4,619.6 587.4,619.5 588.4,622.5 589.4,622.3 590.4,621.2 591.4,618.9 592.4,618.6 593.4,619.9 594.4,620.8 595.4,621.3 596.4,621.7 597.4,621.4 598.4,621.5 599.4,620.5 600.4,620.2 601.4,619.9 602.4,619.7 603.4,620.9 604.4,621.8 605.4,620.7 606.4,619.3 607.4,619.3 608.4,620.0 609.4,621.8 610.4,621.4 611.4,622.0 612.4,623.2 613.4,622.4 614.4,620.8 615.4,620.5 616.4,622.1 617.4,626.2 618.4,630.2 619.4,631.8 620.4,633.4 621.4,640.2 622.4,630.6 623.4,624.3 624.4,634.6 625.4,648.0 626.4,629.1 627.4,614.7 628.4,609.4 629.4,607.3 630.4,604.0 631.4,606.1 632.4,612.6 633.4,614.6 634.4,607.4 635.4,595.0 636.4,603.1 637.4,608.8 638.4,609.4 639.4,635.2 640.4,664.1 641.4,691.0 642.4,666.1 643.4,641.8 644.4,619.1 645.4,622.6 646.4,618.4 647.4,617.7 648.4,614.6 649.4,612.5 650.4,611.6 651.4,611.7 652.4,613.7 653.4,612.9 654.4,614.9 655.4,618.0 656.4,621.5 657.4,619.6 658.4,617.1 659.4,616.5 660.4,613.9 661.4,614.9 662.4,615.5 663.4,612.4 664.4,609.2 665.4,608.4 666.4,608.3 667.4,605.9 668.4,608.3 669.4,604.6 670.4,602.7 671.4,601.9 672.4,603.8 673.4,601.9 674.4,601.7 675.4,602.1 676.4,602.4 677.4,614.2 678.4,629.6 679.4,610.6 680.4,603.2 681.4,607.6 682.4,601.6"/><polyline points="583.4,622.4 584.4,622.2 585.4,621.8 586.4,621.0 587.4,620.9 588.4,622.8 589.4,625.7 590.4,624.9 591.4,621.7 592.4,621.8 593.4,620.9 594.4,620.8 595.4,619.1 596.4,619.5 597.4,620.4 598.4,621.0 599.4,618.5 600.4,617.5 601.4,617.1 602.4,620.0 603.4,619.9 604.4,620.0 605.4,621.9 606.4,621.8 607.4,621.8 608.4,620.4 609.4,620.7 610.4,620.4 611.4,620.8 612.4,618.9 613.4,617.5 614.4,616.2 615.4,618.0 616.4,617.2 617.4,619.8 618.4,625.1 619.4,629.3 620.4,623.5 621.4,619.3 622.4,612.1 623.4,608.9 624.4,609.7 625.4,611.6 626.4,607.7 627.4,604.6 628.4,592.4 629.4,593.7 630.4,593.7 631.4,595.2 632.4,602.1 633.4,595.7 634.4,595.8 635.4,596.7 636.4,594.2 637.4,595.8 638.4,591.0 639.4,586.8 640.4,593.9 641.4,606.4 642.4,596.4 643.4,594.6 644.4,594.6 645.4,600.9 646.4,600.3 647.4,598.3 648.4,601.5 649.4,603.0 650.4,605.4 651.4,602.4 652.4,594.9 653.4,592.7 654.4,587.2 655.4,590.6 656.4,603.6 657.4,600.3 658.4,597.8 659.4,598.0 660.4,598.5 661.4,593.8 662.4,589.1 663.4,584.7 664.4,583.9 665.4,578.4 666.4,579.2 667.4,579.9 668.4,581.3 669.4,591.4 670.4,583.8 671.4,579.2 672.4,579.0 673.4,580.8 674.4,599.4 675.4,616.0 676.4,591.5 677.4,578.8 678.4,580.4 679.4,585.9 680.4,585.3 681.4,587.9 682.4,584.3"/><polyline points="583.4,621.7 584.4,620.1 585.4,619.2 586.4,618.4 587.4,620.2 588.4,620.7 589.4,620.9 590.4,621.2 591.4,621.4 592.4,620.1 593.4,619.2 594.4,619.8 595.4,620.9 596.4,620.6 597.4,622.7 598.4,623.5 599.4,623.6 600.4,622.9 601.4,622.2 602.4,622.1 603.4,621.9 604.4,620.2 605.4,618.5 606.4,619.0 607.4,619.6 608.4,619.2 609.4,618.9 610.4,618.0 611.4,619.7 612.4,621.5 613.4,620.9 614.4,619.0 615.4,619.5 616.4,620.6 617.4,622.2 618.4,627.7 619.4,632.2 620.4,632.6 621.4,631.1 622.4,631.0 623.4,632.3 624.4,631.9 625.4,627.4 626.4,622.0 627.4,619.9 628.4,616.5 629.4,615.8 630.4,616.6 631.4,618.5 632.4,617.2 633.4,615.7 634.4,616.2 635.4,616.9 636.4,616.7 637.4,615.3 638.4,615.0 639.4,615.6 640.4,613.5 641.4,613.2 642.4,614.9 643.4,610.7 644.4,611.1 645.4,611.7 646.4,608.1 647.4,609.4 648.4,610.2 649.4,606.4 650.4,607.4 651.4,606.6 652.4,603.1 653.4,601.8 654.4,605.4 655.4,618.2 656.4,606.9 657.4,602.1 658.4,602.7 659.4,604.1 660.4,603.8 661.4,616.6 662.4,636.4 663.4,615.2 664.4,604.0 665.4,603.1 666.4,603.1 667.4,603.6 668.4,606.0 669.4,603.7 670.4,607.5 671.4,610.5 672.4,610.0 673.4,612.2 674.4,610.8 675.4,610.0 676.4,610.7 677.4,610.7 678.4,610.2 679.4,607.1 680.4,606.8 681.4,609.7 682.4,610.6"/><polyline points="583.4,624.2 584.4,624.6 585.4,625.4 586.4,624.6 587.4,622.6 588.4,621.5 589.4,622.0 590.4,622.7 591.4,622.8 592.4,625.9 593.4,627.6 594.4,623.0 595.4,619.8 596.4,621.3 597.4,620.1 598.4,620.3 599.4,620.1 600.4,619.8 601.4,619.0 602.4,620.1 603.4,621.4 604.4,621.1 605.4,621.0 606.4,620.2 607.4,621.3 608.4,622.8 609.4,620.4 610.4,620.8 611.4,620.1 612.4,620.7 613.4,621.4 614.4,621.1 615.4,626.4 616.4,632.5 617.4,630.8 618.4,627.9 619.4,629.2 620.4,627.3 621.4,631.7 622.4,634.1 623.4,633.2 624.4,632.7 625.4,623.3 626.4,620.2 627.4,605.7 628.4,602.5 629.4,595.3 630.4,592.9 631.4,599.9 632.4,599.4 633.4,600.2 634.4,591.0 635.4,591.7 636.4,591.8 637.4,590.5 638.4,587.7 639.4,591.1 640.4,588.4 641.4,592.9 642.4,593.7 643.4,594.2 644.4,595.1 645.4,594.6 646.4,593.0 647.4,590.3 648.4,586.7 649.4,582.7 650.4,583.4 651.4,583.0 652.4,580.3 653.4,577.3 654.4,578.5 655.4,583.8 656.4,578.9 657.4,574.1 658.4,581.9 659.4,578.0 660.4,577.6 661.4,578.0 662.4,578.0 663.4,583.5 664.4,585.1 665.4,588.1 666.4,587.9 667.4,591.7 668.4,590.2 669.4,591.9 670.4,598.9 671.4,601.4 672.4,604.7 673.4,601.3 674.4,599.0 675.4,598.2 676.4,596.6 677.4,596.1 678.4,595.2 679.4,592.6 680.4,593.0 681.4,592.2 682.4,594.1"/><polyline points="583.4,621.3 584.4,620.7 585.4,619.1 586.4,619.3 587.4,618.8 588.4,618.1 589.4,617.6 590.4,616.4 591.4,617.0 592.4,619.6 593.4,622.1 594.4,623.2 595.4,621.0 596.4,622.4 597.4,622.8 598.4,621.7 599.4,620.2 600.4,620.9 601.4,621.7 602.4,620.1 603.4,620.1 604.4,618.8 605.4,619.0 606.4,619.0 607.4,619.1 608.4,619.8 609.4,620.6 610.4,621.3 611.4,623.5 612.4,623.6 613.4,624.0 614.4,622.0 615.4,621.3 616.4,621.2 617.4,621.7 618.4,626.9 619.4,625.5 620.4,614.6 621.4,624.8 622.4,631.8 623.4,632.9 624.4,632.2 625.4,630.1 626.4,627.8 627.4,624.5 628.4,615.0 629.4,614.3 630.4,614.6 631.4,609.4 632.4,610.2 633.4,611.3 634.4,613.8 635.4,611.7 636.4,616.0 637.4,614.8 638.4,621.4 639.4,621.6 640.4,624.9 641.4,624.1 642.4,625.3 643.4,622.5 644.4,624.6 645.4,621.0 646.4,617.7 647.4,614.4 648.4,609.7 649.4,605.7 650.4,603.5 651.4,604.6 652.4,603.8 653.4,606.3 654.4,607.9 655.4,611.2 656.4,613.5 657.4,616.9 658.4,614.9 659.4,614.6 660.4,615.5 661.4,615.2 662.4,614.2 663.4,612.3 664.4,608.3 665.4,610.5 666.4,609.8 667.4,611.2 668.4,621.3 669.4,612.9 670.4,605.9 671.4,603.5 672.4,604.3 673.4,605.8 674.4,604.9 675.4,604.6 676.4,603.3 677.4,598.5 678.4,600.3 679.4,602.8 680.4,601.0 681.4,602.1 682.4,603.3"/></g>
<polyline points="583.4,620.4 584.4,621.5 585.4,620.8 586.4,621.5 587.4,621.3 588.4,620.8 589.4,621.2 590.4,622.2 591.4,622.0 592.4,620.9 593.4,620.8 594.4,621.7 595.4,621.4 596.4,621.0 597.4,620.9 598.4,621.0 599.4,621.7 600.4,619.5 601.4,621.2 602.4,620.2 603.4,621.2 604.4,622.1 605.4,621.3 606.4,621.0 607.4,621.6 608.4,622.1 609.4,620.6 610.4,620.6 611.4,621.4 612.4,621.2 613.4,622.3 614.4,620.6 615.4,621.1 616.4,622.3 617.4,622.3 618.4,628.3 619.4,631.5 620.4,634.1 621.4,633.3 622.4,634.5 623.4,635.2 624.4,634.7 625.4,633.1 626.4,627.8 627.4,627.0 628.4,622.3 629.4,622.4 630.4,623.3 631.4,622.7 632.4,622.3 633.4,621.9 634.4,621.7 635.4,621.9 636.4,621.0 637.4,620.1 638.4,620.5 639.4,620.2 640.4,618.9 641.4,619.5 642.4,617.9 643.4,617.6 644.4,618.2 645.4,618.1 646.4,616.6 647.4,617.7 648.4,616.6 649.4,615.5 650.4,616.3 651.4,615.3 652.4,614.9 653.4,615.3 654.4,614.6 655.4,614.2 656.4,614.3 657.4,614.2 658.4,612.9 659.4,614.9 660.4,614.7 661.4,613.4 662.4,613.9 663.4,613.1 664.4,613.5 665.4,611.2 666.4,612.0 667.4,612.0 668.4,612.9 669.4,612.4 670.4,612.4 671.4,612.2 672.4,612.5 673.4,613.2 674.4,612.1 675.4,611.3 676.4,611.9 677.4,611.5 678.4,611.6 679.4,611.5 680.4,612.2 681.4,612.8 682.4,611.9" fill="none" stroke="#151515" stroke-width="3.2" stroke-linejoin="round" stroke-linecap="round"/>
<g fill="none" stroke="#9d9d9d" stroke-width="1.4" stroke-linejoin="round"><polyline points="696.0,622.3 697.0,623.1 698.0,623.6 699.0,622.0 700.0,620.0 701.0,619.8 702.0,621.9 703.0,621.1 704.0,620.0 705.0,620.7 706.0,621.7 707.0,622.2 708.0,621.3 709.0,619.7 710.0,619.4 711.0,618.6 712.0,620.2 713.0,620.4 714.0,619.0 715.0,620.1 716.0,620.7 717.0,622.3 718.0,623.2 719.0,623.6 720.0,622.7 721.0,620.3 722.0,619.9 723.0,620.1 724.0,620.7 725.0,621.9 726.0,620.3 727.0,619.6 728.0,620.5 729.0,621.4 730.0,628.2 731.0,630.8 732.0,633.9 733.0,642.0 734.0,648.2 735.0,642.4 736.0,635.8 737.0,631.2 738.0,625.1 739.0,623.8 740.0,623.0 741.0,620.4 742.0,621.8 743.0,619.3 744.0,619.4 745.0,616.4 746.0,615.7 747.0,612.8 748.0,614.5 749.0,609.9 750.0,610.2 751.0,607.9 752.0,608.1 753.0,606.7 754.0,606.6 755.0,601.6 756.0,601.3 757.0,602.9 758.0,600.9 759.0,599.2 760.0,596.6 761.0,597.5 762.0,596.8 763.0,598.3 764.0,602.7 765.0,606.3 766.0,607.8 767.0,610.2 768.0,611.1 769.0,611.3 770.0,612.4 771.0,613.0 772.0,616.0 773.0,613.5 774.0,611.4 775.0,611.5 776.0,609.5 777.0,606.3 778.0,602.0 779.0,599.9 780.0,600.5 781.0,600.4 782.0,596.5 783.0,594.4 784.0,592.9 785.0,595.4 786.0,602.9 787.0,598.7 788.0,600.0 789.0,602.9 790.0,606.5 791.0,606.5 792.0,608.8 793.0,609.2 794.0,607.6 795.0,606.0"/><polyline points="696.0,619.9 697.0,620.1 698.0,620.9 699.0,622.0 700.0,622.3 701.0,622.7 702.0,623.3 703.0,622.2 704.0,620.4 705.0,619.2 706.0,619.0 707.0,619.5 708.0,619.4 709.0,620.2 710.0,621.4 711.0,622.1 712.0,620.7 713.0,620.0 714.0,620.7 715.0,621.6 716.0,623.5 717.0,624.3 718.0,620.8 719.0,618.7 720.0,618.4 721.0,618.0 722.0,618.5 723.0,620.8 724.0,621.0 725.0,620.9 726.0,619.8 727.0,619.3 728.0,620.0 729.0,620.7 730.0,625.4 731.0,631.0 732.0,636.5 733.0,646.8 734.0,654.8 735.0,652.3 736.0,646.9 737.0,643.3 738.0,639.7 739.0,637.9 740.0,634.9 741.0,632.6 742.0,629.8 743.0,627.2 744.0,625.5 745.0,623.6 746.0,621.2 747.0,620.7 748.0,618.1 749.0,616.8 750.0,614.0 751.0,613.7 752.0,613.2 753.0,611.7 754.0,609.2 755.0,608.3 756.0,606.3 757.0,606.2 758.0,605.0 759.0,604.0 760.0,603.5 761.0,603.5 762.0,605.2 763.0,604.2 764.0,603.5 765.0,603.0 766.0,603.1 767.0,600.5 768.0,600.6 769.0,599.6 770.0,599.4 771.0,599.2 772.0,600.0 773.0,600.0 774.0,601.3 775.0,602.2 776.0,602.0 777.0,600.1 778.0,601.4 779.0,602.6 780.0,604.5 781.0,604.7 782.0,604.4 783.0,603.2 784.0,603.7 785.0,604.3 786.0,605.3 787.0,605.2 788.0,604.6 789.0,606.2 790.0,606.4 791.0,606.1 792.0,606.5 793.0,607.9 794.0,607.7 795.0,607.0"/><polyline points="696.0,620.6 697.0,620.6 698.0,620.5 699.0,620.0 700.0,620.5 701.0,621.5 702.0,622.5 703.0,622.3 704.0,622.0 705.0,621.1 706.0,620.5 707.0,621.4 708.0,621.0 709.0,621.1 710.0,620.3 711.0,621.3 712.0,621.3 713.0,621.2 714.0,619.2 715.0,620.8 716.0,621.5 717.0,620.7 718.0,619.5 719.0,619.9 720.0,620.3 721.0,620.6 722.0,620.4 723.0,620.7 724.0,620.2 725.0,620.8 726.0,622.0 727.0,621.4 728.0,620.5 729.0,620.6 730.0,626.5 731.0,632.7 732.0,638.1 733.0,645.6 734.0,654.5 735.0,649.1 736.0,645.0 737.0,637.5 738.0,631.5 739.0,630.3 740.0,629.7 741.0,628.8 742.0,626.9 743.0,623.9 744.0,621.0 745.0,619.9 746.0,617.9 747.0,617.5 748.0,612.3 749.0,611.4 750.0,610.5 751.0,608.4 752.0,605.7 753.0,605.5 754.0,606.4 755.0,606.6 756.0,607.0 757.0,605.0 758.0,603.7 759.0,601.5 760.0,599.8 761.0,601.7 762.0,602.3 763.0,600.9 764.0,601.0 765.0,602.4 766.0,600.5 767.0,600.1 768.0,602.2 769.0,604.5 770.0,603.9 771.0,604.7 772.0,606.3 773.0,603.1 774.0,601.7 775.0,604.8 776.0,604.0 777.0,603.6 778.0,606.2 779.0,607.8 780.0,607.5 781.0,611.4 782.0,608.2 783.0,610.9 784.0,609.0 785.0,607.9 786.0,607.1 787.0,605.1 788.0,603.9 789.0,602.7 790.0,600.5 791.0,602.0 792.0,600.9 793.0,602.1 794.0,605.8 795.0,605.8"/><polyline points="696.0,620.8 697.0,619.7 698.0,621.2 699.0,624.2 700.0,624.1 701.0,623.6 702.0,623.3 703.0,623.3 704.0,622.4 705.0,621.4 706.0,622.6 707.0,622.4 708.0,621.0 709.0,622.4 710.0,624.0 711.0,623.5 712.0,621.8 713.0,621.1 714.0,619.8 715.0,619.3 716.0,621.0 717.0,621.5 718.0,621.8 719.0,621.8 720.0,621.0 721.0,617.6 722.0,618.5 723.0,620.3 724.0,621.2 725.0,621.3 726.0,622.1 727.0,621.9 728.0,622.1 729.0,621.1 730.0,625.9 731.0,629.0 732.0,634.2 733.0,641.3 734.0,648.2 735.0,644.3 736.0,638.1 737.0,632.2 738.0,626.3 739.0,625.5 740.0,622.1 741.0,618.2 742.0,616.3 743.0,616.4 744.0,617.1 745.0,613.5 746.0,612.5 747.0,612.7 748.0,615.2 749.0,611.1 750.0,605.9 751.0,602.3 752.0,600.1 753.0,596.5 754.0,598.5 755.0,601.4 756.0,605.7 757.0,607.3 758.0,609.6 759.0,609.1 760.0,608.1 761.0,604.9 762.0,602.8 763.0,602.1 764.0,601.3 765.0,601.3 766.0,597.2 767.0,594.1 768.0,593.1 769.0,593.9 770.0,591.2 771.0,593.6 772.0,592.4 773.0,593.8 774.0,594.5 775.0,593.3 776.0,592.5 777.0,593.8 778.0,591.9 779.0,589.9 780.0,591.5 781.0,593.0 782.0,596.9 783.0,597.5 784.0,604.5 785.0,599.8 786.0,600.8 787.0,598.7 788.0,603.5 789.0,603.1 790.0,607.9 791.0,610.6 792.0,612.9 793.0,610.5 794.0,609.7 795.0,606.4"/><polyline points="696.0,621.6 697.0,620.4 698.0,618.5 699.0,618.1 700.0,618.1 701.0,618.8 702.0,619.7 703.0,619.2 704.0,618.8 705.0,619.3 706.0,622.6 707.0,623.0 708.0,622.0 709.0,620.5 710.0,621.1 711.0,622.0 712.0,621.4 713.0,620.9 714.0,620.7 715.0,622.5 716.0,623.1 717.0,623.9 718.0,622.1 719.0,620.3 720.0,620.4 721.0,621.4 722.0,622.4 723.0,622.6 724.0,621.6 725.0,621.6 726.0,621.3 727.0,620.7 728.0,618.8 729.0,620.0 730.0,626.9 731.0,633.6 732.0,638.6 733.0,644.6 734.0,652.2 735.0,647.8 736.0,643.8 737.0,637.8 738.0,630.5 739.0,627.5 740.0,625.5 741.0,625.8 742.0,624.7 743.0,621.1 744.0,619.0 745.0,617.3 746.0,615.8 747.0,615.0 748.0,611.5 749.0,613.0 750.0,613.1 751.0,611.5 752.0,609.6 753.0,607.4 754.0,605.0 755.0,600.3 756.0,600.4 757.0,600.9 758.0,601.8 759.0,602.7 760.0,601.8 761.0,604.2 762.0,603.8 763.0,602.5 764.0,604.1 765.0,604.3 766.0,603.8 767.0,601.9 768.0,600.3 769.0,600.0 770.0,601.1 771.0,600.9 772.0,601.7 773.0,602.1 774.0,600.9 775.0,602.9 776.0,603.0 777.0,601.6 778.0,603.5 779.0,605.0 780.0,605.4 781.0,606.3 782.0,606.8 783.0,607.6 784.0,610.2 785.0,611.7 786.0,613.1 787.0,613.1 788.0,614.3 789.0,611.5 790.0,613.4 791.0,613.5 792.0,613.0 793.0,608.5 794.0,606.6 795.0,606.0"/><polyline points="696.0,621.9 697.0,622.9 698.0,622.4 699.0,622.0 700.0,623.1 701.0,623.1 702.0,623.3 703.0,623.7 704.0,622.5 705.0,621.9 706.0,620.6 707.0,620.9 708.0,620.3 709.0,621.8 710.0,620.9 711.0,620.7 712.0,620.4 713.0,619.2 714.0,619.2 715.0,620.6 716.0,620.9 717.0,621.3 718.0,622.2 719.0,621.9 720.0,621.9 721.0,621.1 722.0,618.7 723.0,617.3 724.0,617.2 725.0,618.5 726.0,620.4 727.0,621.9 728.0,623.7 729.0,623.7 730.0,627.8 731.0,631.9 732.0,634.7 733.0,641.5 734.0,649.2 735.0,647.3 736.0,643.1 737.0,637.4 738.0,626.8 739.0,624.0 740.0,625.4 741.0,618.4 742.0,615.6 743.0,612.8 744.0,610.8 745.0,613.3 746.0,615.2 747.0,614.4 748.0,615.6 749.0,615.7 750.0,617.6 751.0,617.0 752.0,610.8 753.0,609.4 754.0,608.6 755.0,608.7 756.0,605.2 757.0,601.1 758.0,601.9 759.0,597.2 760.0,597.0 761.0,596.5 762.0,594.0 763.0,593.0 764.0,588.2 765.0,592.5 766.0,593.4 767.0,591.9 768.0,593.1 769.0,592.9 770.0,596.7 771.0,597.4 772.0,597.3 773.0,599.5 774.0,598.7 775.0,598.0 776.0,597.1 777.0,596.2 778.0,596.9 779.0,596.6 780.0,601.2 781.0,603.3 782.0,603.8 783.0,604.1 784.0,603.7 785.0,602.5 786.0,601.9 787.0,604.9 788.0,612.7 789.0,607.1 790.0,607.7 791.0,606.6 792.0,607.2 793.0,604.3 794.0,604.1 795.0,603.6"/><polyline points="696.0,623.5 697.0,624.2 698.0,622.4 699.0,620.1 700.0,618.7 701.0,618.2 702.0,619.8 703.0,622.2 704.0,622.3 705.0,622.5 706.0,622.5 707.0,622.8 708.0,621.2 709.0,620.4 710.0,619.7 711.0,619.5 712.0,619.4 713.0,619.7 714.0,619.2 715.0,618.3 716.0,618.9 717.0,621.2 718.0,622.9 719.0,622.7 720.0,621.3 721.0,621.4 722.0,620.7 723.0,620.8 724.0,621.6 725.0,622.5 726.0,621.6 727.0,622.3 728.0,624.7 729.0,624.8 730.0,628.0 731.0,633.1 732.0,642.0 733.0,653.1 734.0,666.4 735.0,667.4 736.0,659.5 737.0,652.2 738.0,646.2 739.0,641.6 740.0,637.1 741.0,633.1 742.0,630.6 743.0,626.4 744.0,621.8 745.0,621.7 746.0,618.8 747.0,618.4 748.0,617.2 749.0,617.3 750.0,616.8 751.0,615.4 752.0,613.6 753.0,614.5 754.0,612.9 755.0,613.5 756.0,613.1 757.0,613.3 758.0,614.1 759.0,612.4 760.0,614.3 761.0,614.0 762.0,613.4 763.0,612.0 764.0,610.2 765.0,608.4 766.0,606.1 767.0,603.3 768.0,602.3 769.0,603.3 770.0,602.2 771.0,603.4 772.0,603.4 773.0,603.4 774.0,604.2 775.0,602.9 776.0,603.3 777.0,605.1 778.0,605.0 779.0,606.7 780.0,606.4 781.0,607.7 782.0,608.8 783.0,608.5 784.0,609.5 785.0,612.7 786.0,615.9 787.0,621.9 788.0,617.2 789.0,613.5 790.0,614.7 791.0,613.7 792.0,615.9 793.0,617.1 794.0,619.2 795.0,618.8"/><polyline points="696.0,623.9 697.0,622.7 698.0,621.0 699.0,619.2 700.0,618.9 701.0,619.7 702.0,620.7 703.0,620.6 704.0,621.0 705.0,622.3 706.0,623.5 707.0,623.5 708.0,622.8 709.0,621.8 710.0,622.7 711.0,624.8 712.0,622.9 713.0,620.4 714.0,620.2 715.0,620.8 716.0,622.3 717.0,621.6 718.0,619.9 719.0,619.4 720.0,620.1 721.0,620.1 722.0,621.2 723.0,621.8 724.0,621.2 725.0,620.1 726.0,621.4 727.0,622.7 728.0,622.5 729.0,622.2 730.0,627.1 731.0,635.2 732.0,643.2 733.0,657.8 734.0,669.1 735.0,668.7 736.0,661.2 737.0,653.3 738.0,648.1 739.0,645.3 740.0,641.1 741.0,638.1 742.0,635.4 743.0,632.1 744.0,629.6 745.0,627.0 746.0,627.8 747.0,626.4 748.0,625.1 749.0,624.8 750.0,623.6 751.0,623.2 752.0,623.4 753.0,622.7 754.0,622.2 755.0,624.5 756.0,623.9 757.0,624.3 758.0,622.4 759.0,625.8 760.0,623.6 761.0,622.0 762.0,622.4 763.0,621.3 764.0,619.2 765.0,618.0 766.0,618.2 767.0,617.3 768.0,614.2 769.0,614.4 770.0,614.5 771.0,613.8 772.0,616.1 773.0,613.8 774.0,614.6 775.0,614.1 776.0,614.2 777.0,615.6 778.0,615.3 779.0,613.7 780.0,612.9 781.0,613.0 782.0,613.2 783.0,612.0 784.0,612.7 785.0,613.4 786.0,612.5 787.0,610.3 788.0,610.9 789.0,611.7 790.0,612.2 791.0,613.5 792.0,611.3 793.0,612.4 794.0,610.6 795.0,610.6"/><polyline points="696.0,620.9 697.0,621.1 698.0,621.6 699.0,621.3 700.0,621.2 701.0,621.6 702.0,621.6 703.0,622.3 704.0,621.3 705.0,620.0 706.0,619.8 707.0,620.7 708.0,620.8 709.0,621.0 710.0,621.4 711.0,622.4 712.0,622.2 713.0,620.7 714.0,618.7 715.0,619.2 716.0,620.0 717.0,620.8 718.0,620.4 719.0,619.2 720.0,620.0 721.0,622.0 722.0,622.9 723.0,622.5 724.0,621.2 725.0,620.0 726.0,620.7 727.0,621.6 728.0,622.2 729.0,622.0 730.0,626.1 731.0,631.2 732.0,637.5 733.0,645.0 734.0,652.6 735.0,649.7 736.0,646.8 737.0,640.7 738.0,636.6 739.0,633.4 740.0,629.0 741.0,627.8 742.0,625.9 743.0,623.8 744.0,621.2 745.0,623.1 746.0,620.6 747.0,618.1 748.0,617.2 749.0,615.2 750.0,614.5 751.0,612.5 752.0,611.8 753.0,609.1 754.0,610.6 755.0,611.6 756.0,609.9 757.0,607.9 758.0,607.1 759.0,606.9 760.0,605.3 761.0,604.0 762.0,604.4 763.0,602.6 764.0,602.0 765.0,598.0 766.0,598.0 767.0,600.0 768.0,599.2 769.0,601.1 770.0,603.0 771.0,600.8 772.0,602.0 773.0,603.1 774.0,605.5 775.0,605.3 776.0,608.4 777.0,607.9 778.0,610.2 779.0,610.1 780.0,610.9 781.0,612.5 782.0,610.6 783.0,608.6 784.0,606.0 785.0,606.2 786.0,607.6 787.0,611.5 788.0,608.0 789.0,606.6 790.0,607.1 791.0,604.7 792.0,605.6 793.0,605.1 794.0,606.9 795.0,606.2"/><polyline points="696.0,620.7 697.0,619.8 698.0,620.1 699.0,620.8 700.0,622.5 701.0,621.3 702.0,620.8 703.0,621.4 704.0,622.3 705.0,623.7 706.0,622.2 707.0,623.4 708.0,623.0 709.0,622.8 710.0,622.9 711.0,623.2 712.0,623.3 713.0,622.9 714.0,623.5 715.0,625.4 716.0,624.5 717.0,625.4 718.0,623.3 719.0,621.5 720.0,621.2 721.0,623.2 722.0,623.8 723.0,622.4 724.0,622.2 725.0,619.4 726.0,618.6 727.0,617.2 728.0,618.6 729.0,619.3 730.0,627.7 731.0,637.6 732.0,650.3 733.0,664.7 734.0,675.9 735.0,673.9 736.0,670.1 737.0,662.5 738.0,652.1 739.0,648.9 740.0,642.0 741.0,643.8 742.0,642.3 743.0,636.2 744.0,636.6 745.0,635.6 746.0,631.1 747.0,632.5 748.0,631.0 749.0,629.2 750.0,624.2 751.0,622.0 752.0,625.4 753.0,617.8 754.0,618.4 755.0,616.5 756.0,617.5 757.0,620.5 758.0,622.5 759.0,625.6 760.0,624.2 761.0,620.3 762.0,618.3 763.0,614.6 764.0,618.1 765.0,618.9 766.0,619.3 767.0,621.5 768.0,618.3 769.0,622.2 770.0,620.1 771.0,617.1 772.0,616.8 773.0,613.8 774.0,614.7 775.0,616.0 776.0,618.2 777.0,619.1 778.0,620.5 779.0,620.2 780.0,621.8 781.0,619.6 782.0,617.8 783.0,619.9 784.0,621.1 785.0,619.1 786.0,616.8 787.0,619.5 788.0,621.8 789.0,618.2 790.0,615.2 791.0,613.6 792.0,615.4 793.0,623.0 794.0,621.3 795.0,622.1"/><polyline points="696.0,621.6 697.0,623.0 698.0,623.2 699.0,622.1 700.0,621.8 701.0,620.6 702.0,617.9 703.0,617.6 704.0,617.4 705.0,619.0 706.0,619.7 707.0,620.0 708.0,620.4 709.0,622.0 710.0,623.2 711.0,621.9 712.0,621.8 713.0,620.3 714.0,621.1 715.0,621.5 716.0,624.0 717.0,624.0 718.0,624.1 719.0,624.0 720.0,623.6 721.0,621.0 722.0,619.2 723.0,619.4 724.0,620.8 725.0,621.2 726.0,621.1 727.0,620.1 728.0,620.1 729.0,619.7 730.0,624.9 731.0,632.8 732.0,642.2 733.0,655.3 734.0,668.2 735.0,678.5 736.0,675.7 737.0,666.1 738.0,658.8 739.0,655.4 740.0,651.1 741.0,649.8 742.0,644.1 743.0,642.2 744.0,638.6 745.0,638.3 746.0,636.8 747.0,632.9 748.0,633.0 749.0,632.5 750.0,634.9 751.0,634.4 752.0,629.5 753.0,627.1 754.0,628.5 755.0,629.2 756.0,626.1 757.0,627.0 758.0,622.3 759.0,620.8 760.0,619.0 761.0,621.8 762.0,618.3 763.0,619.2 764.0,619.2 765.0,617.4 766.0,614.3 767.0,614.4 768.0,614.3 769.0,615.9 770.0,613.0 771.0,612.5 772.0,612.6 773.0,612.9 774.0,612.9 775.0,614.8 776.0,612.8 777.0,613.2 778.0,612.2 779.0,615.0 780.0,611.2 781.0,613.6 782.0,613.8 783.0,614.1 784.0,615.8 785.0,611.3 786.0,613.4 787.0,615.0 788.0,618.2 789.0,619.3 790.0,621.0 791.0,619.3 792.0,622.0 793.0,621.5 794.0,618.9 795.0,615.5"/><polyline points="696.0,622.8 697.0,621.8 698.0,621.3 699.0,621.6 700.0,622.0 701.0,621.4 702.0,621.1 703.0,620.6 704.0,620.5 705.0,621.3 706.0,622.0 707.0,621.5 708.0,621.7 709.0,619.1 710.0,620.2 711.0,621.3 712.0,622.1 713.0,622.3 714.0,620.0 715.0,619.0 716.0,620.0 717.0,620.8 718.0,620.8 719.0,622.9 720.0,623.0 721.0,621.6 722.0,621.7 723.0,620.4 724.0,620.5 725.0,621.9 726.0,620.3 727.0,618.6 728.0,620.3 729.0,620.4 730.0,625.6 731.0,651.3 732.0,675.1 733.0,695.0 734.0,679.8 735.0,663.0 736.0,642.4 737.0,634.4 738.0,632.5 739.0,627.0 740.0,624.3 741.0,617.5 742.0,619.5 743.0,613.1 744.0,615.2 745.0,614.1 746.0,615.2 747.0,611.8 748.0,609.5 749.0,607.2 750.0,605.7 751.0,600.5 752.0,599.8 753.0,597.1 754.0,595.9 755.0,595.8 756.0,595.4 757.0,597.8 758.0,600.2 759.0,600.5 760.0,599.4 761.0,596.3 762.0,599.7 763.0,597.6 764.0,596.9 765.0,598.4 766.0,597.0 767.0,596.2 768.0,596.8 769.0,598.7 770.0,600.5 771.0,603.2 772.0,608.9 773.0,609.3 774.0,609.9 775.0,609.6 776.0,606.2 777.0,607.7 778.0,604.8 779.0,602.8 780.0,601.8 781.0,601.5 782.0,598.8 783.0,597.0 784.0,597.5 785.0,595.8 786.0,597.0 787.0,596.1 788.0,598.7 789.0,599.2 790.0,599.1 791.0,595.5 792.0,596.8 793.0,597.3 794.0,599.4 795.0,599.2"/><polyline points="696.0,620.9 697.0,622.1 698.0,622.6 699.0,621.0 700.0,620.2 701.0,619.4 702.0,620.0 703.0,620.9 704.0,621.9 705.0,621.4 706.0,621.1 707.0,620.2 708.0,620.9 709.0,622.7 710.0,622.6 711.0,620.4 712.0,620.0 713.0,620.8 714.0,622.4 715.0,621.8 716.0,622.2 717.0,622.0 718.0,621.4 719.0,621.6 720.0,622.4 721.0,620.9 722.0,620.0 723.0,619.9 724.0,620.7 725.0,621.6 726.0,621.5 727.0,620.0 728.0,619.4 729.0,619.4 730.0,624.8 731.0,630.8 732.0,636.2 733.0,646.0 734.0,653.2 735.0,650.5 736.0,651.5 737.0,658.8 738.0,646.4 739.0,637.5 740.0,635.7 741.0,635.9 742.0,637.3 743.0,634.6 744.0,632.0 745.0,632.2 746.0,628.4 747.0,625.6 748.0,619.7 749.0,619.2 750.0,615.9 751.0,617.1 752.0,614.6 753.0,614.0 754.0,614.3 755.0,611.8 756.0,608.2 757.0,609.0 758.0,608.1 759.0,604.7 760.0,603.8 761.0,605.1 762.0,607.7 763.0,605.0 764.0,605.3 765.0,602.3 766.0,604.7 767.0,605.1 768.0,604.9 769.0,604.7 770.0,606.8 771.0,609.4 772.0,611.3 773.0,612.6 774.0,614.7 775.0,612.4 776.0,614.3 777.0,614.7 778.0,616.7 779.0,616.5 780.0,613.8 781.0,615.8 782.0,612.9 783.0,613.1 784.0,609.7 785.0,607.2 786.0,605.9 787.0,604.1 788.0,604.3 789.0,605.3 790.0,608.2 791.0,607.6 792.0,606.9 793.0,606.7 794.0,608.7 795.0,608.8"/><polyline points="696.0,618.9 697.0,620.5 698.0,622.5 699.0,622.8 700.0,621.8 701.0,621.0 702.0,620.8 703.0,620.5 704.0,618.9 705.0,618.6 706.0,620.1 707.0,622.0 708.0,622.6 709.0,622.1 710.0,621.9 711.0,621.9 712.0,621.6 713.0,621.0 714.0,621.2 715.0,621.2 716.0,619.2 717.0,618.0 718.0,619.2 719.0,619.9 720.0,620.4 721.0,621.2 722.0,621.7 723.0,623.1 724.0,623.8 725.0,622.3 726.0,621.7 727.0,621.0 728.0,620.7 729.0,620.9 730.0,625.2 731.0,629.9 732.0,634.7 733.0,642.5 734.0,652.8 735.0,649.6 736.0,644.6 737.0,638.8 738.0,633.2 739.0,631.2 740.0,628.3 741.0,625.1 742.0,622.5 743.0,619.6 744.0,618.9 745.0,618.8 746.0,618.8 747.0,616.0 748.0,614.8 749.0,614.1 750.0,612.5 751.0,612.2 752.0,610.2 753.0,609.7 754.0,606.2 755.0,604.9 756.0,604.3 757.0,604.4 758.0,602.1 759.0,604.5 760.0,603.0 761.0,606.6 762.0,605.8 763.0,603.7 764.0,604.4 765.0,603.4 766.0,600.1 767.0,601.8 768.0,602.9 769.0,603.2 770.0,605.1 771.0,604.9 772.0,606.0 773.0,606.3 774.0,605.9 775.0,606.9 776.0,607.4 777.0,607.7 778.0,608.6 779.0,609.9 780.0,610.1 781.0,610.7 782.0,612.2 783.0,611.4 784.0,611.7 785.0,611.5 786.0,610.8 787.0,611.7 788.0,610.4 789.0,611.0 790.0,611.3 791.0,611.1 792.0,611.7 793.0,611.8 794.0,613.2 795.0,614.4"/><polyline points="696.0,619.7 697.0,620.3 698.0,620.7 699.0,620.6 700.0,622.0 701.0,621.6 702.0,620.6 703.0,620.5 704.0,621.4 705.0,620.5 706.0,620.4 707.0,620.5 708.0,621.1 709.0,620.3 710.0,621.8 711.0,622.8 712.0,622.6 713.0,621.4 714.0,621.4 715.0,621.2 716.0,620.6 717.0,620.2 718.0,618.9 719.0,620.2 720.0,620.4 721.0,621.4 722.0,620.7 723.0,620.3 724.0,619.7 725.0,619.6 726.0,618.8 727.0,620.0 728.0,620.8 729.0,621.7 730.0,629.2 731.0,637.6 732.0,646.1 733.0,659.1 734.0,670.8 735.0,671.7 736.0,666.2 737.0,657.1 738.0,651.3 739.0,649.5 740.0,647.2 741.0,641.9 742.0,637.4 743.0,635.0 744.0,631.5 745.0,628.0 746.0,625.7 747.0,625.4 748.0,626.7 749.0,625.4 750.0,623.5 751.0,622.5 752.0,620.1 753.0,621.0 754.0,620.1 755.0,623.3 756.0,624.7 757.0,624.4 758.0,625.4 759.0,622.4 760.0,623.2 761.0,617.8 762.0,614.3 763.0,614.2 764.0,611.8 765.0,613.3 766.0,613.2 767.0,613.8 768.0,613.0 769.0,612.6 770.0,612.3 771.0,611.7 772.0,612.2 773.0,610.0 774.0,607.7 775.0,606.5 776.0,606.4 777.0,606.5 778.0,607.5 779.0,607.6 780.0,609.3 781.0,612.0 782.0,611.3 783.0,611.8 784.0,611.4 785.0,610.1 786.0,608.3 787.0,610.0 788.0,612.2 789.0,614.9 790.0,613.9 791.0,615.9 792.0,613.2 793.0,611.8 794.0,612.5 795.0,612.6"/><polyline points="696.0,621.1 697.0,622.3 698.0,622.0 699.0,621.7 700.0,621.4 701.0,620.3 702.0,620.2 703.0,620.4 704.0,621.7 705.0,623.5 706.0,623.6 707.0,622.9 708.0,622.0 709.0,621.9 710.0,621.2 711.0,620.2 712.0,618.6 713.0,618.8 714.0,618.7 715.0,618.5 716.0,619.7 717.0,621.9 718.0,622.2 719.0,622.0 720.0,620.7 721.0,622.1 722.0,622.8 723.0,622.6 724.0,621.3 725.0,619.8 726.0,620.1 727.0,620.5 728.0,620.2 729.0,620.8 730.0,627.3 731.0,634.4 732.0,638.3 733.0,648.7 734.0,657.3 735.0,652.8 736.0,646.3 737.0,640.8 738.0,641.9 739.0,646.6 740.0,639.0 741.0,634.0 742.0,635.0 743.0,632.9 744.0,631.8 745.0,631.5 746.0,631.9 747.0,632.1 748.0,629.6 749.0,626.9 750.0,622.5 751.0,620.0 752.0,620.9 753.0,620.5 754.0,619.5 755.0,617.6 756.0,617.9 757.0,617.7 758.0,619.0 759.0,616.4 760.0,615.6 761.0,616.2 762.0,617.7 763.0,616.0 764.0,614.2 765.0,614.3 766.0,615.2 767.0,611.5 768.0,610.3 769.0,610.9 770.0,610.0 771.0,613.5 772.0,610.5 773.0,612.1 774.0,611.2 775.0,612.2 776.0,613.6 777.0,613.7 778.0,611.7 779.0,611.9 780.0,610.4 781.0,610.0 782.0,611.4 783.0,611.3 784.0,611.2 785.0,608.7 786.0,605.3 787.0,607.0 788.0,607.7 789.0,608.1 790.0,609.9 791.0,611.2 792.0,612.3 793.0,614.0 794.0,609.9 795.0,612.4"/><polyline points="696.0,621.5 697.0,621.6 698.0,621.1 699.0,621.7 700.0,622.4 701.0,622.6 702.0,621.9 703.0,622.0 704.0,621.6 705.0,622.1 706.0,622.6 707.0,623.1 708.0,622.5 709.0,622.5 710.0,619.7 711.0,619.6 712.0,620.1 713.0,620.7 714.0,621.3 715.0,622.1 716.0,621.9 717.0,622.7 718.0,623.4 719.0,622.3 720.0,621.1 721.0,620.6 722.0,620.5 723.0,620.0 724.0,619.6 725.0,620.6 726.0,619.7 727.0,619.8 728.0,621.7 729.0,623.0 730.0,627.5 731.0,634.1 732.0,641.1 733.0,650.7 734.0,676.6 735.0,692.8 736.0,710.0 737.0,688.0 738.0,677.3 739.0,682.0 740.0,667.2 741.0,650.4 742.0,631.4 743.0,627.2 744.0,626.0 745.0,627.6 746.0,626.7 747.0,627.4 748.0,624.9 749.0,624.2 750.0,622.2 751.0,622.1 752.0,618.1 753.0,615.7 754.0,614.3 755.0,613.5 756.0,612.8 757.0,614.1 758.0,613.4 759.0,613.2 760.0,611.5 761.0,611.3 762.0,611.9 763.0,613.4 764.0,610.1 765.0,612.0 766.0,609.2 767.0,609.5 768.0,610.4 769.0,611.8 770.0,610.9 771.0,607.4 772.0,607.2 773.0,607.0 774.0,604.2 775.0,606.4 776.0,608.8 777.0,608.7 778.0,608.9 779.0,609.1 780.0,610.3 781.0,610.3 782.0,610.7 783.0,613.0 784.0,611.9 785.0,614.6 786.0,613.3 787.0,616.0 788.0,617.0 789.0,616.4 790.0,616.4 791.0,613.1 792.0,610.8 793.0,605.1 794.0,611.6 795.0,614.2"/><polyline points="696.0,622.5 697.0,621.6 698.0,621.0 699.0,619.9 700.0,619.7 701.0,619.4 702.0,619.4 703.0,620.7 704.0,621.2 705.0,620.2 706.0,619.7 707.0,619.5 708.0,619.7 709.0,620.1 710.0,620.8 711.0,621.9 712.0,622.9 713.0,623.2 714.0,622.5 715.0,620.2 716.0,619.4 717.0,620.6 718.0,621.9 719.0,622.8 720.0,622.7 721.0,622.7 722.0,623.8 723.0,622.8 724.0,622.3 725.0,621.7 726.0,622.5 727.0,620.6 728.0,619.8 729.0,620.2 730.0,625.2 731.0,632.7 732.0,643.1 733.0,656.5 734.0,669.0 735.0,672.3 736.0,667.0 737.0,655.1 738.0,649.9 739.0,646.2 740.0,639.5 741.0,632.9 742.0,629.6 743.0,624.0 744.0,619.9 745.0,617.1 746.0,616.7 747.0,611.2 748.0,606.4 749.0,615.5 750.0,624.5 751.0,622.0 752.0,621.2 753.0,622.2 754.0,622.6 755.0,617.6 756.0,617.5 757.0,619.0 758.0,619.2 759.0,618.9 760.0,623.9 761.0,624.4 762.0,619.5 763.0,619.6 764.0,620.0 765.0,615.1 766.0,619.1 767.0,619.0 768.0,619.1 769.0,617.2 770.0,617.9 771.0,619.0 772.0,619.5 773.0,618.9 774.0,619.4 775.0,617.4 776.0,617.5 777.0,615.5 778.0,616.3 779.0,616.6 780.0,613.7 781.0,614.3 782.0,611.6 783.0,611.3 784.0,611.6 785.0,610.9 786.0,611.0 787.0,611.1 788.0,611.4 789.0,613.7 790.0,612.0 791.0,608.3 792.0,609.9 793.0,608.4 794.0,607.7 795.0,607.5"/><polyline points="696.0,620.6 697.0,622.5 698.0,623.6 699.0,622.5 700.0,620.2 701.0,620.4 702.0,622.5 703.0,623.9 704.0,623.5 705.0,621.7 706.0,619.5 707.0,619.6 708.0,618.7 709.0,620.1 710.0,620.7 711.0,621.8 712.0,621.7 713.0,620.3 714.0,620.2 715.0,620.4 716.0,620.1 717.0,620.8 718.0,622.1 719.0,621.5 720.0,620.1 721.0,621.3 722.0,621.3 723.0,621.6 724.0,622.0 725.0,622.9 726.0,622.6 727.0,621.8 728.0,619.7 729.0,619.2 730.0,625.2 731.0,633.7 732.0,641.0 733.0,646.5 734.0,652.3 735.0,648.1 736.0,645.9 737.0,639.8 738.0,631.8 739.0,631.7 740.0,631.2 741.0,630.6 742.0,629.8 743.0,627.9 744.0,629.5 745.0,634.0 746.0,633.3 747.0,629.7 748.0,627.4 749.0,624.5 750.0,628.4 751.0,631.6 752.0,626.5 753.0,624.6 754.0,622.9 755.0,622.0 756.0,621.0 757.0,619.6 758.0,616.7 759.0,617.3 760.0,617.6 761.0,616.9 762.0,618.0 763.0,619.5 764.0,621.0 765.0,621.2 766.0,624.6 767.0,624.9 768.0,615.9 769.0,613.2 770.0,617.0 771.0,616.6 772.0,616.0 773.0,617.2 774.0,616.9 775.0,617.5 776.0,615.2 777.0,616.1 778.0,613.3 779.0,614.9 780.0,616.2 781.0,615.3 782.0,615.4 783.0,617.9 784.0,616.9 785.0,617.1 786.0,619.2 787.0,619.2 788.0,618.0 789.0,618.6 790.0,616.7 791.0,610.3 792.0,611.3 793.0,618.0 794.0,617.7 795.0,616.8"/><polyline points="696.0,619.8 697.0,620.2 698.0,620.5 699.0,619.8 700.0,618.8 701.0,619.4 702.0,621.0 703.0,619.6 704.0,619.4 705.0,619.9 706.0,620.8 707.0,620.6 708.0,619.8 709.0,617.9 710.0,616.7 711.0,619.1 712.0,619.5 713.0,620.0 714.0,619.7 715.0,621.7 716.0,621.9 717.0,622.9 718.0,621.3 719.0,620.8 720.0,621.8 721.0,622.5 722.0,622.7 723.0,622.1 724.0,622.2 725.0,625.2 726.0,625.4 727.0,624.6 728.0,623.4 729.0,622.2 730.0,625.7 731.0,630.6 732.0,633.6 733.0,641.7 734.0,649.5 735.0,644.9 736.0,636.1 737.0,634.7 738.0,627.3 739.0,624.7 740.0,621.1 741.0,620.1 742.0,615.8 743.0,611.3 744.0,605.5 745.0,603.7 746.0,604.5 747.0,605.6 748.0,603.0 749.0,604.4 750.0,601.9 751.0,599.0 752.0,599.3 753.0,597.5 754.0,599.8 755.0,599.3 756.0,600.9 757.0,606.1 758.0,603.9 759.0,608.6 760.0,608.6 761.0,605.3 762.0,603.0 763.0,606.5 764.0,599.7 765.0,603.5 766.0,598.4 767.0,599.5 768.0,603.2 769.0,605.6 770.0,605.3 771.0,602.2 772.0,599.7 773.0,596.3 774.0,596.1 775.0,597.3 776.0,599.1 777.0,600.2 778.0,598.2 779.0,594.8 780.0,594.5 781.0,594.5 782.0,593.9 783.0,596.9 784.0,598.7 785.0,599.0 786.0,597.4 787.0,593.7 788.0,598.4 789.0,597.6 790.0,595.0 791.0,595.9 792.0,596.4 793.0,596.9 794.0,599.6 795.0,601.4"/><polyline points="696.0,622.7 697.0,622.3 698.0,620.3 699.0,619.3 700.0,618.5 701.0,617.9 702.0,620.2 703.0,621.6 704.0,622.4 705.0,622.4 706.0,620.9 707.0,619.2 708.0,618.5 709.0,618.8 710.0,620.4 711.0,620.7 712.0,620.4 713.0,620.7 714.0,619.9 715.0,620.1 716.0,621.0 717.0,621.4 718.0,621.6 719.0,621.6 720.0,621.2 721.0,621.9 722.0,624.7 723.0,624.9 724.0,624.0 725.0,624.3 726.0,622.7 727.0,622.0 728.0,621.5 729.0,621.6 730.0,625.7 731.0,631.2 732.0,634.5 733.0,642.6 734.0,648.5 735.0,644.5 736.0,641.2 737.0,632.4 738.0,630.3 739.0,625.1 740.0,621.9 741.0,622.2 742.0,618.2 743.0,617.1 744.0,616.4 745.0,615.8 746.0,616.1 747.0,616.7 748.0,618.9 749.0,618.1 750.0,616.8 751.0,616.2 752.0,616.2 753.0,614.5 754.0,616.3 755.0,611.2 756.0,610.9 757.0,609.3 758.0,604.1 759.0,602.9 760.0,599.8 761.0,602.7 762.0,598.6 763.0,591.6 764.0,589.7 765.0,588.0 766.0,589.4 767.0,589.9 768.0,595.0 769.0,600.4 770.0,596.1 771.0,592.4 772.0,595.8 773.0,598.1 774.0,601.1 775.0,603.9 776.0,604.7 777.0,605.5 778.0,605.0 779.0,604.3 780.0,601.9 781.0,601.8 782.0,601.1 783.0,600.0 784.0,602.0 785.0,601.4 786.0,603.1 787.0,602.5 788.0,603.8 789.0,604.7 790.0,605.8 791.0,608.3 792.0,606.4 793.0,604.0 794.0,605.7 795.0,607.1"/><polyline points="696.0,621.2 697.0,621.9 698.0,621.9 699.0,620.9 700.0,621.6 701.0,623.1 702.0,622.1 703.0,621.8 704.0,621.8 705.0,620.6 706.0,620.2 707.0,621.0 708.0,622.3 709.0,622.5 710.0,621.7 711.0,621.2 712.0,621.2 713.0,620.3 714.0,620.0 715.0,621.2 716.0,621.1 717.0,621.3 718.0,620.8 719.0,619.8 720.0,620.2 721.0,621.9 722.0,622.7 723.0,622.4 724.0,621.8 725.0,620.6 726.0,620.3 727.0,620.8 728.0,621.0 729.0,621.0 730.0,625.3 731.0,632.3 732.0,640.1 733.0,649.8 734.0,659.1 735.0,655.6 736.0,649.2 737.0,642.3 738.0,636.1 739.0,633.1 740.0,630.3 741.0,627.5 742.0,626.4 743.0,624.7 744.0,622.1 745.0,619.8 746.0,618.0 747.0,619.3 748.0,617.4 749.0,616.0 750.0,614.4 751.0,613.7 752.0,612.6 753.0,612.2 754.0,612.0 755.0,610.7 756.0,612.9 757.0,612.8 758.0,613.7 759.0,614.4 760.0,613.6 761.0,613.4 762.0,611.7 763.0,611.6 764.0,610.7 765.0,610.6 766.0,609.1 767.0,608.0 768.0,607.6 769.0,607.6 770.0,607.0 771.0,607.3 772.0,608.6 773.0,607.9 774.0,606.7 775.0,606.7 776.0,608.5 777.0,608.3 778.0,608.7 779.0,607.8 780.0,607.5 781.0,606.4 782.0,606.5 783.0,609.1 784.0,610.0 785.0,609.9 786.0,609.8 787.0,611.7 788.0,611.5 789.0,612.1 790.0,612.2 791.0,613.1 792.0,611.9 793.0,612.4 794.0,611.8 795.0,612.0"/><polyline points="696.0,619.4 697.0,620.7 698.0,620.5 699.0,619.5 700.0,620.7 701.0,622.3 702.0,622.7 703.0,621.3 704.0,621.5 705.0,621.9 706.0,622.2 707.0,622.6 708.0,623.3 709.0,622.0 710.0,621.4 711.0,619.9 712.0,620.4 713.0,622.2 714.0,622.1 715.0,620.9 716.0,622.7 717.0,623.6 718.0,622.4 719.0,621.2 720.0,620.9 721.0,619.9 722.0,620.8 723.0,621.5 724.0,621.2 725.0,622.0 726.0,623.4 727.0,623.7 728.0,622.6 729.0,622.2 730.0,626.3 731.0,631.4 732.0,635.1 733.0,642.7 734.0,647.5 735.0,644.6 736.0,639.2 737.0,633.3 738.0,629.0 739.0,624.3 740.0,622.3 741.0,618.6 742.0,614.5 743.0,612.3 744.0,609.2 745.0,610.7 746.0,610.4 747.0,609.9 748.0,613.7 749.0,612.2 750.0,608.2 751.0,607.3 752.0,605.7 753.0,607.0 754.0,606.9 755.0,604.6 756.0,604.5 757.0,605.0 758.0,602.6 759.0,601.5 760.0,600.4 761.0,599.1 762.0,600.8 763.0,598.8 764.0,598.0 765.0,600.0 766.0,597.9 767.0,598.1 768.0,598.1 769.0,598.9 770.0,596.4 771.0,593.7 772.0,592.4 773.0,594.1 774.0,591.1 775.0,590.4 776.0,592.7 777.0,592.9 778.0,593.2 779.0,592.9 780.0,593.3 781.0,592.7 782.0,591.6 783.0,593.0 784.0,595.8 785.0,597.9 786.0,597.6 787.0,598.8 788.0,598.3 789.0,598.2 790.0,600.4 791.0,603.2 792.0,603.0 793.0,606.7 794.0,605.9 795.0,603.8"/><polyline points="696.0,622.2 697.0,621.9 698.0,620.5 699.0,620.2 700.0,619.6 701.0,620.0 702.0,620.5 703.0,622.2 704.0,622.3 705.0,620.8 706.0,618.8 707.0,620.0 708.0,622.2 709.0,622.4 710.0,622.1 711.0,621.5 712.0,621.8 713.0,622.6 714.0,623.1 715.0,621.3 716.0,619.8 717.0,619.9 718.0,622.5 719.0,621.6 720.0,620.1 721.0,617.8 722.0,618.7 723.0,620.5 724.0,622.5 725.0,622.6 726.0,622.5 727.0,621.6 728.0,620.9 729.0,620.2 730.0,625.3 731.0,634.2 732.0,641.3 733.0,652.4 734.0,661.8 735.0,662.8 736.0,656.3 737.0,651.5 738.0,648.3 739.0,644.5 740.0,641.5 741.0,641.6 742.0,635.8 743.0,636.4 744.0,633.0 745.0,631.6 746.0,630.1 747.0,629.5 748.0,627.7 749.0,627.3 750.0,628.7 751.0,626.0 752.0,621.2 753.0,618.3 754.0,615.0 755.0,615.1 756.0,613.1 757.0,614.3 758.0,614.8 759.0,613.9 760.0,611.0 761.0,612.0 762.0,609.3 763.0,609.1 764.0,608.0 765.0,608.4 766.0,609.9 767.0,607.0 768.0,607.0 769.0,605.6 770.0,606.5 771.0,604.4 772.0,604.8 773.0,604.2 774.0,603.1 775.0,605.3 776.0,605.9 777.0,605.5 778.0,604.4 779.0,604.9 780.0,605.1 781.0,604.9 782.0,606.3 783.0,609.7 784.0,611.0 785.0,613.6 786.0,613.8 787.0,615.2 788.0,615.8 789.0,617.1 790.0,616.9 791.0,617.1 792.0,618.4 793.0,616.6 794.0,617.9 795.0,617.3"/></g>
<polyline points="696.0,622.7 697.0,621.7 698.0,621.4 699.0,620.8 700.0,621.4 701.0,620.5 702.0,620.6 703.0,620.2 704.0,620.9 705.0,621.2 706.0,620.4 707.0,620.2 708.0,621.5 709.0,620.4 710.0,620.7 711.0,621.1 712.0,621.4 713.0,621.4 714.0,621.2 715.0,620.7 716.0,620.6 717.0,621.7 718.0,621.7 719.0,621.1 720.0,620.9 721.0,621.2 722.0,621.2 723.0,621.8 724.0,621.2 725.0,622.0 726.0,621.6 727.0,621.0 728.0,621.3 729.0,621.6 730.0,626.6 731.0,632.6 732.0,637.8 733.0,646.3 734.0,656.4 735.0,652.2 736.0,648.4 737.0,644.4 738.0,638.5 739.0,634.6 740.0,630.5 741.0,629.2 742.0,628.3 743.0,625.3 744.0,623.6 745.0,622.2 746.0,620.6 747.0,620.4 748.0,619.0 749.0,617.9 750.0,617.3 751.0,615.0 752.0,614.4 753.0,612.4 754.0,612.7 755.0,611.0 756.0,611.4 757.0,610.7 758.0,610.6 759.0,609.8 760.0,610.0 761.0,608.9 762.0,608.6 763.0,609.3 764.0,607.7 765.0,608.6 766.0,606.9 767.0,607.0 768.0,606.5 769.0,607.0 770.0,605.5 771.0,606.8 772.0,606.4 773.0,606.7 774.0,606.6 775.0,607.8 776.0,607.8 777.0,608.9 778.0,607.1 779.0,608.2 780.0,609.5 781.0,608.5 782.0,609.0 783.0,608.8 784.0,609.5 785.0,610.2 786.0,609.1 787.0,608.2 788.0,609.5 789.0,608.5 790.0,610.6 791.0,609.1 792.0,610.5 793.0,610.0 794.0,610.5 795.0,610.3" fill="none" stroke="#151515" stroke-width="3.2" stroke-linejoin="round" stroke-linecap="round"/>
<path d="M481.8,682.6 V721.2 H515.6" fill="none" stroke="#111" stroke-width="2.4"/>
</svg></body></html>
